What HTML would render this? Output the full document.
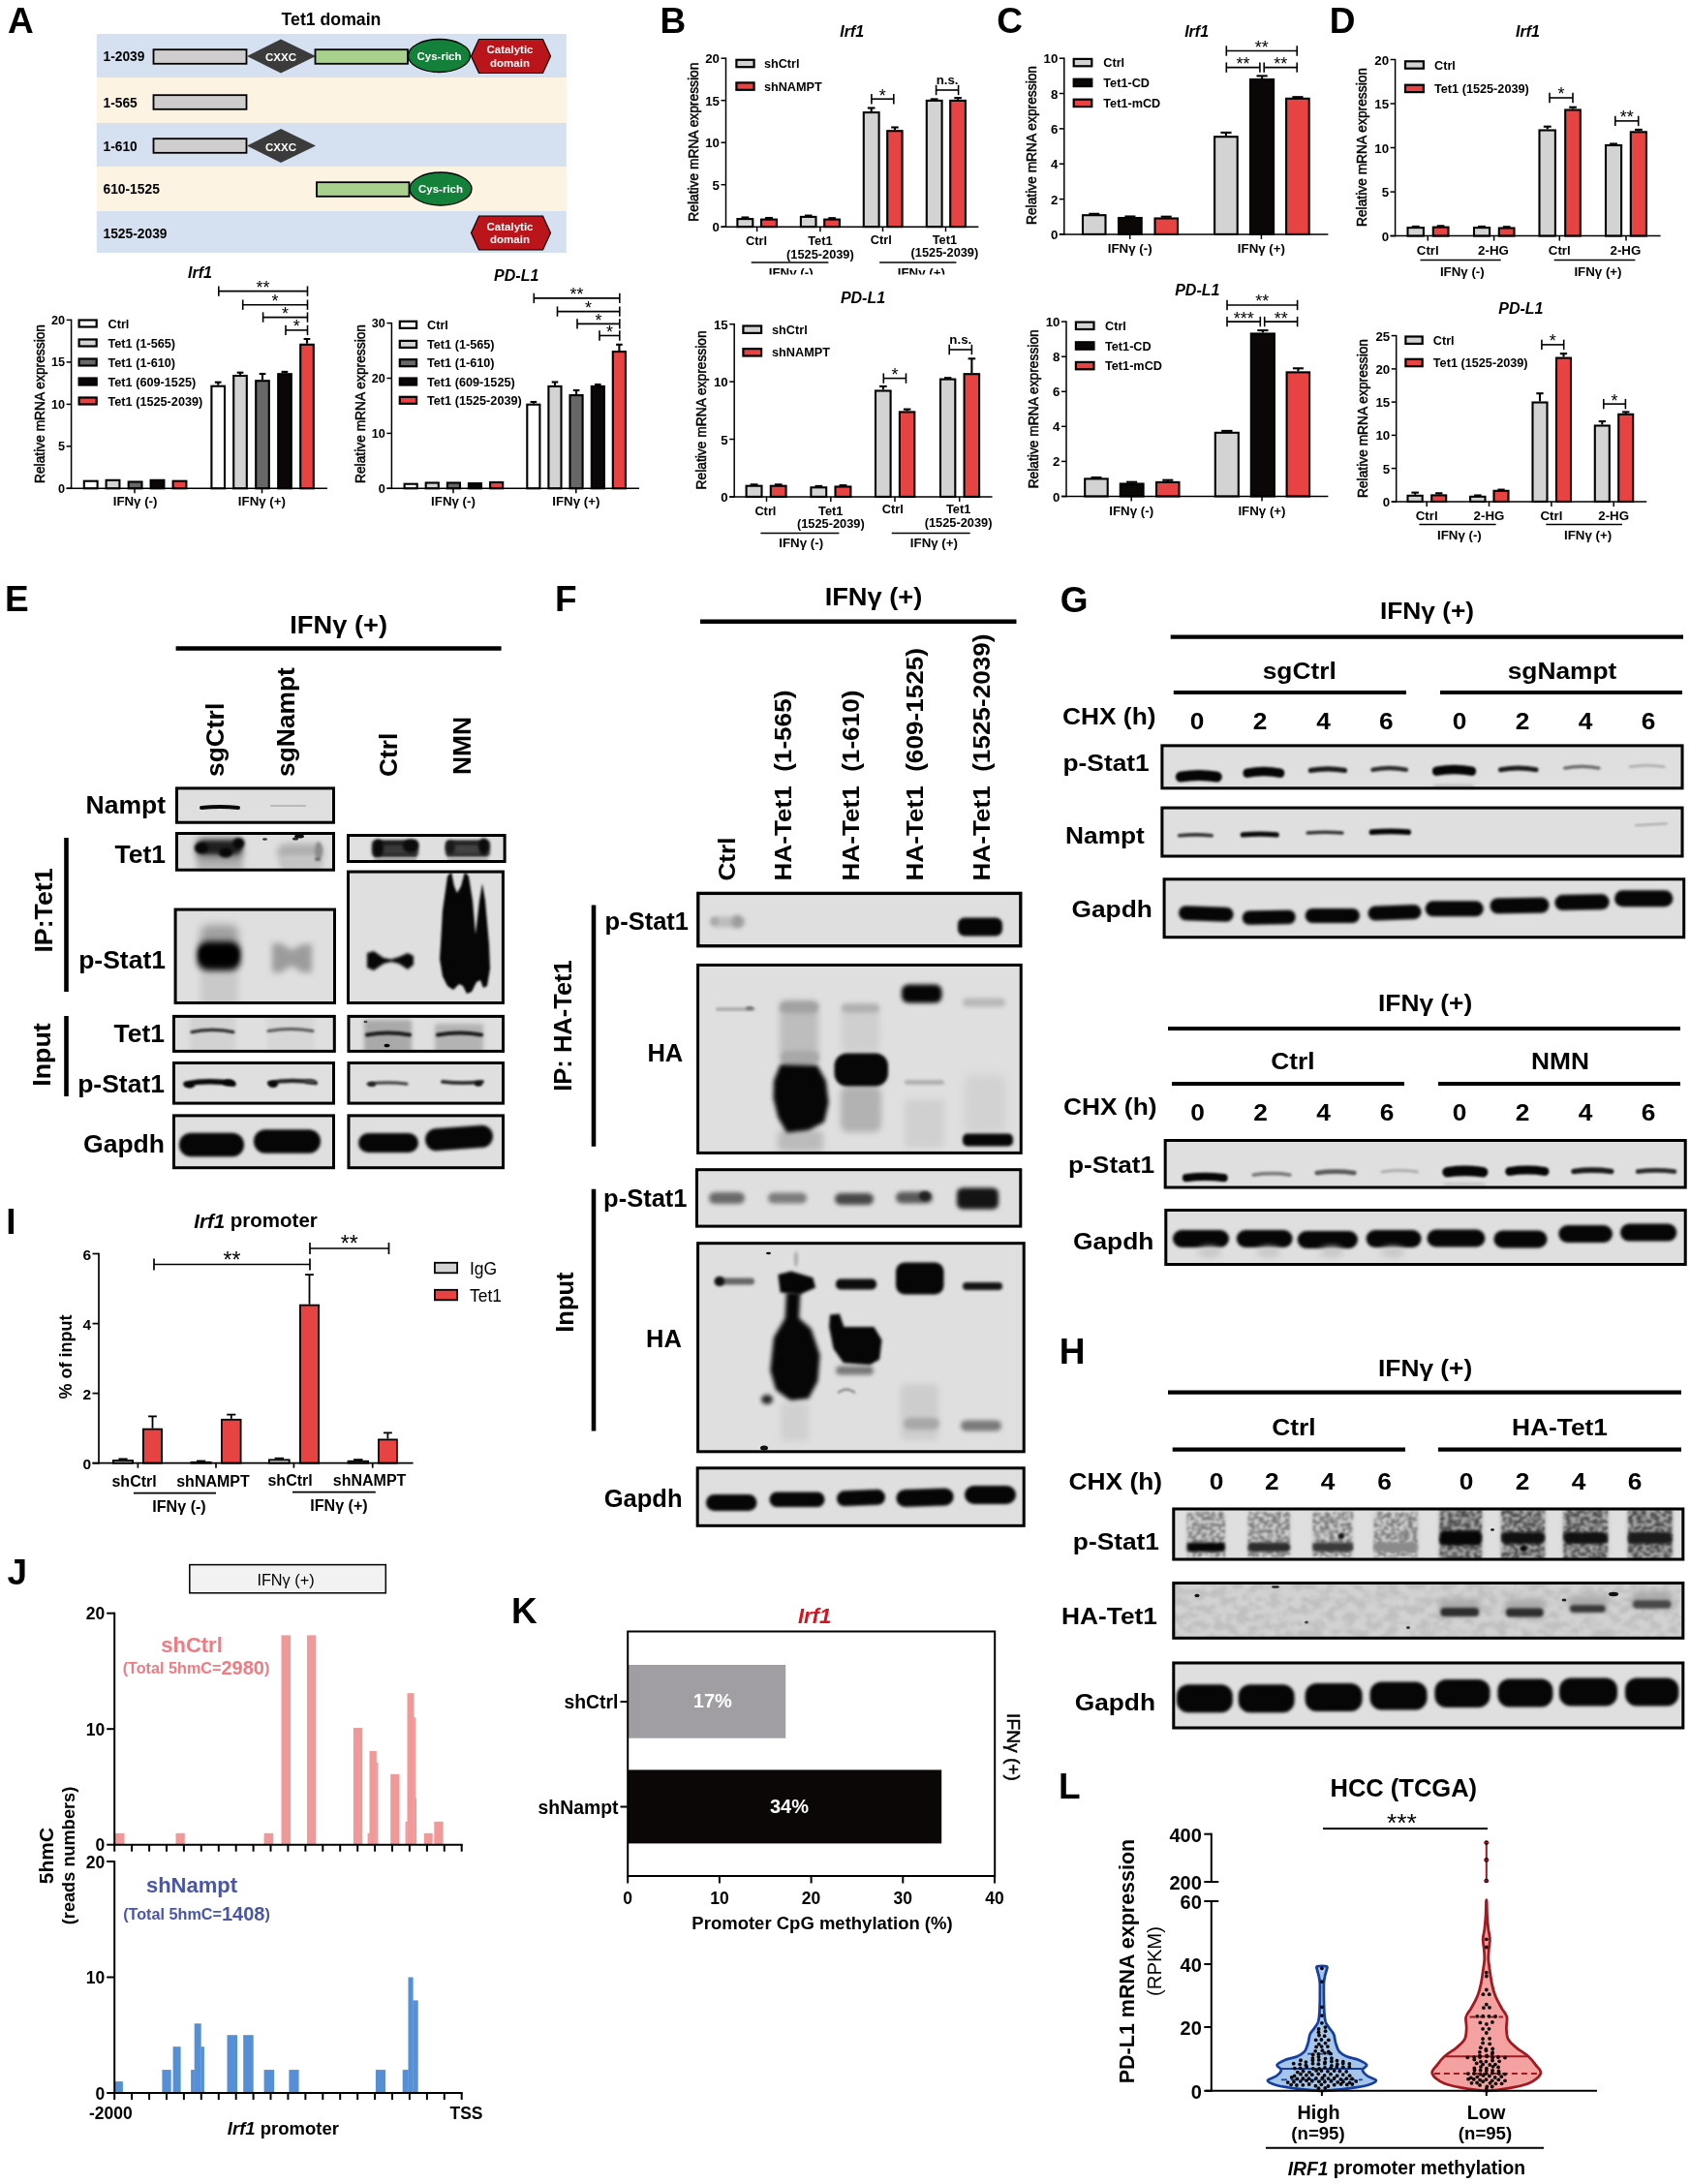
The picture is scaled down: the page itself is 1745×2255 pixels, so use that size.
<!DOCTYPE html>
<html><head><meta charset="utf-8"><title>Figure</title>
<style>
html,body{margin:0;padding:0;background:#fff;}
svg{display:block;font-family:"Liberation Sans",sans-serif;will-change:transform;}
text{font-family:"Liberation Sans",sans-serif;}
</style></head><body>
<svg width="1745" height="2255" viewBox="0 0 1745 2255">
<defs>
<clipPath id="clipB"><rect x="700" y="0" width="340" height="283.5"/></clipPath>
<filter id="b05" color-interpolation-filters="sRGB" x="-30%" y="-60%" width="160%" height="220%"><feGaussianBlur stdDeviation="0.6"/></filter>
<filter id="b1" color-interpolation-filters="sRGB" x="-30%" y="-60%" width="160%" height="220%"><feGaussianBlur stdDeviation="1.0"/></filter>
<filter id="b15" color-interpolation-filters="sRGB" x="-30%" y="-60%" width="160%" height="220%"><feGaussianBlur stdDeviation="1.5"/></filter>
<filter id="b2" color-interpolation-filters="sRGB" x="-30%" y="-60%" width="160%" height="220%"><feGaussianBlur stdDeviation="2.0"/></filter>
<filter id="b3" color-interpolation-filters="sRGB" x="-30%" y="-60%" width="160%" height="220%"><feGaussianBlur stdDeviation="3.0"/></filter>
<filter id="b4" color-interpolation-filters="sRGB" x="-30%" y="-60%" width="160%" height="220%"><feGaussianBlur stdDeviation="4.0"/></filter>
<filter id="b6" color-interpolation-filters="sRGB" x="-30%" y="-60%" width="160%" height="220%"><feGaussianBlur stdDeviation="6.0"/></filter>
<filter id="nz" color-interpolation-filters="sRGB" x="-5%" y="-5%" width="110%" height="110%"><feTurbulence type="fractalNoise" baseFrequency="0.22 0.3" numOctaves="2" seed="5" result="t"/><feColorMatrix in="t" type="matrix" values="0 0 0 0 0  0 0 0 0 0  0 0 0 0 0  5 0 0 0 -2" result="m"/><feComposite in="SourceGraphic" in2="m" operator="in" result="c"/><feGaussianBlur in="c" stdDeviation="0.9"/></filter>
<filter id="nz2" color-interpolation-filters="sRGB" x="-2%" y="-5%" width="104%" height="110%"><feTurbulence type="fractalNoise" baseFrequency="0.09 0.12" numOctaves="3" seed="11" result="t"/><feColorMatrix in="t" type="matrix" values="0 0 0 0 0  0 0 0 0 0  0 0 0 0 0  4 0 0 0 -1.6" result="m"/><feComposite in="SourceGraphic" in2="m" operator="in" result="c"/><feGaussianBlur in="c" stdDeviation="1.2"/></filter>
<clipPath id="bc1"><rect x="181.0" y="812.4" width="165.0" height="38.3"/></clipPath>
<clipPath id="bc2"><rect x="181.0" y="859.0" width="165.0" height="40.7"/></clipPath>
<clipPath id="bc3"><rect x="358.0" y="861.0" width="164.6" height="30.0"/></clipPath>
<clipPath id="bc4"><rect x="179.6" y="937.6" width="167.4" height="99.4"/></clipPath>
<clipPath id="bc5"><rect x="358.0" y="898.6" width="162.9" height="138.4"/></clipPath>
<clipPath id="bc6"><rect x="178.0" y="1047.9" width="168.8" height="39.0"/></clipPath>
<clipPath id="bc7"><rect x="358.5" y="1047.9" width="162.5" height="39.0"/></clipPath>
<clipPath id="bc8"><rect x="178.0" y="1096.0" width="168.0" height="44.6"/></clipPath>
<clipPath id="bc9"><rect x="358.5" y="1096.0" width="162.5" height="44.6"/></clipPath>
<clipPath id="bc10"><rect x="178.0" y="1150.4" width="168.0" height="56.8"/></clipPath>
<clipPath id="bc11"><rect x="358.5" y="1150.4" width="162.5" height="56.8"/></clipPath>
<clipPath id="bc12"><rect x="719.1" y="920.7" width="336.3" height="57.6"/></clipPath>
<clipPath id="bc13"><rect x="719.1" y="994.9" width="336.6" height="197.0"/></clipPath>
<clipPath id="bc14"><rect x="718.0" y="1206.2" width="337.3" height="61.4"/></clipPath>
<clipPath id="bc15"><rect x="719.1" y="1282.2" width="339.6" height="218.1"/></clipPath>
<clipPath id="bc16"><rect x="718.7" y="1514.3" width="340.0" height="62.5"/></clipPath>
<clipPath id="bc17"><rect x="1198.4" y="768.4" width="540.1" height="46.9"/></clipPath>
<clipPath id="bc18"><rect x="1198.4" y="832.6" width="540.1" height="52.9"/></clipPath>
<clipPath id="bc19"><rect x="1200.6" y="906.3" width="539.6" height="62.9"/></clipPath>
<clipPath id="bc20"><rect x="1201.7" y="1176.0" width="540.0" height="51.5"/></clipPath>
<clipPath id="bc21"><rect x="1202.3" y="1248.0" width="539.4" height="59.0"/></clipPath>
<clipPath id="bc22"><rect x="1210.3" y="1556.5" width="529.0" height="55.0"/></clipPath>
<clipPath id="bc23"><rect x="1210.3" y="1633.0" width="529.0" height="59.8"/></clipPath>
<clipPath id="bc24"><rect x="1210.3" y="1715.5" width="529.0" height="70.0"/></clipPath>
</defs>
<rect x="0" y="0" width="1745" height="2255" fill="#fff"/>
<text x="8.0" y="33.7" text-anchor="start" dominant-baseline="alphabetic" fill="#000" style="font-size:37px;font-weight:bold;">A</text>
<text x="342.0" y="19.5" text-anchor="middle" dominant-baseline="central" fill="#000" style="font-size:17.7px;font-weight:bold;">Tet1 domain</text>
<rect x="99.8" y="35.0" width="485.0" height="45.0" fill="#d5e1f0"/>
<rect x="99.8" y="80.0" width="485.0" height="47.0" fill="#fcf3e2"/>
<rect x="99.8" y="127.0" width="485.0" height="45.0" fill="#d5e1f0"/>
<rect x="99.8" y="172.0" width="485.0" height="46.0" fill="#fcf3e2"/>
<rect x="99.8" y="218.0" width="485.0" height="43.0" fill="#d5e1f0"/>
<text x="106.5" y="58.5" text-anchor="start" dominant-baseline="central" fill="#000" style="font-size:13.8px;font-weight:bold;">1-2039</text>
<text x="106.5" y="106.5" text-anchor="start" dominant-baseline="central" fill="#000" style="font-size:13.8px;font-weight:bold;">1-565</text>
<text x="106.5" y="151.0" text-anchor="start" dominant-baseline="central" fill="#000" style="font-size:13.8px;font-weight:bold;">1-610</text>
<text x="106.5" y="195.5" text-anchor="start" dominant-baseline="central" fill="#000" style="font-size:13.8px;font-weight:bold;">610-1525</text>
<text x="106.5" y="241.5" text-anchor="start" dominant-baseline="central" fill="#000" style="font-size:13.8px;font-weight:bold;">1525-2039</text>
<rect x="158.5" y="51.2" width="96.0" height="14.6" fill="#cfcdcd" stroke="#000" stroke-width="1.8"/>
<polygon points="255,58 290,40.5 326,58 290,75.5" fill="#3b3b3b"/>
<text x="290.0" y="59.0" text-anchor="middle" dominant-baseline="central" fill="#fff" style="font-size:11.5px;font-weight:bold;">CXXC</text>
<rect x="325.5" y="51.2" width="95.5" height="14.6" fill="#a8d18d" stroke="#000" stroke-width="1.8"/>
<ellipse cx="453.5" cy="57.5" rx="32" ry="17" fill="#14813b" stroke="#000" stroke-width="1.3"/>
<text x="453.5" y="57.5" text-anchor="middle" dominant-baseline="central" fill="#fff" style="font-size:11.5px;font-weight:bold;">Cys-rich</text>
<polygon points="486.5,58.0 494.5,40.5 560.5,40.5 568.5,58.0 560.5,75.5 494.5,75.5" fill="#b9151b" stroke="#000" stroke-width="1.2"/>
<text x="526.5" y="51.0" text-anchor="middle" dominant-baseline="central" fill="#fff" style="font-size:11.5px;font-weight:bold;">Catalytic</text>
<text x="526.5" y="64.5" text-anchor="middle" dominant-baseline="central" fill="#fff" style="font-size:11.5px;font-weight:bold;">domain</text>
<rect x="158.5" y="98.2" width="96.0" height="14.6" fill="#cfcdcd" stroke="#000" stroke-width="1.8"/>
<rect x="158.5" y="143.2" width="96.0" height="14.6" fill="#cfcdcd" stroke="#000" stroke-width="1.8"/>
<polygon points="255,150.5 290,133.0 326,150.5 290,168.0" fill="#3b3b3b"/>
<text x="290.0" y="151.5" text-anchor="middle" dominant-baseline="central" fill="#fff" style="font-size:11.5px;font-weight:bold;">CXXC</text>
<rect x="327.0" y="188.2" width="95.5" height="14.6" fill="#a8d18d" stroke="#000" stroke-width="1.8"/>
<ellipse cx="455" cy="195" rx="32" ry="17" fill="#14813b" stroke="#000" stroke-width="1.3"/>
<text x="455.0" y="195.0" text-anchor="middle" dominant-baseline="central" fill="#fff" style="font-size:11.5px;font-weight:bold;">Cys-rich</text>
<polygon points="486.5,240.5 494.5,223.0 560.5,223.0 568.5,240.5 560.5,258.0 494.5,258.0" fill="#b9151b" stroke="#000" stroke-width="1.2"/>
<text x="526.5" y="233.5" text-anchor="middle" dominant-baseline="central" fill="#fff" style="font-size:11.5px;font-weight:bold;">Catalytic</text>
<text x="526.5" y="247.0" text-anchor="middle" dominant-baseline="central" fill="#fff" style="font-size:11.5px;font-weight:bold;">domain</text>
<text x="206.5" y="281.0" text-anchor="middle" dominant-baseline="central" fill="#000" style="font-size:16px;font-weight:bold;font-style:italic;">Irf1</text>
<rect x="86.8" y="496.7" width="13.8" height="7.6" fill="#fff" stroke="#000" stroke-width="2.1"/>
<rect x="109.6" y="495.8" width="13.8" height="8.5" fill="#d3d3d3" stroke="#000" stroke-width="2.1"/>
<rect x="132.7" y="497.5" width="13.8" height="6.8" fill="#676767" stroke="#000" stroke-width="2.1"/>
<rect x="155.6" y="495.8" width="13.8" height="8.5" fill="#0b0707" stroke="#000" stroke-width="2.1"/>
<rect x="178.6" y="496.7" width="13.8" height="7.6" fill="#e84343" stroke="#000" stroke-width="2.1"/>
<line x1="225.2" y1="397.6" x2="225.2" y2="394.7" stroke="#000" stroke-width="2.1" stroke-linecap="butt"/>
<line x1="221.8" y1="394.7" x2="228.5" y2="394.7" stroke="#000" stroke-width="2.1" stroke-linecap="butt"/>
<rect x="218.4" y="398.7" width="13.6" height="105.6" fill="#fff" stroke="#000" stroke-width="2.1"/>
<line x1="248.0" y1="386.9" x2="248.0" y2="384.7" stroke="#000" stroke-width="2.1" stroke-linecap="butt"/>
<line x1="244.7" y1="384.7" x2="251.4" y2="384.7" stroke="#000" stroke-width="2.1" stroke-linecap="butt"/>
<rect x="241.2" y="388.0" width="13.6" height="116.3" fill="#d3d3d3" stroke="#000" stroke-width="2.1"/>
<line x1="271.0" y1="392.1" x2="271.0" y2="386.0" stroke="#000" stroke-width="2.1" stroke-linecap="butt"/>
<line x1="267.7" y1="386.0" x2="274.4" y2="386.0" stroke="#000" stroke-width="2.1" stroke-linecap="butt"/>
<rect x="264.2" y="393.2" width="13.6" height="111.1" fill="#676767" stroke="#000" stroke-width="2.1"/>
<line x1="294.0" y1="385.2" x2="294.0" y2="383.9" stroke="#000" stroke-width="2.1" stroke-linecap="butt"/>
<line x1="290.6" y1="383.9" x2="297.3" y2="383.9" stroke="#000" stroke-width="2.1" stroke-linecap="butt"/>
<rect x="287.2" y="386.2" width="13.6" height="118.1" fill="#0b0707" stroke="#000" stroke-width="2.1"/>
<line x1="317.0" y1="354.7" x2="317.0" y2="350.0" stroke="#000" stroke-width="2.1" stroke-linecap="butt"/>
<line x1="313.6" y1="350.0" x2="320.3" y2="350.0" stroke="#000" stroke-width="2.1" stroke-linecap="butt"/>
<rect x="310.2" y="355.8" width="13.6" height="148.5" fill="#e84343" stroke="#000" stroke-width="2.1"/>
<line x1="73.6" y1="329.6" x2="73.6" y2="505.1" stroke="#000" stroke-width="1.5" stroke-linecap="butt"/>
<line x1="68.6" y1="504.3" x2="338.0" y2="504.3" stroke="#000" stroke-width="1.5" stroke-linecap="butt"/>
<line x1="68.6" y1="504.3" x2="73.6" y2="504.3" stroke="#000" stroke-width="1.5" stroke-linecap="butt"/>
<text x="67.1" y="504.8" text-anchor="end" dominant-baseline="central" fill="#000" style="font-size:12.7px;font-weight:bold;">0</text>
<line x1="68.6" y1="460.8" x2="73.6" y2="460.8" stroke="#000" stroke-width="1.5" stroke-linecap="butt"/>
<text x="67.1" y="461.3" text-anchor="end" dominant-baseline="central" fill="#000" style="font-size:12.7px;font-weight:bold;">5</text>
<line x1="68.6" y1="417.4" x2="73.6" y2="417.4" stroke="#000" stroke-width="1.5" stroke-linecap="butt"/>
<text x="67.1" y="417.9" text-anchor="end" dominant-baseline="central" fill="#000" style="font-size:12.7px;font-weight:bold;">10</text>
<line x1="68.6" y1="373.9" x2="73.6" y2="373.9" stroke="#000" stroke-width="1.5" stroke-linecap="butt"/>
<text x="67.1" y="374.4" text-anchor="end" dominant-baseline="central" fill="#000" style="font-size:12.7px;font-weight:bold;">15</text>
<line x1="68.6" y1="330.4" x2="73.6" y2="330.4" stroke="#000" stroke-width="1.5" stroke-linecap="butt"/>
<text x="67.1" y="330.9" text-anchor="end" dominant-baseline="central" fill="#000" style="font-size:12.7px;font-weight:bold;">20</text>
<line x1="139.0" y1="504.3" x2="139.0" y2="509.3" stroke="#000" stroke-width="1.5" stroke-linecap="butt"/>
<line x1="270.5" y1="504.3" x2="270.5" y2="509.3" stroke="#000" stroke-width="1.5" stroke-linecap="butt"/>
<text x="0" y="0" text-anchor="middle" dominant-baseline="central" fill="#000" style="font-size:13.8px;" transform="translate(41.5 417.0) rotate(-90)" stroke="#000" stroke-width="0.5">Relative mRNA expression</text>
<text x="139.6" y="517.5" text-anchor="middle" dominant-baseline="central" fill="#000" style="font-size:13.3px;font-weight:bold;">IFNγ (-)</text>
<text x="270.4" y="517.5" text-anchor="middle" dominant-baseline="central" fill="#000" style="font-size:13.3px;font-weight:bold;">IFNγ (+)</text>
<rect x="81.6" y="330.5" width="18.1" height="7.0" fill="#fff" stroke="#000" stroke-width="2.2"/>
<text x="111.5" y="334.5" text-anchor="start" dominant-baseline="central" fill="#000" style="font-size:12.7px;font-weight:bold;">Ctrl</text>
<rect x="81.6" y="350.5" width="18.1" height="7.0" fill="#d3d3d3" stroke="#000" stroke-width="2.2"/>
<text x="111.5" y="354.5" text-anchor="start" dominant-baseline="central" fill="#000" style="font-size:12.7px;font-weight:bold;">Tet1 (1-565)</text>
<rect x="81.6" y="370.5" width="18.1" height="7.0" fill="#676767" stroke="#000" stroke-width="2.2"/>
<text x="111.5" y="374.5" text-anchor="start" dominant-baseline="central" fill="#000" style="font-size:12.7px;font-weight:bold;">Tet1 (1-610)</text>
<rect x="81.6" y="390.5" width="18.1" height="7.0" fill="#0b0707" stroke="#000" stroke-width="2.2"/>
<text x="111.5" y="394.5" text-anchor="start" dominant-baseline="central" fill="#000" style="font-size:12.7px;font-weight:bold;">Tet1 (609-1525)</text>
<rect x="81.6" y="410.5" width="18.1" height="7.0" fill="#e84343" stroke="#000" stroke-width="2.2"/>
<text x="111.5" y="414.5" text-anchor="start" dominant-baseline="central" fill="#000" style="font-size:12.7px;font-weight:bold;">Tet1 (1525-2039)</text>
<line x1="225.8" y1="300.6" x2="317.5" y2="300.6" stroke="#000" stroke-width="1.6" stroke-linecap="butt"/>
<line x1="225.8" y1="295.4" x2="225.8" y2="305.8" stroke="#000" stroke-width="1.6" stroke-linecap="butt"/>
<line x1="317.5" y1="295.4" x2="317.5" y2="305.8" stroke="#000" stroke-width="1.6" stroke-linecap="butt"/>
<text x="271.6" y="297.0" text-anchor="middle" dominant-baseline="central" fill="#000" style="font-size:18px;">**</text>
<line x1="250.7" y1="314.7" x2="317.5" y2="314.7" stroke="#000" stroke-width="1.6" stroke-linecap="butt"/>
<line x1="250.7" y1="309.5" x2="250.7" y2="319.9" stroke="#000" stroke-width="1.6" stroke-linecap="butt"/>
<line x1="317.5" y1="309.5" x2="317.5" y2="319.9" stroke="#000" stroke-width="1.6" stroke-linecap="butt"/>
<text x="284.1" y="311.1" text-anchor="middle" dominant-baseline="central" fill="#000" style="font-size:18px;">*</text>
<line x1="271.6" y1="327.6" x2="317.5" y2="327.6" stroke="#000" stroke-width="1.6" stroke-linecap="butt"/>
<line x1="271.6" y1="322.4" x2="271.6" y2="332.8" stroke="#000" stroke-width="1.6" stroke-linecap="butt"/>
<line x1="317.5" y1="322.4" x2="317.5" y2="332.8" stroke="#000" stroke-width="1.6" stroke-linecap="butt"/>
<text x="294.6" y="324.0" text-anchor="middle" dominant-baseline="central" fill="#000" style="font-size:18px;">*</text>
<line x1="295.0" y1="340.9" x2="317.5" y2="340.9" stroke="#000" stroke-width="1.6" stroke-linecap="butt"/>
<line x1="295.0" y1="335.7" x2="295.0" y2="346.1" stroke="#000" stroke-width="1.6" stroke-linecap="butt"/>
<line x1="317.5" y1="335.7" x2="317.5" y2="346.1" stroke="#000" stroke-width="1.6" stroke-linecap="butt"/>
<text x="306.2" y="337.3" text-anchor="middle" dominant-baseline="central" fill="#000" style="font-size:18px;">*</text>
<text x="533.2" y="284.0" text-anchor="middle" dominant-baseline="central" fill="#000" style="font-size:16px;font-weight:bold;font-style:italic;">PD-L1</text>
<rect x="417.6" y="499.7" width="13.1" height="4.6" fill="#fff" stroke="#000" stroke-width="2.1"/>
<rect x="439.7" y="498.5" width="13.1" height="5.8" fill="#d3d3d3" stroke="#000" stroke-width="2.1"/>
<rect x="461.9" y="498.5" width="13.1" height="5.8" fill="#676767" stroke="#000" stroke-width="2.1"/>
<rect x="483.9" y="499.1" width="13.1" height="5.2" fill="#0b0707" stroke="#000" stroke-width="2.1"/>
<rect x="506.1" y="498.0" width="13.1" height="6.3" fill="#e84343" stroke="#000" stroke-width="2.1"/>
<line x1="550.9" y1="416.7" x2="550.9" y2="415.0" stroke="#000" stroke-width="2.1" stroke-linecap="butt"/>
<line x1="547.6" y1="415.0" x2="554.2" y2="415.0" stroke="#000" stroke-width="2.1" stroke-linecap="butt"/>
<rect x="544.3" y="417.7" width="13.1" height="86.6" fill="#fff" stroke="#000" stroke-width="2.1"/>
<line x1="573.0" y1="397.9" x2="573.0" y2="394.5" stroke="#000" stroke-width="2.1" stroke-linecap="butt"/>
<line x1="569.7" y1="394.5" x2="576.3" y2="394.5" stroke="#000" stroke-width="2.1" stroke-linecap="butt"/>
<rect x="566.4" y="398.9" width="13.1" height="105.4" fill="#d3d3d3" stroke="#000" stroke-width="2.1"/>
<line x1="595.1" y1="407.0" x2="595.1" y2="403.0" stroke="#000" stroke-width="2.1" stroke-linecap="butt"/>
<line x1="591.8" y1="403.0" x2="598.4" y2="403.0" stroke="#000" stroke-width="2.1" stroke-linecap="butt"/>
<rect x="588.5" y="408.1" width="13.1" height="96.2" fill="#676767" stroke="#000" stroke-width="2.1"/>
<line x1="617.3" y1="397.9" x2="617.3" y2="397.0" stroke="#000" stroke-width="2.1" stroke-linecap="butt"/>
<line x1="614.0" y1="397.0" x2="620.6" y2="397.0" stroke="#000" stroke-width="2.1" stroke-linecap="butt"/>
<rect x="610.8" y="398.9" width="13.1" height="105.4" fill="#0b0707" stroke="#000" stroke-width="2.1"/>
<line x1="639.4" y1="362.1" x2="639.4" y2="355.8" stroke="#000" stroke-width="2.1" stroke-linecap="butt"/>
<line x1="636.1" y1="355.8" x2="642.7" y2="355.8" stroke="#000" stroke-width="2.1" stroke-linecap="butt"/>
<rect x="632.8" y="363.1" width="13.1" height="141.2" fill="#e84343" stroke="#000" stroke-width="2.1"/>
<line x1="404.4" y1="332.9" x2="404.4" y2="505.1" stroke="#000" stroke-width="1.5" stroke-linecap="butt"/>
<line x1="399.4" y1="504.3" x2="660.0" y2="504.3" stroke="#000" stroke-width="1.5" stroke-linecap="butt"/>
<line x1="399.4" y1="504.3" x2="404.4" y2="504.3" stroke="#000" stroke-width="1.5" stroke-linecap="butt"/>
<text x="397.9" y="504.8" text-anchor="end" dominant-baseline="central" fill="#000" style="font-size:12.7px;font-weight:bold;">0</text>
<line x1="399.4" y1="447.4" x2="404.4" y2="447.4" stroke="#000" stroke-width="1.5" stroke-linecap="butt"/>
<text x="397.9" y="447.9" text-anchor="end" dominant-baseline="central" fill="#000" style="font-size:12.7px;font-weight:bold;">10</text>
<line x1="399.4" y1="390.5" x2="404.4" y2="390.5" stroke="#000" stroke-width="1.5" stroke-linecap="butt"/>
<text x="397.9" y="391.0" text-anchor="end" dominant-baseline="central" fill="#000" style="font-size:12.7px;font-weight:bold;">20</text>
<line x1="399.4" y1="333.6" x2="404.4" y2="333.6" stroke="#000" stroke-width="1.5" stroke-linecap="butt"/>
<text x="397.9" y="334.1" text-anchor="end" dominant-baseline="central" fill="#000" style="font-size:12.7px;font-weight:bold;">30</text>
<line x1="468.0" y1="504.3" x2="468.0" y2="509.3" stroke="#000" stroke-width="1.5" stroke-linecap="butt"/>
<line x1="594.8" y1="504.3" x2="594.8" y2="509.3" stroke="#000" stroke-width="1.5" stroke-linecap="butt"/>
<text x="0" y="0" text-anchor="middle" dominant-baseline="central" fill="#000" style="font-size:13.8px;" transform="translate(372.5 417.0) rotate(-90)" stroke="#000" stroke-width="0.5">Relative mRNA expression</text>
<text x="468.0" y="517.0" text-anchor="middle" dominant-baseline="central" fill="#000" style="font-size:13.3px;font-weight:bold;">IFNγ (-)</text>
<text x="594.8" y="517.0" text-anchor="middle" dominant-baseline="central" fill="#000" style="font-size:13.3px;font-weight:bold;">IFNγ (+)</text>
<rect x="412.8" y="331.8" width="17.3" height="7.0" fill="#fff" stroke="#000" stroke-width="2.2"/>
<text x="441.0" y="335.8" text-anchor="start" dominant-baseline="central" fill="#000" style="font-size:12.7px;font-weight:bold;">Ctrl</text>
<rect x="412.8" y="351.9" width="17.3" height="7.0" fill="#d3d3d3" stroke="#000" stroke-width="2.2"/>
<text x="441.0" y="355.9" text-anchor="start" dominant-baseline="central" fill="#000" style="font-size:12.7px;font-weight:bold;">Tet1 (1-565)</text>
<rect x="412.8" y="371.2" width="17.3" height="7.0" fill="#676767" stroke="#000" stroke-width="2.2"/>
<text x="441.0" y="375.2" text-anchor="start" dominant-baseline="central" fill="#000" style="font-size:12.7px;font-weight:bold;">Tet1 (1-610)</text>
<rect x="412.8" y="390.5" width="17.3" height="7.0" fill="#0b0707" stroke="#000" stroke-width="2.2"/>
<text x="441.0" y="394.5" text-anchor="start" dominant-baseline="central" fill="#000" style="font-size:12.7px;font-weight:bold;">Tet1 (609-1525)</text>
<rect x="412.8" y="409.8" width="17.3" height="7.0" fill="#e84343" stroke="#000" stroke-width="2.2"/>
<text x="441.0" y="413.8" text-anchor="start" dominant-baseline="central" fill="#000" style="font-size:12.7px;font-weight:bold;">Tet1 (1525-2039)</text>
<line x1="551.3" y1="307.9" x2="639.8" y2="307.9" stroke="#000" stroke-width="1.6" stroke-linecap="butt"/>
<line x1="551.3" y1="302.7" x2="551.3" y2="313.1" stroke="#000" stroke-width="1.6" stroke-linecap="butt"/>
<line x1="639.8" y1="302.7" x2="639.8" y2="313.1" stroke="#000" stroke-width="1.6" stroke-linecap="butt"/>
<text x="595.5" y="304.3" text-anchor="middle" dominant-baseline="central" fill="#000" style="font-size:18px;">**</text>
<line x1="575.5" y1="321.6" x2="639.8" y2="321.6" stroke="#000" stroke-width="1.6" stroke-linecap="butt"/>
<line x1="575.5" y1="316.4" x2="575.5" y2="326.8" stroke="#000" stroke-width="1.6" stroke-linecap="butt"/>
<line x1="639.8" y1="316.4" x2="639.8" y2="326.8" stroke="#000" stroke-width="1.6" stroke-linecap="butt"/>
<text x="607.6" y="318.0" text-anchor="middle" dominant-baseline="central" fill="#000" style="font-size:18px;">*</text>
<line x1="596.0" y1="334.4" x2="639.8" y2="334.4" stroke="#000" stroke-width="1.6" stroke-linecap="butt"/>
<line x1="596.0" y1="329.2" x2="596.0" y2="339.6" stroke="#000" stroke-width="1.6" stroke-linecap="butt"/>
<line x1="639.8" y1="329.2" x2="639.8" y2="339.6" stroke="#000" stroke-width="1.6" stroke-linecap="butt"/>
<text x="617.9" y="330.8" text-anchor="middle" dominant-baseline="central" fill="#000" style="font-size:18px;">*</text>
<line x1="619.0" y1="346.5" x2="639.8" y2="346.5" stroke="#000" stroke-width="1.6" stroke-linecap="butt"/>
<line x1="619.0" y1="341.3" x2="619.0" y2="351.7" stroke="#000" stroke-width="1.6" stroke-linecap="butt"/>
<line x1="639.8" y1="341.3" x2="639.8" y2="351.7" stroke="#000" stroke-width="1.6" stroke-linecap="butt"/>
<text x="629.4" y="342.9" text-anchor="middle" dominant-baseline="central" fill="#000" style="font-size:18px;">*</text>
<text x="681.5" y="33.5" text-anchor="start" dominant-baseline="alphabetic" fill="#000" style="font-size:37px;font-weight:bold;">B</text>
<text x="879.7" y="32.8" text-anchor="middle" dominant-baseline="central" fill="#000" style="font-size:16px;font-weight:bold;font-style:italic;">Irf1</text>
<line x1="769.4" y1="225.1" x2="769.4" y2="224.5" stroke="#000" stroke-width="2.1" stroke-linecap="butt"/>
<line x1="765.5" y1="224.5" x2="773.3" y2="224.5" stroke="#000" stroke-width="2.1" stroke-linecap="butt"/>
<rect x="761.4" y="226.1" width="15.9" height="8.1" fill="#d3d3d3" stroke="#000" stroke-width="2.1"/>
<line x1="794.0" y1="225.5" x2="794.0" y2="225.0" stroke="#000" stroke-width="2.1" stroke-linecap="butt"/>
<line x1="790.1" y1="225.0" x2="797.9" y2="225.0" stroke="#000" stroke-width="2.1" stroke-linecap="butt"/>
<rect x="786.0" y="226.6" width="15.9" height="7.6" fill="#e84343" stroke="#000" stroke-width="2.1"/>
<line x1="834.8" y1="222.9" x2="834.8" y2="222.6" stroke="#000" stroke-width="2.1" stroke-linecap="butt"/>
<line x1="830.9" y1="222.6" x2="838.6" y2="222.6" stroke="#000" stroke-width="2.1" stroke-linecap="butt"/>
<rect x="826.9" y="223.9" width="15.6" height="10.3" fill="#d3d3d3" stroke="#000" stroke-width="2.1"/>
<line x1="859.1" y1="225.5" x2="859.1" y2="225.2" stroke="#000" stroke-width="2.1" stroke-linecap="butt"/>
<line x1="855.3" y1="225.2" x2="862.9" y2="225.2" stroke="#000" stroke-width="2.1" stroke-linecap="butt"/>
<rect x="851.2" y="226.6" width="15.7" height="7.6" fill="#e84343" stroke="#000" stroke-width="2.1"/>
<line x1="899.7" y1="115.0" x2="899.7" y2="111.5" stroke="#000" stroke-width="2.1" stroke-linecap="butt"/>
<line x1="895.8" y1="111.5" x2="903.5" y2="111.5" stroke="#000" stroke-width="2.1" stroke-linecap="butt"/>
<rect x="891.8" y="116.1" width="15.8" height="118.1" fill="#d3d3d3" stroke="#000" stroke-width="2.1"/>
<line x1="924.0" y1="134.1" x2="924.0" y2="131.5" stroke="#000" stroke-width="2.1" stroke-linecap="butt"/>
<line x1="920.2" y1="131.5" x2="927.7" y2="131.5" stroke="#000" stroke-width="2.1" stroke-linecap="butt"/>
<rect x="916.2" y="135.2" width="15.4" height="99.0" fill="#e84343" stroke="#000" stroke-width="2.1"/>
<line x1="964.7" y1="102.8" x2="964.7" y2="102.4" stroke="#000" stroke-width="2.1" stroke-linecap="butt"/>
<line x1="960.8" y1="102.4" x2="968.5" y2="102.4" stroke="#000" stroke-width="2.1" stroke-linecap="butt"/>
<rect x="956.8" y="103.9" width="15.8" height="130.3" fill="#d3d3d3" stroke="#000" stroke-width="2.1"/>
<line x1="989.1" y1="102.8" x2="989.1" y2="101.1" stroke="#000" stroke-width="2.1" stroke-linecap="butt"/>
<line x1="985.3" y1="101.1" x2="992.9" y2="101.1" stroke="#000" stroke-width="2.1" stroke-linecap="butt"/>
<rect x="981.2" y="103.9" width="15.7" height="130.3" fill="#e84343" stroke="#000" stroke-width="2.1"/>
<line x1="749.5" y1="59.5" x2="749.5" y2="234.9" stroke="#000" stroke-width="1.5" stroke-linecap="butt"/>
<line x1="744.5" y1="234.2" x2="1010.4" y2="234.2" stroke="#000" stroke-width="1.5" stroke-linecap="butt"/>
<line x1="744.5" y1="234.2" x2="749.5" y2="234.2" stroke="#000" stroke-width="1.5" stroke-linecap="butt"/>
<text x="743.0" y="234.7" text-anchor="end" dominant-baseline="central" fill="#000" style="font-size:13.3px;font-weight:bold;">0</text>
<line x1="744.5" y1="190.7" x2="749.5" y2="190.7" stroke="#000" stroke-width="1.5" stroke-linecap="butt"/>
<text x="743.0" y="191.2" text-anchor="end" dominant-baseline="central" fill="#000" style="font-size:13.3px;font-weight:bold;">5</text>
<line x1="744.5" y1="147.2" x2="749.5" y2="147.2" stroke="#000" stroke-width="1.5" stroke-linecap="butt"/>
<text x="743.0" y="147.7" text-anchor="end" dominant-baseline="central" fill="#000" style="font-size:13.3px;font-weight:bold;">10</text>
<line x1="744.5" y1="103.7" x2="749.5" y2="103.7" stroke="#000" stroke-width="1.5" stroke-linecap="butt"/>
<text x="743.0" y="104.2" text-anchor="end" dominant-baseline="central" fill="#000" style="font-size:13.3px;font-weight:bold;">15</text>
<line x1="744.5" y1="60.2" x2="749.5" y2="60.2" stroke="#000" stroke-width="1.5" stroke-linecap="butt"/>
<text x="743.0" y="60.7" text-anchor="end" dominant-baseline="central" fill="#000" style="font-size:13.3px;font-weight:bold;">20</text>
<line x1="781.6" y1="234.2" x2="781.6" y2="239.2" stroke="#000" stroke-width="1.5" stroke-linecap="butt"/>
<line x1="846.9" y1="234.2" x2="846.9" y2="239.2" stroke="#000" stroke-width="1.5" stroke-linecap="butt"/>
<line x1="911.5" y1="234.2" x2="911.5" y2="239.2" stroke="#000" stroke-width="1.5" stroke-linecap="butt"/>
<line x1="976.5" y1="234.2" x2="976.5" y2="239.2" stroke="#000" stroke-width="1.5" stroke-linecap="butt"/>
<text x="0" y="0" text-anchor="middle" dominant-baseline="central" fill="#000" style="font-size:13.8px;" transform="translate(716.4 146.7) rotate(-90)" stroke="#000" stroke-width="0.5">Relative mRNA expression</text>
<rect x="760.4" y="61.8" width="18.2" height="7.4" fill="#d3d3d3" stroke="#000" stroke-width="2.2"/>
<text x="788.9" y="66.0" text-anchor="start" dominant-baseline="central" fill="#000" style="font-size:12.7px;font-weight:bold;">shCtrl</text>
<rect x="760.4" y="85.4" width="18.2" height="7.4" fill="#e84343" stroke="#000" stroke-width="2.2"/>
<text x="788.9" y="89.6" text-anchor="start" dominant-baseline="central" fill="#000" style="font-size:12.7px;font-weight:bold;">shNAMPT</text>
<line x1="899.9" y1="102.2" x2="922.8" y2="102.2" stroke="#000" stroke-width="1.6" stroke-linecap="butt"/>
<line x1="899.9" y1="97.0" x2="899.9" y2="107.4" stroke="#000" stroke-width="1.6" stroke-linecap="butt"/>
<line x1="922.8" y1="97.0" x2="922.8" y2="107.4" stroke="#000" stroke-width="1.6" stroke-linecap="butt"/>
<text x="911.3" y="98.6" text-anchor="middle" dominant-baseline="central" fill="#000" style="font-size:18px;">*</text>
<line x1="966.6" y1="93.0" x2="989.6" y2="93.0" stroke="#000" stroke-width="1.6" stroke-linecap="butt"/>
<line x1="966.6" y1="87.8" x2="966.6" y2="98.2" stroke="#000" stroke-width="1.6" stroke-linecap="butt"/>
<line x1="989.6" y1="87.8" x2="989.6" y2="98.2" stroke="#000" stroke-width="1.6" stroke-linecap="butt"/>
<text x="978.1" y="82.5" text-anchor="middle" dominant-baseline="central" fill="#000" style="font-size:13.3px;font-weight:bold;">n.s.</text>
<text x="781.0" y="248.5" text-anchor="middle" dominant-baseline="central" fill="#000" style="font-size:12.8px;font-weight:bold;">Ctrl</text>
<text x="846.9" y="248.5" text-anchor="middle" dominant-baseline="central" fill="#000" style="font-size:12.8px;font-weight:bold;">Tet1</text>
<text x="846.9" y="262.0" text-anchor="middle" dominant-baseline="central" fill="#000" style="font-size:12.8px;font-weight:bold;">(1525-2039)</text>
<text x="909.7" y="247.0" text-anchor="middle" dominant-baseline="central" fill="#000" style="font-size:12.8px;font-weight:bold;">Ctrl</text>
<text x="975.4" y="247.0" text-anchor="middle" dominant-baseline="central" fill="#000" style="font-size:12.8px;font-weight:bold;">Tet1</text>
<text x="975.4" y="260.5" text-anchor="middle" dominant-baseline="central" fill="#000" style="font-size:12.8px;font-weight:bold;">(1525-2039)</text>
<line x1="775.7" y1="271.0" x2="855.4" y2="271.0" stroke="#000" stroke-width="1.5" stroke-linecap="butt"/>
<line x1="908.2" y1="271.0" x2="987.4" y2="271.0" stroke="#000" stroke-width="1.5" stroke-linecap="butt"/>
<text x="816.7" y="281.8" text-anchor="middle" dominant-baseline="central" fill="#000" style="font-size:13.3px;font-weight:bold;" clip-path="url(#clipB)">IFNγ (-)</text>
<text x="951.3" y="281.8" text-anchor="middle" dominant-baseline="central" fill="#000" style="font-size:13.3px;font-weight:bold;" clip-path="url(#clipB)">IFNγ (+)</text>
<text x="891.0" y="307.4" text-anchor="middle" dominant-baseline="central" fill="#000" style="font-size:16px;font-weight:bold;font-style:italic;">PD-L1</text>
<line x1="778.6" y1="500.7" x2="778.6" y2="500.3" stroke="#000" stroke-width="2.1" stroke-linecap="butt"/>
<line x1="774.7" y1="500.3" x2="782.5" y2="500.3" stroke="#000" stroke-width="2.1" stroke-linecap="butt"/>
<rect x="770.6" y="501.7" width="15.9" height="11.2" fill="#d3d3d3" stroke="#000" stroke-width="2.1"/>
<line x1="803.8" y1="500.7" x2="803.8" y2="500.3" stroke="#000" stroke-width="2.1" stroke-linecap="butt"/>
<line x1="799.9" y1="500.3" x2="807.6" y2="500.3" stroke="#000" stroke-width="2.1" stroke-linecap="butt"/>
<rect x="795.8" y="501.7" width="15.8" height="11.2" fill="#e84343" stroke="#000" stroke-width="2.1"/>
<line x1="845.3" y1="502.2" x2="845.3" y2="501.9" stroke="#000" stroke-width="2.1" stroke-linecap="butt"/>
<line x1="841.5" y1="501.9" x2="849.2" y2="501.9" stroke="#000" stroke-width="2.1" stroke-linecap="butt"/>
<rect x="837.4" y="503.3" width="15.8" height="9.6" fill="#d3d3d3" stroke="#000" stroke-width="2.1"/>
<line x1="870.5" y1="501.5" x2="870.5" y2="501.1" stroke="#000" stroke-width="2.1" stroke-linecap="butt"/>
<line x1="866.6" y1="501.1" x2="874.4" y2="501.1" stroke="#000" stroke-width="2.1" stroke-linecap="butt"/>
<rect x="862.5" y="502.5" width="15.9" height="10.4" fill="#e84343" stroke="#000" stroke-width="2.1"/>
<line x1="911.9" y1="402.4" x2="911.9" y2="398.9" stroke="#000" stroke-width="2.1" stroke-linecap="butt"/>
<line x1="908.0" y1="398.9" x2="915.7" y2="398.9" stroke="#000" stroke-width="2.1" stroke-linecap="butt"/>
<rect x="904.0" y="403.5" width="15.6" height="109.4" fill="#d3d3d3" stroke="#000" stroke-width="2.1"/>
<line x1="936.6" y1="424.4" x2="936.6" y2="422.6" stroke="#000" stroke-width="2.1" stroke-linecap="butt"/>
<line x1="932.9" y1="422.6" x2="940.4" y2="422.6" stroke="#000" stroke-width="2.1" stroke-linecap="butt"/>
<rect x="928.9" y="425.4" width="15.4" height="87.5" fill="#e84343" stroke="#000" stroke-width="2.1"/>
<line x1="978.7" y1="390.5" x2="978.7" y2="390.2" stroke="#000" stroke-width="2.1" stroke-linecap="butt"/>
<line x1="975.0" y1="390.2" x2="982.4" y2="390.2" stroke="#000" stroke-width="2.1" stroke-linecap="butt"/>
<rect x="971.0" y="391.6" width="15.3" height="121.3" fill="#d3d3d3" stroke="#000" stroke-width="2.1"/>
<line x1="1003.4" y1="385.2" x2="1003.4" y2="370.3" stroke="#000" stroke-width="2.1" stroke-linecap="butt"/>
<line x1="999.6" y1="370.3" x2="1007.2" y2="370.3" stroke="#000" stroke-width="2.1" stroke-linecap="butt"/>
<rect x="995.6" y="386.2" width="15.5" height="126.7" fill="#e84343" stroke="#000" stroke-width="2.1"/>
<line x1="758.2" y1="333.9" x2="758.2" y2="513.6" stroke="#000" stroke-width="1.5" stroke-linecap="butt"/>
<line x1="753.2" y1="512.9" x2="1024.6" y2="512.9" stroke="#000" stroke-width="1.5" stroke-linecap="butt"/>
<line x1="753.2" y1="512.9" x2="758.2" y2="512.9" stroke="#000" stroke-width="1.5" stroke-linecap="butt"/>
<text x="751.7" y="513.4" text-anchor="end" dominant-baseline="central" fill="#000" style="font-size:13.3px;font-weight:bold;">0</text>
<line x1="753.2" y1="453.5" x2="758.2" y2="453.5" stroke="#000" stroke-width="1.5" stroke-linecap="butt"/>
<text x="751.7" y="454.0" text-anchor="end" dominant-baseline="central" fill="#000" style="font-size:13.3px;font-weight:bold;">5</text>
<line x1="753.2" y1="394.1" x2="758.2" y2="394.1" stroke="#000" stroke-width="1.5" stroke-linecap="butt"/>
<text x="751.7" y="394.6" text-anchor="end" dominant-baseline="central" fill="#000" style="font-size:13.3px;font-weight:bold;">10</text>
<line x1="753.2" y1="334.7" x2="758.2" y2="334.7" stroke="#000" stroke-width="1.5" stroke-linecap="butt"/>
<text x="751.7" y="335.2" text-anchor="end" dominant-baseline="central" fill="#000" style="font-size:13.3px;font-weight:bold;">15</text>
<line x1="791.5" y1="512.9" x2="791.5" y2="517.9" stroke="#000" stroke-width="1.5" stroke-linecap="butt"/>
<line x1="857.8" y1="512.9" x2="857.8" y2="517.9" stroke="#000" stroke-width="1.5" stroke-linecap="butt"/>
<line x1="924.0" y1="512.9" x2="924.0" y2="517.9" stroke="#000" stroke-width="1.5" stroke-linecap="butt"/>
<line x1="990.7" y1="512.9" x2="990.7" y2="517.9" stroke="#000" stroke-width="1.5" stroke-linecap="butt"/>
<text x="0" y="0" text-anchor="middle" dominant-baseline="central" fill="#000" style="font-size:13.8px;" transform="translate(724.3 423.4) rotate(-90)" stroke="#000" stroke-width="0.5">Relative mRNA expression</text>
<rect x="767.4" y="336.5" width="18.7" height="7.4" fill="#d3d3d3" stroke="#000" stroke-width="2.2"/>
<text x="797.0" y="340.7" text-anchor="start" dominant-baseline="central" fill="#000" style="font-size:12.7px;font-weight:bold;">shCtrl</text>
<rect x="767.4" y="360.1" width="18.7" height="7.4" fill="#e84343" stroke="#000" stroke-width="2.2"/>
<text x="797.0" y="364.3" text-anchor="start" dominant-baseline="central" fill="#000" style="font-size:12.7px;font-weight:bold;">shNAMPT</text>
<line x1="912.3" y1="390.6" x2="935.5" y2="390.6" stroke="#000" stroke-width="1.6" stroke-linecap="butt"/>
<line x1="912.3" y1="385.4" x2="912.3" y2="395.8" stroke="#000" stroke-width="1.6" stroke-linecap="butt"/>
<line x1="935.5" y1="385.4" x2="935.5" y2="395.8" stroke="#000" stroke-width="1.6" stroke-linecap="butt"/>
<text x="923.9" y="387.0" text-anchor="middle" dominant-baseline="central" fill="#000" style="font-size:18px;">*</text>
<line x1="980.2" y1="361.0" x2="1003.4" y2="361.0" stroke="#000" stroke-width="1.6" stroke-linecap="butt"/>
<line x1="980.2" y1="355.8" x2="980.2" y2="366.2" stroke="#000" stroke-width="1.6" stroke-linecap="butt"/>
<line x1="1003.4" y1="355.8" x2="1003.4" y2="366.2" stroke="#000" stroke-width="1.6" stroke-linecap="butt"/>
<text x="991.8" y="350.5" text-anchor="middle" dominant-baseline="central" fill="#000" style="font-size:13.3px;font-weight:bold;">n.s.</text>
<text x="790.4" y="527.4" text-anchor="middle" dominant-baseline="central" fill="#000" style="font-size:12.8px;font-weight:bold;">Ctrl</text>
<text x="857.8" y="527.4" text-anchor="middle" dominant-baseline="central" fill="#000" style="font-size:12.8px;font-weight:bold;">Tet1</text>
<text x="857.8" y="540.9" text-anchor="middle" dominant-baseline="central" fill="#000" style="font-size:12.8px;font-weight:bold;">(1525-2039)</text>
<text x="921.8" y="525.8" text-anchor="middle" dominant-baseline="central" fill="#000" style="font-size:12.8px;font-weight:bold;">Ctrl</text>
<text x="989.6" y="525.8" text-anchor="middle" dominant-baseline="central" fill="#000" style="font-size:12.8px;font-weight:bold;">Tet1</text>
<text x="989.6" y="539.3" text-anchor="middle" dominant-baseline="central" fill="#000" style="font-size:12.8px;font-weight:bold;">(1525-2039)</text>
<line x1="785.4" y1="550.4" x2="866.4" y2="550.4" stroke="#000" stroke-width="1.5" stroke-linecap="butt"/>
<line x1="920.7" y1="550.4" x2="1001.7" y2="550.4" stroke="#000" stroke-width="1.5" stroke-linecap="butt"/>
<text x="827.2" y="560.9" text-anchor="middle" dominant-baseline="central" fill="#000" style="font-size:13.3px;font-weight:bold;">IFNγ (-)</text>
<text x="964.4" y="560.9" text-anchor="middle" dominant-baseline="central" fill="#000" style="font-size:13.3px;font-weight:bold;">IFNγ (+)</text>
<text x="1029.3" y="33.5" text-anchor="start" dominant-baseline="alphabetic" fill="#000" style="font-size:37px;font-weight:bold;">C</text>
<text x="1235.6" y="32.4" text-anchor="middle" dominant-baseline="central" fill="#000" style="font-size:16px;font-weight:bold;font-style:italic;">Irf1</text>
<line x1="1129.8" y1="221.2" x2="1129.8" y2="220.8" stroke="#000" stroke-width="2.1" stroke-linecap="butt"/>
<line x1="1124.3" y1="220.8" x2="1135.3" y2="220.8" stroke="#000" stroke-width="2.1" stroke-linecap="butt"/>
<rect x="1118.0" y="222.2" width="23.5" height="19.7" fill="#d3d3d3" stroke="#000" stroke-width="2.1"/>
<line x1="1166.9" y1="223.9" x2="1166.9" y2="223.5" stroke="#000" stroke-width="2.1" stroke-linecap="butt"/>
<line x1="1161.4" y1="223.5" x2="1172.4" y2="223.5" stroke="#000" stroke-width="2.1" stroke-linecap="butt"/>
<rect x="1155.0" y="225.0" width="23.7" height="16.9" fill="#0b0707" stroke="#000" stroke-width="2.1"/>
<line x1="1204.2" y1="224.5" x2="1204.2" y2="223.7" stroke="#000" stroke-width="2.1" stroke-linecap="butt"/>
<line x1="1198.7" y1="223.7" x2="1209.7" y2="223.7" stroke="#000" stroke-width="2.1" stroke-linecap="butt"/>
<rect x="1192.5" y="225.5" width="23.5" height="16.4" fill="#e84343" stroke="#000" stroke-width="2.1"/>
<line x1="1265.9" y1="140.1" x2="1265.9" y2="136.9" stroke="#000" stroke-width="2.1" stroke-linecap="butt"/>
<line x1="1260.4" y1="136.9" x2="1271.5" y2="136.9" stroke="#000" stroke-width="2.1" stroke-linecap="butt"/>
<rect x="1254.1" y="141.2" width="23.6" height="100.7" fill="#d3d3d3" stroke="#000" stroke-width="2.1"/>
<line x1="1303.1" y1="80.9" x2="1303.1" y2="78.4" stroke="#000" stroke-width="2.1" stroke-linecap="butt"/>
<line x1="1297.5" y1="78.4" x2="1308.7" y2="78.4" stroke="#000" stroke-width="2.1" stroke-linecap="butt"/>
<rect x="1291.0" y="82.0" width="24.1" height="159.9" fill="#0b0707" stroke="#000" stroke-width="2.1"/>
<line x1="1339.9" y1="100.7" x2="1339.9" y2="100.2" stroke="#000" stroke-width="2.1" stroke-linecap="butt"/>
<line x1="1334.4" y1="100.2" x2="1345.5" y2="100.2" stroke="#000" stroke-width="2.1" stroke-linecap="butt"/>
<rect x="1328.1" y="101.8" width="23.6" height="140.1" fill="#e84343" stroke="#000" stroke-width="2.1"/>
<line x1="1098.8" y1="59.5" x2="1098.8" y2="242.7" stroke="#000" stroke-width="1.5" stroke-linecap="butt"/>
<line x1="1093.8" y1="241.9" x2="1371.4" y2="241.9" stroke="#000" stroke-width="1.5" stroke-linecap="butt"/>
<line x1="1093.8" y1="241.9" x2="1098.8" y2="241.9" stroke="#000" stroke-width="1.5" stroke-linecap="butt"/>
<text x="1092.3" y="242.4" text-anchor="end" dominant-baseline="central" fill="#000" style="font-size:13.3px;font-weight:bold;">0</text>
<line x1="1093.8" y1="205.6" x2="1098.8" y2="205.6" stroke="#000" stroke-width="1.5" stroke-linecap="butt"/>
<text x="1092.3" y="206.1" text-anchor="end" dominant-baseline="central" fill="#000" style="font-size:13.3px;font-weight:bold;">2</text>
<line x1="1093.8" y1="169.2" x2="1098.8" y2="169.2" stroke="#000" stroke-width="1.5" stroke-linecap="butt"/>
<text x="1092.3" y="169.7" text-anchor="end" dominant-baseline="central" fill="#000" style="font-size:13.3px;font-weight:bold;">4</text>
<line x1="1093.8" y1="132.9" x2="1098.8" y2="132.9" stroke="#000" stroke-width="1.5" stroke-linecap="butt"/>
<text x="1092.3" y="133.4" text-anchor="end" dominant-baseline="central" fill="#000" style="font-size:13.3px;font-weight:bold;">6</text>
<line x1="1093.8" y1="96.5" x2="1098.8" y2="96.5" stroke="#000" stroke-width="1.5" stroke-linecap="butt"/>
<text x="1092.3" y="97.0" text-anchor="end" dominant-baseline="central" fill="#000" style="font-size:13.3px;font-weight:bold;">8</text>
<line x1="1093.8" y1="60.2" x2="1098.8" y2="60.2" stroke="#000" stroke-width="1.5" stroke-linecap="butt"/>
<text x="1092.3" y="60.7" text-anchor="end" dominant-baseline="central" fill="#000" style="font-size:13.3px;font-weight:bold;">10</text>
<line x1="1166.7" y1="241.9" x2="1166.7" y2="246.9" stroke="#000" stroke-width="1.5" stroke-linecap="butt"/>
<line x1="1302.4" y1="241.9" x2="1302.4" y2="246.9" stroke="#000" stroke-width="1.5" stroke-linecap="butt"/>
<text x="0" y="0" text-anchor="middle" dominant-baseline="central" fill="#000" style="font-size:13.8px;" transform="translate(1065.0 150.0) rotate(-90)" stroke="#000" stroke-width="0.5">Relative mRNA expression</text>
<text x="1166.7" y="256.6" text-anchor="middle" dominant-baseline="central" fill="#000" style="font-size:13.3px;font-weight:bold;">IFNγ (-)</text>
<text x="1302.4" y="256.6" text-anchor="middle" dominant-baseline="central" fill="#000" style="font-size:13.3px;font-weight:bold;">IFNγ (+)</text>
<rect x="1108.7" y="60.9" width="18.6" height="7.4" fill="#d3d3d3" stroke="#000" stroke-width="2.2"/>
<text x="1139.3" y="65.1" text-anchor="start" dominant-baseline="central" fill="#000" style="font-size:12.7px;font-weight:bold;">Ctrl</text>
<rect x="1108.7" y="81.7" width="18.6" height="7.4" fill="#0b0707" stroke="#000" stroke-width="2.2"/>
<text x="1139.3" y="85.9" text-anchor="start" dominant-baseline="central" fill="#000" style="font-size:12.7px;font-weight:bold;">Tet1-CD</text>
<rect x="1108.7" y="102.7" width="18.6" height="7.4" fill="#e84343" stroke="#000" stroke-width="2.2"/>
<text x="1139.3" y="106.9" text-anchor="start" dominant-baseline="central" fill="#000" style="font-size:12.7px;font-weight:bold;">Tet1-mCD</text>
<line x1="1266.3" y1="52.5" x2="1339.2" y2="52.5" stroke="#000" stroke-width="1.6" stroke-linecap="butt"/>
<line x1="1266.3" y1="47.3" x2="1266.3" y2="57.7" stroke="#000" stroke-width="1.6" stroke-linecap="butt"/>
<line x1="1339.2" y1="47.3" x2="1339.2" y2="57.7" stroke="#000" stroke-width="1.6" stroke-linecap="butt"/>
<text x="1302.8" y="48.9" text-anchor="middle" dominant-baseline="central" fill="#000" style="font-size:18px;">**</text>
<line x1="1266.3" y1="69.6" x2="1300.9" y2="69.6" stroke="#000" stroke-width="1.6" stroke-linecap="butt"/>
<line x1="1266.3" y1="64.4" x2="1266.3" y2="74.8" stroke="#000" stroke-width="1.6" stroke-linecap="butt"/>
<line x1="1300.9" y1="64.4" x2="1300.9" y2="74.8" stroke="#000" stroke-width="1.6" stroke-linecap="butt"/>
<text x="1283.6" y="66.0" text-anchor="middle" dominant-baseline="central" fill="#000" style="font-size:18px;">**</text>
<line x1="1305.2" y1="69.6" x2="1339.2" y2="69.6" stroke="#000" stroke-width="1.6" stroke-linecap="butt"/>
<line x1="1305.2" y1="64.4" x2="1305.2" y2="74.8" stroke="#000" stroke-width="1.6" stroke-linecap="butt"/>
<line x1="1339.2" y1="64.4" x2="1339.2" y2="74.8" stroke="#000" stroke-width="1.6" stroke-linecap="butt"/>
<text x="1322.2" y="66.0" text-anchor="middle" dominant-baseline="central" fill="#000" style="font-size:18px;">**</text>
<text x="1236.3" y="299.3" text-anchor="middle" dominant-baseline="central" fill="#000" style="font-size:16px;font-weight:bold;font-style:italic;">PD-L1</text>
<line x1="1132.0" y1="493.4" x2="1132.0" y2="493.0" stroke="#000" stroke-width="2.1" stroke-linecap="butt"/>
<line x1="1126.5" y1="493.0" x2="1137.5" y2="493.0" stroke="#000" stroke-width="2.1" stroke-linecap="butt"/>
<rect x="1120.2" y="494.4" width="23.5" height="18.1" fill="#d3d3d3" stroke="#000" stroke-width="2.1"/>
<line x1="1168.7" y1="498.4" x2="1168.7" y2="497.7" stroke="#000" stroke-width="2.1" stroke-linecap="butt"/>
<line x1="1163.1" y1="497.7" x2="1174.2" y2="497.7" stroke="#000" stroke-width="2.1" stroke-linecap="butt"/>
<rect x="1156.8" y="499.5" width="23.8" height="13.0" fill="#0b0707" stroke="#000" stroke-width="2.1"/>
<line x1="1205.8" y1="496.8" x2="1205.8" y2="495.7" stroke="#000" stroke-width="2.1" stroke-linecap="butt"/>
<line x1="1200.3" y1="495.7" x2="1211.3" y2="495.7" stroke="#000" stroke-width="2.1" stroke-linecap="butt"/>
<rect x="1194.0" y="497.9" width="23.5" height="14.6" fill="#e84343" stroke="#000" stroke-width="2.1"/>
<line x1="1266.8" y1="445.8" x2="1266.8" y2="444.9" stroke="#000" stroke-width="2.1" stroke-linecap="butt"/>
<line x1="1261.2" y1="444.9" x2="1272.5" y2="444.9" stroke="#000" stroke-width="2.1" stroke-linecap="butt"/>
<rect x="1254.8" y="446.8" width="24.0" height="65.7" fill="#d3d3d3" stroke="#000" stroke-width="2.1"/>
<line x1="1303.9" y1="343.5" x2="1303.9" y2="341.1" stroke="#000" stroke-width="2.1" stroke-linecap="butt"/>
<line x1="1298.3" y1="341.1" x2="1309.5" y2="341.1" stroke="#000" stroke-width="2.1" stroke-linecap="butt"/>
<rect x="1291.8" y="344.5" width="24.1" height="168.0" fill="#0b0707" stroke="#000" stroke-width="2.1"/>
<line x1="1340.4" y1="383.3" x2="1340.4" y2="380.3" stroke="#000" stroke-width="2.1" stroke-linecap="butt"/>
<line x1="1334.9" y1="380.3" x2="1345.9" y2="380.3" stroke="#000" stroke-width="2.1" stroke-linecap="butt"/>
<rect x="1328.6" y="384.4" width="23.5" height="128.1" fill="#e84343" stroke="#000" stroke-width="2.1"/>
<line x1="1101.0" y1="331.4" x2="1101.0" y2="513.2" stroke="#000" stroke-width="1.5" stroke-linecap="butt"/>
<line x1="1096.0" y1="512.5" x2="1371.4" y2="512.5" stroke="#000" stroke-width="1.5" stroke-linecap="butt"/>
<line x1="1096.0" y1="512.5" x2="1101.0" y2="512.5" stroke="#000" stroke-width="1.5" stroke-linecap="butt"/>
<text x="1094.5" y="513.0" text-anchor="end" dominant-baseline="central" fill="#000" style="font-size:13.3px;font-weight:bold;">0</text>
<line x1="1096.0" y1="476.4" x2="1101.0" y2="476.4" stroke="#000" stroke-width="1.5" stroke-linecap="butt"/>
<text x="1094.5" y="476.9" text-anchor="end" dominant-baseline="central" fill="#000" style="font-size:13.3px;font-weight:bold;">2</text>
<line x1="1096.0" y1="440.3" x2="1101.0" y2="440.3" stroke="#000" stroke-width="1.5" stroke-linecap="butt"/>
<text x="1094.5" y="440.8" text-anchor="end" dominant-baseline="central" fill="#000" style="font-size:13.3px;font-weight:bold;">4</text>
<line x1="1096.0" y1="404.3" x2="1101.0" y2="404.3" stroke="#000" stroke-width="1.5" stroke-linecap="butt"/>
<text x="1094.5" y="404.8" text-anchor="end" dominant-baseline="central" fill="#000" style="font-size:13.3px;font-weight:bold;">6</text>
<line x1="1096.0" y1="368.2" x2="1101.0" y2="368.2" stroke="#000" stroke-width="1.5" stroke-linecap="butt"/>
<text x="1094.5" y="368.7" text-anchor="end" dominant-baseline="central" fill="#000" style="font-size:13.3px;font-weight:bold;">8</text>
<line x1="1096.0" y1="332.1" x2="1101.0" y2="332.1" stroke="#000" stroke-width="1.5" stroke-linecap="butt"/>
<text x="1094.5" y="332.6" text-anchor="end" dominant-baseline="central" fill="#000" style="font-size:13.3px;font-weight:bold;">10</text>
<line x1="1168.2" y1="512.5" x2="1168.2" y2="517.5" stroke="#000" stroke-width="1.5" stroke-linecap="butt"/>
<line x1="1303.0" y1="512.5" x2="1303.0" y2="517.5" stroke="#000" stroke-width="1.5" stroke-linecap="butt"/>
<text x="0" y="0" text-anchor="middle" dominant-baseline="central" fill="#000" style="font-size:13.8px;" transform="translate(1067.0 422.3) rotate(-90)" stroke="#000" stroke-width="0.5">Relative mRNA expression</text>
<text x="1168.2" y="527.4" text-anchor="middle" dominant-baseline="central" fill="#000" style="font-size:13.3px;font-weight:bold;">IFNγ (-)</text>
<text x="1303.0" y="527.4" text-anchor="middle" dominant-baseline="central" fill="#000" style="font-size:13.3px;font-weight:bold;">IFNγ (+)</text>
<rect x="1110.9" y="332.6" width="18.6" height="7.4" fill="#d3d3d3" stroke="#000" stroke-width="2.2"/>
<text x="1141.0" y="336.8" text-anchor="start" dominant-baseline="central" fill="#000" style="font-size:12.7px;font-weight:bold;">Ctrl</text>
<rect x="1110.9" y="353.3" width="18.6" height="7.4" fill="#0b0707" stroke="#000" stroke-width="2.2"/>
<text x="1141.0" y="357.5" text-anchor="start" dominant-baseline="central" fill="#000" style="font-size:12.7px;font-weight:bold;">Tet1-CD</text>
<rect x="1110.9" y="373.9" width="18.6" height="7.4" fill="#e84343" stroke="#000" stroke-width="2.2"/>
<text x="1141.0" y="378.1" text-anchor="start" dominant-baseline="central" fill="#000" style="font-size:12.7px;font-weight:bold;">Tet1-mCD</text>
<line x1="1267.0" y1="315.0" x2="1339.6" y2="315.0" stroke="#000" stroke-width="1.6" stroke-linecap="butt"/>
<line x1="1267.0" y1="309.8" x2="1267.0" y2="320.2" stroke="#000" stroke-width="1.6" stroke-linecap="butt"/>
<line x1="1339.6" y1="309.8" x2="1339.6" y2="320.2" stroke="#000" stroke-width="1.6" stroke-linecap="butt"/>
<text x="1303.3" y="311.4" text-anchor="middle" dominant-baseline="central" fill="#000" style="font-size:18px;">**</text>
<line x1="1267.0" y1="332.1" x2="1301.3" y2="332.1" stroke="#000" stroke-width="1.6" stroke-linecap="butt"/>
<line x1="1267.0" y1="326.9" x2="1267.0" y2="337.3" stroke="#000" stroke-width="1.6" stroke-linecap="butt"/>
<line x1="1301.3" y1="326.9" x2="1301.3" y2="337.3" stroke="#000" stroke-width="1.6" stroke-linecap="butt"/>
<text x="1284.2" y="328.5" text-anchor="middle" dominant-baseline="central" fill="#000" style="font-size:18px;">***</text>
<line x1="1305.7" y1="332.1" x2="1339.6" y2="332.1" stroke="#000" stroke-width="1.6" stroke-linecap="butt"/>
<line x1="1305.7" y1="326.9" x2="1305.7" y2="337.3" stroke="#000" stroke-width="1.6" stroke-linecap="butt"/>
<line x1="1339.6" y1="326.9" x2="1339.6" y2="337.3" stroke="#000" stroke-width="1.6" stroke-linecap="butt"/>
<text x="1322.7" y="328.5" text-anchor="middle" dominant-baseline="central" fill="#000" style="font-size:18px;">**</text>
<text x="1372.8" y="33.7" text-anchor="start" dominant-baseline="alphabetic" fill="#000" style="font-size:37px;font-weight:bold;">D</text>
<text x="1577.5" y="32.8" text-anchor="middle" dominant-baseline="central" fill="#000" style="font-size:16px;font-weight:bold;font-style:italic;">Irf1</text>
<line x1="1461.8" y1="234.0" x2="1461.8" y2="233.9" stroke="#000" stroke-width="2.1" stroke-linecap="butt"/>
<line x1="1457.8" y1="233.9" x2="1465.7" y2="233.9" stroke="#000" stroke-width="2.1" stroke-linecap="butt"/>
<rect x="1453.5" y="235.1" width="16.4" height="8.5" fill="#d3d3d3" stroke="#000" stroke-width="2.1"/>
<line x1="1487.6" y1="233.6" x2="1487.6" y2="233.3" stroke="#000" stroke-width="2.1" stroke-linecap="butt"/>
<line x1="1483.8" y1="233.3" x2="1491.4" y2="233.3" stroke="#000" stroke-width="2.1" stroke-linecap="butt"/>
<rect x="1479.8" y="234.6" width="15.7" height="9.0" fill="#e84343" stroke="#000" stroke-width="2.1"/>
<line x1="1530.0" y1="234.0" x2="1530.0" y2="233.9" stroke="#000" stroke-width="2.1" stroke-linecap="butt"/>
<line x1="1526.1" y1="233.9" x2="1533.9" y2="233.9" stroke="#000" stroke-width="2.1" stroke-linecap="butt"/>
<rect x="1522.0" y="235.1" width="16.1" height="8.5" fill="#d3d3d3" stroke="#000" stroke-width="2.1"/>
<line x1="1555.7" y1="234.5" x2="1555.7" y2="234.2" stroke="#000" stroke-width="2.1" stroke-linecap="butt"/>
<line x1="1551.9" y1="234.2" x2="1559.5" y2="234.2" stroke="#000" stroke-width="2.1" stroke-linecap="butt"/>
<rect x="1547.8" y="235.5" width="15.7" height="8.1" fill="#e84343" stroke="#000" stroke-width="2.1"/>
<line x1="1597.8" y1="133.4" x2="1597.8" y2="130.7" stroke="#000" stroke-width="2.1" stroke-linecap="butt"/>
<line x1="1593.8" y1="130.7" x2="1601.7" y2="130.7" stroke="#000" stroke-width="2.1" stroke-linecap="butt"/>
<rect x="1589.5" y="134.5" width="16.4" height="109.1" fill="#d3d3d3" stroke="#000" stroke-width="2.1"/>
<line x1="1624.1" y1="112.5" x2="1624.1" y2="110.7" stroke="#000" stroke-width="2.1" stroke-linecap="butt"/>
<line x1="1620.2" y1="110.7" x2="1627.9" y2="110.7" stroke="#000" stroke-width="2.1" stroke-linecap="butt"/>
<rect x="1616.2" y="113.5" width="15.6" height="130.1" fill="#e84343" stroke="#000" stroke-width="2.1"/>
<line x1="1666.0" y1="148.9" x2="1666.0" y2="148.5" stroke="#000" stroke-width="2.1" stroke-linecap="butt"/>
<line x1="1662.1" y1="148.5" x2="1669.9" y2="148.5" stroke="#000" stroke-width="2.1" stroke-linecap="butt"/>
<rect x="1658.0" y="150.0" width="16.1" height="93.6" fill="#d3d3d3" stroke="#000" stroke-width="2.1"/>
<line x1="1691.9" y1="135.3" x2="1691.9" y2="133.9" stroke="#000" stroke-width="2.1" stroke-linecap="butt"/>
<line x1="1688.0" y1="133.9" x2="1695.8" y2="133.9" stroke="#000" stroke-width="2.1" stroke-linecap="butt"/>
<rect x="1683.8" y="136.3" width="16.1" height="107.3" fill="#e84343" stroke="#000" stroke-width="2.1"/>
<line x1="1440.6" y1="60.8" x2="1440.6" y2="244.3" stroke="#000" stroke-width="1.5" stroke-linecap="butt"/>
<line x1="1435.6" y1="243.6" x2="1714.6" y2="243.6" stroke="#000" stroke-width="1.5" stroke-linecap="butt"/>
<line x1="1435.6" y1="243.6" x2="1440.6" y2="243.6" stroke="#000" stroke-width="1.5" stroke-linecap="butt"/>
<text x="1434.1" y="244.1" text-anchor="end" dominant-baseline="central" fill="#000" style="font-size:13.3px;font-weight:bold;">0</text>
<line x1="1435.6" y1="198.1" x2="1440.6" y2="198.1" stroke="#000" stroke-width="1.5" stroke-linecap="butt"/>
<text x="1434.1" y="198.6" text-anchor="end" dominant-baseline="central" fill="#000" style="font-size:13.3px;font-weight:bold;">5</text>
<line x1="1435.6" y1="152.5" x2="1440.6" y2="152.5" stroke="#000" stroke-width="1.5" stroke-linecap="butt"/>
<text x="1434.1" y="153.0" text-anchor="end" dominant-baseline="central" fill="#000" style="font-size:13.3px;font-weight:bold;">10</text>
<line x1="1435.6" y1="107.0" x2="1440.6" y2="107.0" stroke="#000" stroke-width="1.5" stroke-linecap="butt"/>
<text x="1434.1" y="107.5" text-anchor="end" dominant-baseline="central" fill="#000" style="font-size:13.3px;font-weight:bold;">15</text>
<line x1="1435.6" y1="61.5" x2="1440.6" y2="61.5" stroke="#000" stroke-width="1.5" stroke-linecap="butt"/>
<text x="1434.1" y="62.0" text-anchor="end" dominant-baseline="central" fill="#000" style="font-size:13.3px;font-weight:bold;">20</text>
<line x1="1474.3" y1="243.6" x2="1474.3" y2="248.6" stroke="#000" stroke-width="1.5" stroke-linecap="butt"/>
<line x1="1542.6" y1="243.6" x2="1542.6" y2="248.6" stroke="#000" stroke-width="1.5" stroke-linecap="butt"/>
<line x1="1610.3" y1="243.6" x2="1610.3" y2="248.6" stroke="#000" stroke-width="1.5" stroke-linecap="butt"/>
<line x1="1679.0" y1="243.6" x2="1679.0" y2="248.6" stroke="#000" stroke-width="1.5" stroke-linecap="butt"/>
<text x="0" y="0" text-anchor="middle" dominant-baseline="central" fill="#000" style="font-size:13.8px;" transform="translate(1406.0 152.0) rotate(-90)" stroke="#000" stroke-width="0.5">Relative mRNA expression</text>
<text x="1474.3" y="258.5" text-anchor="middle" dominant-baseline="central" fill="#000" style="font-size:13.3px;font-weight:bold;">Ctrl</text>
<text x="1542.0" y="258.5" text-anchor="middle" dominant-baseline="central" fill="#000" style="font-size:13.3px;font-weight:bold;">2-HG</text>
<text x="1610.3" y="258.5" text-anchor="middle" dominant-baseline="central" fill="#000" style="font-size:13.3px;font-weight:bold;">Ctrl</text>
<text x="1678.4" y="258.5" text-anchor="middle" dominant-baseline="central" fill="#000" style="font-size:13.3px;font-weight:bold;">2-HG</text>
<line x1="1466.5" y1="268.5" x2="1549.7" y2="268.5" stroke="#000" stroke-width="1.5" stroke-linecap="butt"/>
<line x1="1604.7" y1="268.5" x2="1688.4" y2="268.5" stroke="#000" stroke-width="1.5" stroke-linecap="butt"/>
<text x="1509.8" y="280.0" text-anchor="middle" dominant-baseline="central" fill="#000" style="font-size:13.3px;font-weight:bold;">IFNγ (-)</text>
<text x="1650.0" y="280.0" text-anchor="middle" dominant-baseline="central" fill="#000" style="font-size:13.3px;font-weight:bold;">IFNγ (+)</text>
<rect x="1451.0" y="63.3" width="18.9" height="7.4" fill="#d3d3d3" stroke="#000" stroke-width="2.2"/>
<text x="1481.0" y="67.5" text-anchor="start" dominant-baseline="central" fill="#000" style="font-size:12.7px;font-weight:bold;">Ctrl</text>
<rect x="1451.0" y="87.7" width="18.9" height="7.4" fill="#e84343" stroke="#000" stroke-width="2.2"/>
<text x="1481.0" y="91.9" text-anchor="start" dominant-baseline="central" fill="#000" style="font-size:12.7px;font-weight:bold;">Tet1 (1525-2039)</text>
<line x1="1600.0" y1="101.0" x2="1624.0" y2="101.0" stroke="#000" stroke-width="1.6" stroke-linecap="butt"/>
<line x1="1600.0" y1="95.8" x2="1600.0" y2="106.2" stroke="#000" stroke-width="1.6" stroke-linecap="butt"/>
<line x1="1624.0" y1="95.8" x2="1624.0" y2="106.2" stroke="#000" stroke-width="1.6" stroke-linecap="butt"/>
<text x="1612.0" y="97.4" text-anchor="middle" dominant-baseline="central" fill="#000" style="font-size:18px;">*</text>
<line x1="1667.8" y1="124.9" x2="1691.7" y2="124.9" stroke="#000" stroke-width="1.6" stroke-linecap="butt"/>
<line x1="1667.8" y1="119.7" x2="1667.8" y2="130.1" stroke="#000" stroke-width="1.6" stroke-linecap="butt"/>
<line x1="1691.7" y1="119.7" x2="1691.7" y2="130.1" stroke="#000" stroke-width="1.6" stroke-linecap="butt"/>
<text x="1679.8" y="121.3" text-anchor="middle" dominant-baseline="central" fill="#000" style="font-size:18px;">**</text>
<text x="1570.4" y="318.8" text-anchor="middle" dominant-baseline="central" fill="#000" style="font-size:16px;font-weight:bold;font-style:italic;">PD-L1</text>
<line x1="1461.2" y1="510.8" x2="1461.2" y2="508.6" stroke="#000" stroke-width="2.1" stroke-linecap="butt"/>
<line x1="1457.4" y1="508.6" x2="1464.9" y2="508.6" stroke="#000" stroke-width="2.1" stroke-linecap="butt"/>
<rect x="1453.5" y="511.8" width="15.2" height="6.1" fill="#d3d3d3" stroke="#000" stroke-width="2.1"/>
<line x1="1485.8" y1="510.4" x2="1485.8" y2="509.3" stroke="#000" stroke-width="2.1" stroke-linecap="butt"/>
<line x1="1482.1" y1="509.3" x2="1489.4" y2="509.3" stroke="#000" stroke-width="2.1" stroke-linecap="butt"/>
<rect x="1478.2" y="511.4" width="15.0" height="6.5" fill="#e84343" stroke="#000" stroke-width="2.1"/>
<line x1="1525.8" y1="511.7" x2="1525.8" y2="511.5" stroke="#000" stroke-width="2.1" stroke-linecap="butt"/>
<line x1="1522.1" y1="511.5" x2="1529.6" y2="511.5" stroke="#000" stroke-width="2.1" stroke-linecap="butt"/>
<rect x="1518.1" y="512.8" width="15.4" height="5.1" fill="#d3d3d3" stroke="#000" stroke-width="2.1"/>
<line x1="1550.0" y1="505.7" x2="1550.0" y2="505.6" stroke="#000" stroke-width="2.1" stroke-linecap="butt"/>
<line x1="1546.4" y1="505.6" x2="1553.7" y2="505.6" stroke="#000" stroke-width="2.1" stroke-linecap="butt"/>
<rect x="1542.5" y="506.8" width="15.0" height="11.1" fill="#e84343" stroke="#000" stroke-width="2.1"/>
<line x1="1590.0" y1="414.4" x2="1590.0" y2="406.2" stroke="#000" stroke-width="2.1" stroke-linecap="butt"/>
<line x1="1586.3" y1="406.2" x2="1593.6" y2="406.2" stroke="#000" stroke-width="2.1" stroke-linecap="butt"/>
<rect x="1582.5" y="415.5" width="15.0" height="102.4" fill="#d3d3d3" stroke="#000" stroke-width="2.1"/>
<line x1="1614.5" y1="368.5" x2="1614.5" y2="365.1" stroke="#000" stroke-width="2.1" stroke-linecap="butt"/>
<line x1="1610.8" y1="365.1" x2="1618.1" y2="365.1" stroke="#000" stroke-width="2.1" stroke-linecap="butt"/>
<rect x="1607.0" y="369.6" width="15.0" height="148.3" fill="#e84343" stroke="#000" stroke-width="2.1"/>
<line x1="1654.3" y1="438.4" x2="1654.3" y2="435.0" stroke="#000" stroke-width="2.1" stroke-linecap="butt"/>
<line x1="1650.7" y1="435.0" x2="1658.0" y2="435.0" stroke="#000" stroke-width="2.1" stroke-linecap="butt"/>
<rect x="1646.8" y="439.5" width="15.0" height="78.4" fill="#d3d3d3" stroke="#000" stroke-width="2.1"/>
<line x1="1678.8" y1="426.8" x2="1678.8" y2="425.4" stroke="#000" stroke-width="2.1" stroke-linecap="butt"/>
<line x1="1675.1" y1="425.4" x2="1682.4" y2="425.4" stroke="#000" stroke-width="2.1" stroke-linecap="butt"/>
<rect x="1671.2" y="427.8" width="15.0" height="90.1" fill="#e84343" stroke="#000" stroke-width="2.1"/>
<line x1="1441.7" y1="345.9" x2="1441.7" y2="518.6" stroke="#000" stroke-width="1.5" stroke-linecap="butt"/>
<line x1="1436.7" y1="517.9" x2="1700.2" y2="517.9" stroke="#000" stroke-width="1.5" stroke-linecap="butt"/>
<line x1="1436.7" y1="517.9" x2="1441.7" y2="517.9" stroke="#000" stroke-width="1.5" stroke-linecap="butt"/>
<text x="1435.2" y="518.4" text-anchor="end" dominant-baseline="central" fill="#000" style="font-size:13.3px;font-weight:bold;">0</text>
<line x1="1436.7" y1="483.6" x2="1441.7" y2="483.6" stroke="#000" stroke-width="1.5" stroke-linecap="butt"/>
<text x="1435.2" y="484.1" text-anchor="end" dominant-baseline="central" fill="#000" style="font-size:13.3px;font-weight:bold;">5</text>
<line x1="1436.7" y1="449.4" x2="1441.7" y2="449.4" stroke="#000" stroke-width="1.5" stroke-linecap="butt"/>
<text x="1435.2" y="449.9" text-anchor="end" dominant-baseline="central" fill="#000" style="font-size:13.3px;font-weight:bold;">10</text>
<line x1="1436.7" y1="415.1" x2="1441.7" y2="415.1" stroke="#000" stroke-width="1.5" stroke-linecap="butt"/>
<text x="1435.2" y="415.6" text-anchor="end" dominant-baseline="central" fill="#000" style="font-size:13.3px;font-weight:bold;">15</text>
<line x1="1436.7" y1="380.9" x2="1441.7" y2="380.9" stroke="#000" stroke-width="1.5" stroke-linecap="butt"/>
<text x="1435.2" y="381.4" text-anchor="end" dominant-baseline="central" fill="#000" style="font-size:13.3px;font-weight:bold;">20</text>
<line x1="1436.7" y1="346.6" x2="1441.7" y2="346.6" stroke="#000" stroke-width="1.5" stroke-linecap="butt"/>
<text x="1435.2" y="347.1" text-anchor="end" dominant-baseline="central" fill="#000" style="font-size:13.3px;font-weight:bold;">25</text>
<line x1="1473.2" y1="517.9" x2="1473.2" y2="522.9" stroke="#000" stroke-width="1.5" stroke-linecap="butt"/>
<line x1="1537.5" y1="517.9" x2="1537.5" y2="522.9" stroke="#000" stroke-width="1.5" stroke-linecap="butt"/>
<line x1="1601.9" y1="517.9" x2="1601.9" y2="522.9" stroke="#000" stroke-width="1.5" stroke-linecap="butt"/>
<line x1="1666.2" y1="517.9" x2="1666.2" y2="522.9" stroke="#000" stroke-width="1.5" stroke-linecap="butt"/>
<text x="0" y="0" text-anchor="middle" dominant-baseline="central" fill="#000" style="font-size:13.8px;" transform="translate(1407.7 432.0) rotate(-90)" stroke="#000" stroke-width="0.5">Relative mRNA expression</text>
<text x="1473.2" y="532.5" text-anchor="middle" dominant-baseline="central" fill="#000" style="font-size:13.3px;font-weight:bold;">Ctrl</text>
<text x="1537.5" y="532.5" text-anchor="middle" dominant-baseline="central" fill="#000" style="font-size:13.3px;font-weight:bold;">2-HG</text>
<text x="1601.9" y="532.5" text-anchor="middle" dominant-baseline="central" fill="#000" style="font-size:13.3px;font-weight:bold;">Ctrl</text>
<text x="1666.2" y="532.5" text-anchor="middle" dominant-baseline="central" fill="#000" style="font-size:13.3px;font-weight:bold;">2-HG</text>
<line x1="1465.4" y1="541.4" x2="1544.6" y2="541.4" stroke="#000" stroke-width="1.5" stroke-linecap="butt"/>
<line x1="1596.3" y1="541.4" x2="1675.0" y2="541.4" stroke="#000" stroke-width="1.5" stroke-linecap="butt"/>
<text x="1506.9" y="552.9" text-anchor="middle" dominant-baseline="central" fill="#000" style="font-size:13.3px;font-weight:bold;">IFNγ (-)</text>
<text x="1639.6" y="552.9" text-anchor="middle" dominant-baseline="central" fill="#000" style="font-size:13.3px;font-weight:bold;">IFNγ (+)</text>
<rect x="1451.4" y="347.5" width="17.3" height="7.4" fill="#d3d3d3" stroke="#000" stroke-width="2.2"/>
<text x="1479.8" y="351.7" text-anchor="start" dominant-baseline="central" fill="#000" style="font-size:12.7px;font-weight:bold;">Ctrl</text>
<rect x="1451.4" y="370.8" width="17.3" height="7.4" fill="#e84343" stroke="#000" stroke-width="2.2"/>
<text x="1479.8" y="375.0" text-anchor="start" dominant-baseline="central" fill="#000" style="font-size:12.7px;font-weight:bold;">Tet1 (1525-2039)</text>
<line x1="1591.9" y1="355.9" x2="1614.7" y2="355.9" stroke="#000" stroke-width="1.6" stroke-linecap="butt"/>
<line x1="1591.9" y1="350.7" x2="1591.9" y2="361.1" stroke="#000" stroke-width="1.6" stroke-linecap="butt"/>
<line x1="1614.7" y1="350.7" x2="1614.7" y2="361.1" stroke="#000" stroke-width="1.6" stroke-linecap="butt"/>
<text x="1603.3" y="352.3" text-anchor="middle" dominant-baseline="central" fill="#000" style="font-size:18px;">*</text>
<line x1="1655.8" y1="417.1" x2="1678.4" y2="417.1" stroke="#000" stroke-width="1.6" stroke-linecap="butt"/>
<line x1="1655.8" y1="411.9" x2="1655.8" y2="422.3" stroke="#000" stroke-width="1.6" stroke-linecap="butt"/>
<line x1="1678.4" y1="411.9" x2="1678.4" y2="422.3" stroke="#000" stroke-width="1.6" stroke-linecap="butt"/>
<text x="1667.1" y="413.5" text-anchor="middle" dominant-baseline="central" fill="#000" style="font-size:18px;">*</text>
<text x="5.0" y="631.3" text-anchor="start" dominant-baseline="alphabetic" fill="#000" style="font-size:37px;font-weight:bold;">E</text>
<text x="0" y="0" text-anchor="middle" dominant-baseline="central" fill="#000" style="font-size:25.5px;font-weight:bold;" transform="translate(349.6 645.0) scale(1.07 1)">IFNγ (+)</text>
<line x1="181.6" y1="669.5" x2="517.6" y2="669.5" stroke="#000" stroke-width="4.4" stroke-linecap="butt"/>
<text x="0" y="0" text-anchor="start" dominant-baseline="central" fill="#000" style="font-size:25.5px;font-weight:bold;" transform="translate(222.0 802.0) rotate(-90) scale(1.035 1)">sgCtrl</text>
<text x="0" y="0" text-anchor="start" dominant-baseline="central" fill="#000" style="font-size:25.5px;font-weight:bold;" transform="translate(295.0 802.0) rotate(-90) scale(1.035 1)">sgNampt</text>
<text x="0" y="0" text-anchor="start" dominant-baseline="central" fill="#000" style="font-size:25.5px;font-weight:bold;" transform="translate(401.0 802.0) rotate(-90) scale(1.035 1)">Ctrl</text>
<text x="0" y="0" text-anchor="start" dominant-baseline="central" fill="#000" style="font-size:25.5px;font-weight:bold;" transform="translate(477.0 800.0) rotate(-90) scale(1.035 1)">NMN</text>
<text x="0" y="0" text-anchor="end" dominant-baseline="central" fill="#000" style="font-size:25.5px;font-weight:bold;" transform="translate(171.0 831.5) scale(1.04 1)">Nampt</text>
<text x="0" y="0" text-anchor="end" dominant-baseline="central" fill="#000" style="font-size:25.5px;font-weight:bold;" transform="translate(171.0 882.0) scale(1.04 1)">Tet1</text>
<text x="0" y="0" text-anchor="end" dominant-baseline="central" fill="#000" style="font-size:25.5px;font-weight:bold;" transform="translate(171.0 991.0) scale(1.04 1)">p-Stat1</text>
<text x="0" y="0" text-anchor="end" dominant-baseline="central" fill="#000" style="font-size:25.5px;font-weight:bold;" transform="translate(170.0 1067.0) scale(1.04 1)">Tet1</text>
<text x="0" y="0" text-anchor="end" dominant-baseline="central" fill="#000" style="font-size:25.5px;font-weight:bold;" transform="translate(170.0 1119.0) scale(1.04 1)">p-Stat1</text>
<text x="0" y="0" text-anchor="end" dominant-baseline="central" fill="#000" style="font-size:25.5px;font-weight:bold;" transform="translate(170.0 1181.0) scale(1.04 1)">Gapdh</text>
<text x="0" y="0" text-anchor="middle" dominant-baseline="central" fill="#000" style="font-size:25.5px;font-weight:bold;" transform="translate(45.0 940.0) rotate(-90) scale(1.05 1)">IP:Tet1</text>
<text x="0" y="0" text-anchor="middle" dominant-baseline="central" fill="#000" style="font-size:25.5px;font-weight:bold;" transform="translate(43.5 1089.0) rotate(-90) scale(1.05 1)">Input</text>
<line x1="68.5" y1="865.0" x2="68.5" y2="1024.0" stroke="#000" stroke-width="4.6" stroke-linecap="butt"/>
<line x1="68.5" y1="1049.0" x2="68.5" y2="1132.0" stroke="#000" stroke-width="4.6" stroke-linecap="butt"/>
<rect x="181.0" y="812.4" width="165.0" height="38.3" fill="#dfdfdf"/>
<g clip-path="url(#bc1)">
<path d="M208.0,832.1 Q227.0,829.7 246.0,832.1 A2.0,2.0 0 0 1 246.0,836.1 Q227.0,833.7 208.0,836.1 A2.0,2.0 0 0 1 208.0,832.1Z" fill="#080707" opacity="1" filter="url(#b05)"/>
<rect x="279.0" y="830.9" width="37.0" height="2.2" rx="1.1" fill="#b9b9b9" opacity="1" filter="url(#b05)"/>
</g>
<rect x="182.5" y="813.9" width="162.0" height="35.3" fill="none" stroke="#000" stroke-width="3"/>
<rect x="181.0" y="859.0" width="165.0" height="40.7" fill="#dfdfdf"/>
<g clip-path="url(#bc2)">
<rect x="203.0" y="878.0" width="48.0" height="22.0" rx="4.0" fill="#b4b4b4" opacity="1" filter="url(#b3)"/>
<rect x="202.0" y="864.0" width="49.0" height="24.0" rx="8.0" fill="#8c8c8c" opacity="1" filter="url(#b3)"/>
<rect x="203.0" y="868.0" width="47.0" height="14.0" rx="7.0" fill="#1f1f1f" opacity="1" filter="url(#b2)"/>
<ellipse cx="208.0" cy="875.5" rx="7.0" ry="5.5" fill="#080707" opacity="1" filter="url(#b15)"/>
<ellipse cx="233.0" cy="880.5" rx="7.0" ry="5.0" fill="#080707" opacity="1" filter="url(#b15)"/>
<ellipse cx="246.5" cy="870.5" rx="6.0" ry="5.5" fill="#080707" opacity="1" filter="url(#b15)"/>
<rect x="286.0" y="871.0" width="48.0" height="18.0" rx="9.0" fill="#b0b0b0" opacity="1" filter="url(#b3)"/>
<rect x="288.0" y="883.0" width="46.0" height="16.0" rx="8.0" fill="#c4c4c4" opacity="1" filter="url(#b2)"/>
<ellipse cx="309.0" cy="863.5" rx="5.0" ry="2.0" fill="#111" opacity="1" filter="url(#b05)"/>
<ellipse cx="305.0" cy="866.0" rx="3.0" ry="1.5" fill="#222" opacity="1" filter="url(#b05)"/>
<ellipse cx="273.5" cy="866.5" rx="2.5" ry="1.3" fill="#333" opacity="1" filter="url(#b05)"/>
<ellipse cx="329.0" cy="878.0" rx="4.0" ry="9.0" fill="#8a8a8a" opacity="1" filter="url(#b15)"/>
<ellipse cx="328.0" cy="887.0" rx="3.0" ry="1.5" fill="#555" opacity="1" filter="url(#b1)"/>
</g>
<rect x="182.5" y="860.5" width="162.0" height="37.7" fill="none" stroke="#000" stroke-width="3"/>
<rect x="358.0" y="861.0" width="164.6" height="30.0" fill="#dfdfdf"/>
<g clip-path="url(#bc3)">
<rect x="384.0" y="867.5" width="48.0" height="17.0" rx="4.0" fill="#3a3a3a" opacity="1" filter="url(#b15)"/>
<rect x="387.0" y="868.5" width="43.0" height="4.0" rx="2.0" fill="#1c1c1c" opacity="1" filter="url(#b1)"/>
<rect x="386.0" y="881.2" width="44.0" height="3.5" rx="1.8" fill="#2a2a2a" opacity="1" filter="url(#b1)"/>
<ellipse cx="390.5" cy="876.0" rx="5.5" ry="9.5" fill="#0b0b0b" opacity="1" filter="url(#b15)"/>
<ellipse cx="424.0" cy="873.5" rx="8.0" ry="7.0" fill="#0b0b0b" opacity="1" filter="url(#b15)"/>
<rect x="386.0" y="885.5" width="44.0" height="5.0" rx="2.5" fill="#999" opacity="1" filter="url(#b15)"/>
<rect x="460.0" y="867.5" width="46.0" height="17.0" rx="4.0" fill="#424242" opacity="1" filter="url(#b15)"/>
<rect x="462.0" y="868.5" width="41.0" height="4.0" rx="2.0" fill="#222" opacity="1" filter="url(#b1)"/>
<rect x="462.0" y="880.8" width="41.0" height="3.5" rx="1.8" fill="#333" opacity="1" filter="url(#b1)"/>
<ellipse cx="499.5" cy="874.0" rx="5.5" ry="8.5" fill="#0b0b0b" opacity="1" filter="url(#b15)"/>
<ellipse cx="465.0" cy="875.0" rx="5.0" ry="7.0" fill="#1a1a1a" opacity="1" filter="url(#b15)"/>
<rect x="462.0" y="885.5" width="42.0" height="5.0" rx="2.5" fill="#a5a5a5" opacity="1" filter="url(#b15)"/>
</g>
<rect x="359.5" y="862.5" width="161.6" height="27.0" fill="none" stroke="#000" stroke-width="3"/>
<rect x="179.6" y="937.6" width="167.4" height="99.4" fill="#dfdfdf"/>
<g clip-path="url(#bc4)">
<rect x="207.0" y="990.0" width="39.0" height="50.0" rx="4.0" fill="#c9c9c9" opacity="1" filter="url(#b3)"/>
<rect x="207.0" y="955.0" width="39.0" height="40.0" rx="8.0" fill="#a0a0a0" opacity="1" filter="url(#b4)"/>
<rect x="204.0" y="972.0" width="44.0" height="30.0" rx="10.0" fill="#080707" opacity="1" filter="url(#b3)"/>
<rect x="206.0" y="978.0" width="40.0" height="16.0" rx="6.0" fill="#000" opacity="1" filter="url(#b2)"/>
<polygon points="281.0,974.0 290.0,974.0 301.0,981.0 312.0,975.0 322.0,975.0 322.0,1004.0 312.0,1004.0 301.0,997.0 290.0,1004.0 281.0,1004.0" fill="#9c9c9c" opacity="1" filter="url(#b3)"/>
</g>
<rect x="181.1" y="939.1" width="164.4" height="96.4" fill="none" stroke="#000" stroke-width="3"/>
<rect x="358.0" y="898.6" width="162.9" height="138.4" fill="#dfdfdf"/>
<g clip-path="url(#bc5)">
<polygon points="379.0,984.0 386.0,982.0 396.0,989.0 404.0,990.5 412.0,988.0 421.0,984.0 427.0,987.0 427.0,996.0 421.0,1001.0 412.0,995.0 404.0,993.0 396.0,995.0 386.0,1002.0 379.0,999.0" fill="#080707" opacity="1" filter="url(#b15)"/>
<polygon points="455.0,975.0 457.0,940.0 462.0,905.0 466.0,900.0 469.0,915.0 472.0,922.0 476.0,915.0 480.0,900.0 484.0,905.0 488.0,930.0 491.0,965.0 495.0,930.0 498.0,912.0 501.0,930.0 505.0,975.0 506.0,1000.0 503.0,1018.0 499.0,1020.0 496.0,1012.0 492.0,1014.0 487.0,1024.0 482.0,1026.0 478.0,1018.0 474.0,1016.0 468.0,1022.0 462.0,1018.0 457.0,1008.0 454.0,990.0" fill="#070606" opacity="1" filter="url(#b1)"/>
</g>
<rect x="359.5" y="900.1" width="159.9" height="135.4" fill="none" stroke="#000" stroke-width="3"/>
<rect x="178.0" y="1047.9" width="168.8" height="39.0" fill="#dfdfdf"/>
<g clip-path="url(#bc6)">
<rect x="196.0" y="1047.0" width="47.0" height="38.0" rx="2.0" fill="#d2d2d2" opacity="1" filter="url(#b2)"/>
<rect x="276.0" y="1047.0" width="48.0" height="38.0" rx="2.0" fill="#d6d6d6" opacity="1" filter="url(#b2)"/>
<path d="M198.0,1064.0 Q219.5,1059.6 241.0,1064.0 A1.6,1.6 0 0 1 241.0,1067.2 Q219.5,1062.8 198.0,1067.2 A1.6,1.6 0 0 1 198.0,1064.0Z" fill="#2a2a2a" opacity="1" filter="url(#b1)"/>
<path d="M277.0,1063.1 Q300.0,1058.7 323.0,1063.1 A1.5,1.5 0 0 1 323.0,1066.1 Q300.0,1061.7 277.0,1066.1 A1.5,1.5 0 0 1 277.0,1063.1Z" fill="#555" opacity="1" filter="url(#b1)"/>
</g>
<rect x="179.5" y="1049.4" width="165.8" height="36.0" fill="none" stroke="#000" stroke-width="3"/>
<rect x="358.5" y="1047.9" width="162.5" height="39.0" fill="#dfdfdf"/>
<g clip-path="url(#bc7)">
<rect x="376.0" y="1053.0" width="49.0" height="34.0" rx="3.0" fill="#a9a9a9" opacity="1" filter="url(#b2)"/>
<rect x="449.0" y="1057.0" width="50.0" height="30.0" rx="3.0" fill="#b3b3b3" opacity="1" filter="url(#b2)"/>
<path d="M379.0,1066.4 Q401.0,1062.4 423.0,1066.4 A2.1,2.1 0 0 1 423.0,1070.6 Q401.0,1066.6 379.0,1070.6 A2.1,2.1 0 0 1 379.0,1066.4Z" fill="#1a1a1a" opacity="1" filter="url(#b1)"/>
<path d="M452.0,1066.4 Q474.5,1062.4 497.0,1066.4 A2.1,2.1 0 0 1 497.0,1070.6 Q474.5,1066.6 452.0,1070.6 A2.1,2.1 0 0 1 452.0,1066.4Z" fill="#1a1a1a" opacity="1" filter="url(#b1)"/>
<ellipse cx="399.5" cy="1079.5" rx="3.0" ry="1.8" fill="#080707" opacity="1" filter="url(#b05)"/>
<ellipse cx="377.5" cy="1055.0" rx="2.0" ry="1.2" fill="#444" opacity="1" filter="url(#b05)"/>
</g>
<rect x="360.0" y="1049.4" width="159.5" height="36.0" fill="none" stroke="#000" stroke-width="3"/>
<rect x="178.0" y="1096.0" width="168.0" height="44.6" fill="#dfdfdf"/>
<g clip-path="url(#bc8)">
<path d="M192.0,1116.5 Q216.5,1111.7 241.0,1116.5 A2.7,2.7 0 0 1 241.0,1121.9 Q216.5,1117.1 192.0,1121.9 A2.7,2.7 0 0 1 192.0,1116.5Z" fill="#080707" opacity="1" filter="url(#b1)"/>
<ellipse cx="236.0" cy="1117.5" rx="6.0" ry="3.2" fill="#080707" opacity="1" filter="url(#b1)"/>
<ellipse cx="196.0" cy="1120.5" rx="5.0" ry="3.0" fill="#080707" opacity="1" filter="url(#b1)"/>
<path d="M278.0,1116.1 Q302.0,1111.3 326.0,1116.1 A2.1,2.1 0 0 1 326.0,1120.3 Q302.0,1115.5 278.0,1120.3 A2.1,2.1 0 0 1 278.0,1116.1Z" fill="#222" opacity="1" filter="url(#b1)"/>
<ellipse cx="282.0" cy="1119.5" rx="5.0" ry="3.4" fill="#080707" opacity="1" filter="url(#b1)"/>
<ellipse cx="320.0" cy="1116.5" rx="6.0" ry="2.6" fill="#444" opacity="1" filter="url(#b1)"/>
</g>
<rect x="179.5" y="1097.5" width="165.0" height="41.6" fill="none" stroke="#000" stroke-width="3"/>
<rect x="358.5" y="1096.0" width="162.5" height="44.6" fill="#dfdfdf"/>
<g clip-path="url(#bc9)">
<path d="M380.0,1117.5 Q400.0,1115.1 420.0,1117.5 A1.6,1.6 0 0 1 420.0,1120.7 Q400.0,1118.3 380.0,1120.7 A1.6,1.6 0 0 1 380.0,1117.5Z" fill="#444" opacity="1" filter="url(#b1)"/>
<ellipse cx="384.0" cy="1119.5" rx="4.0" ry="2.5" fill="#222" opacity="1" filter="url(#b1)"/>
<path d="M457.0,1115.0 Q477.5,1117.4 498.0,1115.0 A1.9,1.9 0 0 1 498.0,1118.8 Q477.5,1121.2 457.0,1118.8 A1.9,1.9 0 0 1 457.0,1115.0Z" fill="#2a2a2a" opacity="1" filter="url(#b1)"/>
<ellipse cx="494.0" cy="1119.0" rx="4.0" ry="2.6" fill="#111" opacity="1" filter="url(#b1)"/>
</g>
<rect x="360.0" y="1097.5" width="159.5" height="41.6" fill="none" stroke="#000" stroke-width="3"/>
<rect x="178.0" y="1150.4" width="168.0" height="56.8" fill="#dfdfdf"/>
<g clip-path="url(#bc10)">
<rect x="185.0" y="1169.8" width="67.0" height="24.5" rx="12.0" fill="#070606" opacity="1" filter="url(#b15)"/>
<rect x="262.0" y="1166.2" width="69.0" height="24.5" rx="12.0" fill="#070606" opacity="1" filter="url(#b15)"/>
</g>
<rect x="179.5" y="1151.9" width="165.0" height="53.8" fill="none" stroke="#000" stroke-width="3"/>
<rect x="358.5" y="1150.4" width="162.5" height="56.8" fill="#dfdfdf"/>
<g clip-path="url(#bc11)">
<rect x="370.0" y="1170.0" width="62.0" height="20.0" rx="10.0" fill="#070606" opacity="1" filter="url(#b15)"/>
<rect x="439.0" y="1163.5" width="70.0" height="23.0" rx="11.5" fill="#070606" opacity="1" filter="url(#b15)" transform="rotate(-4.09 474.0 1175.0)"/>
</g>
<rect x="360.0" y="1151.9" width="159.5" height="53.8" fill="none" stroke="#000" stroke-width="3"/>
<text x="573.0" y="631.3" text-anchor="start" dominant-baseline="alphabetic" fill="#000" style="font-size:37px;font-weight:bold;">F</text>
<text x="0" y="0" text-anchor="middle" dominant-baseline="central" fill="#000" style="font-size:25.5px;font-weight:bold;" transform="translate(902.0 616.0) scale(1.07 1)">IFNγ (+)</text>
<line x1="723.0" y1="641.7" x2="1049.5" y2="641.7" stroke="#000" stroke-width="4.4" stroke-linecap="butt"/>
<text x="0" y="0" text-anchor="start" dominant-baseline="central" fill="#000" style="font-size:24.3px;font-weight:bold;" transform="translate(750.8 909.5) rotate(-90) scale(1.075 1)">Ctrl</text>
<text x="0" y="0" text-anchor="start" dominant-baseline="central" fill="#000" style="font-size:24.3px;font-weight:bold;" transform="translate(808.6 909.5) rotate(-90) scale(1.075 1)">HA-Tet1  (1-565)</text>
<text x="0" y="0" text-anchor="start" dominant-baseline="central" fill="#000" style="font-size:24.3px;font-weight:bold;" transform="translate(878.5 909.5) rotate(-90) scale(1.075 1)">HA-Tet1  (1-610)</text>
<text x="0" y="0" text-anchor="start" dominant-baseline="central" fill="#000" style="font-size:24.3px;font-weight:bold;" transform="translate(944.6 909.5) rotate(-90) scale(1.075 1)">HA-Tet1  (609-1525)</text>
<text x="0" y="0" text-anchor="start" dominant-baseline="central" fill="#000" style="font-size:24.3px;font-weight:bold;" transform="translate(1013.8 909.5) rotate(-90) scale(1.075 1)">HA-Tet1  (1525-2039)</text>
<text x="711.0" y="950.6" text-anchor="end" dominant-baseline="central" fill="#000" style="font-size:25.5px;font-weight:bold;">p-Stat1</text>
<text x="686.8" y="1087.0" text-anchor="middle" dominant-baseline="central" fill="#000" style="font-size:25.5px;font-weight:bold;">HA</text>
<text x="709.5" y="1237.0" text-anchor="end" dominant-baseline="central" fill="#000" style="font-size:25.5px;font-weight:bold;">p-Stat1</text>
<text x="685.5" y="1381.5" text-anchor="middle" dominant-baseline="central" fill="#000" style="font-size:25.5px;font-weight:bold;">HA</text>
<text x="704.5" y="1546.8" text-anchor="end" dominant-baseline="central" fill="#000" style="font-size:25.5px;font-weight:bold;">Gapdh</text>
<text x="0" y="0" text-anchor="middle" dominant-baseline="central" fill="#000" style="font-size:25.5px;font-weight:bold;" transform="translate(581.0 1059.0) rotate(-90)">IP: HA-Tet1</text>
<text x="0" y="0" text-anchor="middle" dominant-baseline="central" fill="#000" style="font-size:25.5px;font-weight:bold;" transform="translate(583.0 1344.6) rotate(-90)">Input</text>
<line x1="613.0" y1="934.6" x2="613.0" y2="1183.8" stroke="#000" stroke-width="4.6" stroke-linecap="butt"/>
<line x1="613.0" y1="1227.7" x2="613.0" y2="1477.5" stroke="#000" stroke-width="4.6" stroke-linecap="butt"/>
<rect x="719.1" y="920.7" width="336.3" height="57.6" fill="#dfdfdf"/>
<g clip-path="url(#bc12)">
<rect x="733.0" y="946.5" width="36.0" height="11.0" rx="5.5" fill="#bcbcbc" opacity="1" filter="url(#b2)"/>
<ellipse cx="738.0" cy="951.0" rx="4.0" ry="4.0" fill="#aaa" opacity="1" filter="url(#b15)"/>
<ellipse cx="761.5" cy="951.5" rx="6.0" ry="6.5" fill="#9c9c9c" opacity="1" filter="url(#b2)"/>
<rect x="989.0" y="947.5" width="46.0" height="19.0" rx="7.0" fill="#070606" opacity="1" filter="url(#b15)"/>
</g>
<rect x="720.8" y="922.4" width="333.0" height="54.3" fill="none" stroke="#000" stroke-width="3.3"/>
<rect x="719.1" y="994.9" width="336.6" height="197.0" fill="#dfdfdf"/>
<g clip-path="url(#bc13)">
<rect x="739.0" y="1040.0" width="41.0" height="4.0" rx="2.0" fill="#b0b0b0" opacity="1" filter="url(#b1)"/>
<ellipse cx="774.0" cy="1041.0" rx="4.0" ry="2.0" fill="#777" opacity="1" filter="url(#b1)"/>
<rect x="805.0" y="1033.0" width="40.0" height="64.0" rx="6.0" fill="#bdbdbd" opacity="1" filter="url(#b3)"/>
<rect x="805.0" y="1034.0" width="40.0" height="12.0" rx="6.0" fill="#a2a2a2" opacity="1" filter="url(#b2)"/>
<rect x="806.0" y="1085.0" width="40.0" height="14.0" rx="7.0" fill="#a8a8a8" opacity="1" filter="url(#b2)"/>
<rect x="803.0" y="1167.0" width="47.0" height="22.0" rx="5.0" fill="#bbb" opacity="1" filter="url(#b3)"/>
<polygon points="805.7,1099.0 843.9,1100.1 852.9,1115.9 855.6,1138.4 851.1,1158.6 834.9,1167.1 812.4,1169.4 803.4,1154.1 798.5,1133.9 798.9,1115.9" fill="#070606" opacity="1" filter="url(#b2)"/>
<rect x="869.0" y="1037.0" width="39.0" height="50.0" rx="6.0" fill="#cfcfcf" opacity="1" filter="url(#b3)"/>
<rect x="869.0" y="1036.5" width="39.0" height="9.0" rx="4.5" fill="#b0b0b0" opacity="1" filter="url(#b2)"/>
<rect x="868.0" y="1121.0" width="42.0" height="48.0" rx="8.0" fill="#b2b2b2" opacity="1" filter="url(#b3)"/>
<rect x="861.5" y="1087.5" width="55.5" height="34.0" rx="13.0" fill="#070606" opacity="1" filter="url(#b15)"/>
<rect x="931.0" y="1016.5" width="41.5" height="19.0" rx="7.0" fill="#070606" opacity="1" filter="url(#b2)"/>
<rect x="934.0" y="1115.0" width="41.0" height="5.0" rx="2.5" fill="#b0b0b0" opacity="1" filter="url(#b15)"/>
<rect x="934.0" y="1135.0" width="41.0" height="50.0" rx="5.0" fill="#d0d0d0" opacity="1" filter="url(#b3)"/>
<rect x="994.0" y="1030.5" width="44.0" height="9.0" rx="4.5" fill="#b8b8b8" opacity="1" filter="url(#b2)"/>
<rect x="996.0" y="1110.0" width="42.0" height="60.0" rx="6.0" fill="#d2d2d2" opacity="1" filter="url(#b4)"/>
<rect x="994.0" y="1170.5" width="52.0" height="13.0" rx="5.0" fill="#070606" opacity="1" filter="url(#b15)"/>
</g>
<rect x="720.6" y="996.4" width="333.6" height="194.0" fill="none" stroke="#000" stroke-width="3"/>
<rect x="718.0" y="1206.2" width="337.3" height="61.4" fill="#dfdfdf"/>
<g clip-path="url(#bc14)">
<rect x="732.0" y="1231.0" width="37.0" height="12.0" rx="6.0" fill="#6a6a6a" opacity="1" filter="url(#b2)"/>
<rect x="793.0" y="1231.5" width="40.0" height="11.0" rx="5.5" fill="#7c7c7c" opacity="1" filter="url(#b2)"/>
<rect x="862.0" y="1232.0" width="40.0" height="12.0" rx="6.0" fill="#484848" opacity="1" filter="url(#b2)"/>
<rect x="925.0" y="1230.5" width="38.0" height="12.0" rx="6.0" fill="#5a5a5a" opacity="1" filter="url(#b2)"/>
<ellipse cx="955.0" cy="1235.0" rx="6.0" ry="5.0" fill="#222" opacity="1" filter="url(#b15)"/>
<rect x="988.0" y="1226.5" width="43.0" height="22.0" rx="6.0" fill="#141414" opacity="1" filter="url(#b2)"/>
</g>
<rect x="719.5" y="1207.7" width="334.3" height="58.4" fill="none" stroke="#000" stroke-width="3"/>
<rect x="719.1" y="1282.2" width="339.6" height="218.1" fill="#dfdfdf"/>
<g clip-path="url(#bc15)">
<rect x="738.0" y="1319.5" width="41.0" height="7.0" rx="3.5" fill="#666" opacity="1" filter="url(#b15)"/>
<ellipse cx="743.0" cy="1323.0" rx="5.0" ry="5.0" fill="#111" opacity="1" filter="url(#b15)"/>
<polygon points="803.4,1315.9 816.9,1312.6 839.4,1319.3 842.1,1329.4 825.9,1336.6 805.7,1334.4" fill="#070606" opacity="1" filter="url(#b15)"/>
<polygon points="812.0,1333.9 826.4,1333.9 825.0,1360.9 837.6,1372.1 846.6,1399.1 844.4,1426.1 834.9,1444.1 816.9,1446.8 801.2,1435.1 795.3,1414.9 798.9,1381.1 810.6,1360.9" fill="#070606" opacity="1" filter="url(#b2)"/>
<ellipse cx="792.0" cy="1445.0" rx="6.0" ry="5.0" fill="#2a2a2a" opacity="1" filter="url(#b2)"/>
<rect x="806.0" y="1448.0" width="29.0" height="40.0" rx="5.0" fill="#d0d0d0" opacity="1" filter="url(#b3)"/>
<ellipse cx="822.0" cy="1300.0" rx="2.0" ry="8.0" fill="#aaa" opacity="1" filter="url(#b15)"/>
<rect x="863.0" y="1320.5" width="42.0" height="11.0" rx="5.0" fill="#0c0c0c" opacity="1" filter="url(#b15)"/>
<polygon points="857.0,1357.5 866.9,1356.4 871.4,1369.9 902.4,1369.9 910.5,1383.4 908.2,1403.6 897.9,1409.5 870.9,1407.2 860.6,1392.4 856.1,1369.9" fill="#070606" opacity="1" filter="url(#b15)"/>
<rect x="863.0" y="1410.5" width="39.0" height="9.0" rx="4.5" fill="#777" opacity="1" filter="url(#b2)"/>
<path d="M866.0,1436.2 Q874.0,1430.2 882.0,1436.2 A1.2,1.2 0 0 1 882.0,1438.8 Q874.0,1432.8 866.0,1438.8 A1.2,1.2 0 0 1 866.0,1436.2Z" fill="#888" opacity="1" filter="url(#b1)"/>
<rect x="925.0" y="1303.5" width="49.5" height="33.0" rx="9.0" fill="#070606" opacity="1" filter="url(#b15)"/>
<rect x="930.0" y="1429.0" width="39.0" height="58.0" rx="6.0" fill="#cdcdcd" opacity="1" filter="url(#b3)"/>
<rect x="933.0" y="1464.0" width="37.0" height="12.0" rx="6.0" fill="#a8a8a8" opacity="1" filter="url(#b2)"/>
<rect x="994.0" y="1324.0" width="41.0" height="8.0" rx="4.0" fill="#141414" opacity="1" filter="url(#b15)"/>
<rect x="992.0" y="1466.5" width="42.0" height="11.0" rx="5.5" fill="#7a7a7a" opacity="1" filter="url(#b2)"/>
<ellipse cx="793.5" cy="1294.0" rx="2.5" ry="1.2" fill="#111" opacity="1" filter="url(#b05)"/>
<ellipse cx="789.0" cy="1495.0" rx="4.0" ry="2.5" fill="#111" opacity="1" filter="url(#b05)"/>
</g>
<rect x="720.6" y="1283.7" width="336.6" height="215.1" fill="none" stroke="#000" stroke-width="3"/>
<rect x="718.7" y="1514.3" width="340.0" height="62.5" fill="#dfdfdf"/>
<g clip-path="url(#bc16)">
<rect x="729.0" y="1543.0" width="52.5" height="17.0" rx="8.5" fill="#070606" opacity="1" filter="url(#b15)"/>
<rect x="794.5" y="1540.5" width="57.0" height="15.5" rx="7.5" fill="#070606" opacity="1" filter="url(#b15)"/>
<rect x="864.0" y="1538.6" width="50.0" height="16.0" rx="8.0" fill="#070606" opacity="1" filter="url(#b15)" transform="rotate(-2.29 889.0 1546.6)"/>
<rect x="925.5" y="1537.2" width="59.1" height="18.0" rx="9.0" fill="#070606" opacity="1" filter="url(#b15)" transform="rotate(-1.94 955.0 1546.2)"/>
<rect x="996.0" y="1533.9" width="53.0" height="19.0" rx="9.5" fill="#070606" opacity="1" filter="url(#b15)"/>
</g>
<rect x="720.2" y="1515.8" width="337.0" height="59.5" fill="none" stroke="#000" stroke-width="3"/>
<text x="1094.8" y="631.5" text-anchor="start" dominant-baseline="alphabetic" fill="#000" style="font-size:37px;font-weight:bold;">G</text>
<text x="0" y="0" text-anchor="middle" dominant-baseline="central" fill="#000" style="font-size:24.6px;font-weight:bold;" transform="translate(1473.5 630.5) scale(1.07 1)">IFNγ (+)</text>
<line x1="1208.7" y1="657.7" x2="1738.0" y2="657.7" stroke="#000" stroke-width="4.2" stroke-linecap="butt"/>
<text x="0" y="0" text-anchor="middle" dominant-baseline="central" fill="#000" style="font-size:24.6px;font-weight:bold;" transform="translate(1341.7 692.3) scale(1.07 1)">sgCtrl</text>
<text x="0" y="0" text-anchor="middle" dominant-baseline="central" fill="#000" style="font-size:24.6px;font-weight:bold;" transform="translate(1613.0 692.3) scale(1.07 1)">sgNampt</text>
<line x1="1211.8" y1="715.0" x2="1452.0" y2="715.0" stroke="#000" stroke-width="4.2" stroke-linecap="butt"/>
<line x1="1487.0" y1="715.0" x2="1737.0" y2="715.0" stroke="#000" stroke-width="4.2" stroke-linecap="butt"/>
<text x="0" y="0" text-anchor="start" dominant-baseline="central" fill="#000" style="font-size:24.6px;font-weight:bold;" transform="translate(1097.0 739.5) scale(1.07 1)">CHX (h)</text>
<text x="0" y="0" text-anchor="middle" dominant-baseline="central" fill="#000" style="font-size:24.6px;font-weight:bold;" transform="translate(1236.0 744.5) scale(1.07 1)">0</text>
<text x="0" y="0" text-anchor="middle" dominant-baseline="central" fill="#000" style="font-size:24.6px;font-weight:bold;" transform="translate(1301.0 744.5) scale(1.07 1)">2</text>
<text x="0" y="0" text-anchor="middle" dominant-baseline="central" fill="#000" style="font-size:24.6px;font-weight:bold;" transform="translate(1366.5 744.5) scale(1.07 1)">4</text>
<text x="0" y="0" text-anchor="middle" dominant-baseline="central" fill="#000" style="font-size:24.6px;font-weight:bold;" transform="translate(1431.4 744.5) scale(1.07 1)">6</text>
<text x="0" y="0" text-anchor="middle" dominant-baseline="central" fill="#000" style="font-size:24.6px;font-weight:bold;" transform="translate(1507.0 744.5) scale(1.07 1)">0</text>
<text x="0" y="0" text-anchor="middle" dominant-baseline="central" fill="#000" style="font-size:24.6px;font-weight:bold;" transform="translate(1572.0 744.5) scale(1.07 1)">2</text>
<text x="0" y="0" text-anchor="middle" dominant-baseline="central" fill="#000" style="font-size:24.6px;font-weight:bold;" transform="translate(1637.0 744.5) scale(1.07 1)">4</text>
<text x="0" y="0" text-anchor="middle" dominant-baseline="central" fill="#000" style="font-size:24.6px;font-weight:bold;" transform="translate(1702.0 744.5) scale(1.07 1)">6</text>
<text x="0" y="0" text-anchor="start" dominant-baseline="central" fill="#000" style="font-size:24.6px;font-weight:bold;" transform="translate(1097.5 787.0) scale(1.07 1)">p-Stat1</text>
<text x="0" y="0" text-anchor="start" dominant-baseline="central" fill="#000" style="font-size:24.6px;font-weight:bold;" transform="translate(1100.0 862.7) scale(1.07 1)">Nampt</text>
<text x="0" y="0" text-anchor="start" dominant-baseline="central" fill="#000" style="font-size:24.6px;font-weight:bold;" transform="translate(1106.5 938.0) scale(1.07 1)">Gapdh</text>
<rect x="1198.4" y="768.4" width="540.1" height="46.9" fill="#dfdfdf"/>
<g clip-path="url(#bc17)">
<path d="M1219.3,796.6 Q1237.8,793.4 1256.3,796.6 A5.5,5.5 0 0 1 1256.3,807.6 Q1237.8,804.4 1219.3,807.6 A5.5,5.5 0 0 1 1219.3,796.6Z" fill="#070606" opacity="1" filter="url(#b1)"/>
<path d="M1287.5,793.4 Q1304.8,790.2 1322.2,793.4 A4.8,4.8 0 0 1 1322.2,802.9 Q1304.8,799.8 1287.5,802.9 A4.8,4.8 0 0 1 1287.5,793.4Z" fill="#070606" opacity="1" filter="url(#b1)"/>
<path d="M1353.4,792.8 Q1370.9,789.6 1388.4,792.8 A2.6,2.6 0 0 1 1388.4,798.0 Q1370.9,794.8 1353.4,798.0 A2.6,2.6 0 0 1 1353.4,792.8Z" fill="#1c1c1c" opacity="1" filter="url(#b1)"/>
<path d="M1417.5,792.4 Q1434.7,789.2 1451.8,792.4 A2.2,2.2 0 0 1 1451.8,796.9 Q1434.7,793.8 1417.5,796.9 A2.2,2.2 0 0 1 1417.5,792.4Z" fill="#2c2c2c" opacity="1" filter="url(#b1)"/>
<path d="M1483.0,791.4 Q1501.5,788.2 1520.0,791.4 A4.8,4.8 0 0 1 1520.0,800.9 Q1501.5,797.8 1483.0,800.9 A4.8,4.8 0 0 1 1483.0,791.4Z" fill="#070606" opacity="1" filter="url(#b1)"/>
<path d="M1549.5,792.2 Q1567.8,789.0 1586.0,792.2 A2.5,2.5 0 0 1 1586.0,797.2 Q1567.8,794.0 1549.5,797.2 A2.5,2.5 0 0 1 1549.5,792.2Z" fill="#1c1c1c" opacity="1" filter="url(#b1)"/>
<path d="M1615.7,791.4 Q1633.3,788.2 1650.9,791.4 A1.6,1.6 0 0 1 1650.9,794.7 Q1633.3,791.5 1615.7,794.7 A1.6,1.6 0 0 1 1615.7,791.4Z" fill="#666" opacity="1" filter="url(#b1)"/>
<path d="M1683.2,790.6 Q1700.8,787.4 1718.3,790.6 A1.2,1.2 0 0 1 1718.3,793.0 Q1700.8,789.8 1683.2,793.0 A1.2,1.2 0 0 1 1683.2,790.6Z" fill="#aaa" opacity="1" filter="url(#b1)"/>
<rect x="1480.0" y="810.0" width="42.0" height="4.0" rx="2.0" fill="#bbb" opacity="1" filter="url(#b15)"/>
</g>
<rect x="1199.9" y="769.9" width="537.1" height="43.9" fill="none" stroke="#000" stroke-width="3"/>
<rect x="1198.4" y="832.6" width="540.1" height="52.9" fill="#dfdfdf"/>
<g clip-path="url(#bc18)">
<path d="M1217.6,860.9 Q1234.4,859.3 1251.2,860.9 A1.8,1.8 0 0 1 1251.2,864.5 Q1234.4,862.9 1217.6,864.5 A1.8,1.8 0 0 1 1217.6,860.9Z" fill="#333" opacity="1" filter="url(#b1)"/>
<path d="M1283.4,859.2 Q1300.8,857.6 1318.1,859.2 A2.7,2.7 0 0 1 1318.1,864.6 Q1300.8,863.0 1283.4,864.6 A2.7,2.7 0 0 1 1283.4,859.2Z" fill="#0c0c0c" opacity="1" filter="url(#b1)"/>
<path d="M1350.2,858.2 Q1368.1,856.6 1385.9,858.2 A1.8,1.8 0 0 1 1385.9,861.8 Q1368.1,860.2 1350.2,861.8 A1.8,1.8 0 0 1 1350.2,858.2Z" fill="#333" opacity="1" filter="url(#b1)"/>
<path d="M1416.6,856.3 Q1435.3,854.7 1454.1,856.3 A2.9,2.9 0 0 1 1454.1,862.1 Q1435.3,860.5 1416.6,862.1 A2.9,2.9 0 0 1 1416.6,856.3Z" fill="#070606" opacity="1" filter="url(#b1)"/>
<rect x="1688.0" y="850.3" width="34.0" height="2.0" rx="1.0" fill="#a5a5a5" opacity="1" filter="url(#b1)" transform="rotate(-3.37 1705.0 851.3)"/>
</g>
<rect x="1199.9" y="834.1" width="537.1" height="49.9" fill="none" stroke="#000" stroke-width="3"/>
<rect x="1200.6" y="906.3" width="539.6" height="62.9" fill="#dfdfdf"/>
<g clip-path="url(#bc19)">
<rect x="1217.0" y="935.9" width="56.6" height="15.0" rx="7.5" fill="#070606" opacity="1" filter="url(#b15)" transform="rotate(2.02 1245.3 943.4)"/>
<rect x="1282.7" y="940.0" width="55.1" height="14.5" rx="7.2" fill="#070606" opacity="1" filter="url(#b15)" transform="rotate(-1.04 1310.2 947.3)"/>
<rect x="1347.6" y="937.9" width="56.4" height="15.0" rx="7.5" fill="#070606" opacity="1" filter="url(#b15)"/>
<rect x="1412.5" y="934.7" width="55.1" height="15.0" rx="7.5" fill="#070606" opacity="1" filter="url(#b15)" transform="rotate(-2.08 1440.0 942.2)"/>
<rect x="1471.6" y="930.3" width="60.2" height="16.0" rx="8.0" fill="#070606" opacity="1" filter="url(#b15)"/>
<rect x="1538.5" y="927.0" width="61.0" height="16.0" rx="8.0" fill="#070606" opacity="1" filter="url(#b15)" transform="rotate(-0.94 1569.0 935.0)"/>
<rect x="1605.4" y="923.6" width="56.3" height="16.0" rx="8.0" fill="#070606" opacity="1" filter="url(#b15)" transform="rotate(-1.02 1633.6 931.6)"/>
<rect x="1667.0" y="919.2" width="60.4" height="17.0" rx="8.5" fill="#070606" opacity="1" filter="url(#b15)"/>
</g>
<rect x="1202.1" y="907.8" width="536.6" height="59.9" fill="none" stroke="#000" stroke-width="3"/>
<text x="0" y="0" text-anchor="middle" dominant-baseline="central" fill="#000" style="font-size:24.6px;font-weight:bold;" transform="translate(1471.6 1035.0) scale(1.07 1)">IFNγ (+)</text>
<line x1="1206.0" y1="1062.0" x2="1735.0" y2="1062.0" stroke="#000" stroke-width="4.2" stroke-linecap="butt"/>
<text x="0" y="0" text-anchor="middle" dominant-baseline="central" fill="#000" style="font-size:24.6px;font-weight:bold;" transform="translate(1335.0 1095.5) scale(1.07 1)">Ctrl</text>
<text x="0" y="0" text-anchor="middle" dominant-baseline="central" fill="#000" style="font-size:24.6px;font-weight:bold;" transform="translate(1611.0 1095.5) scale(1.07 1)">NMN</text>
<line x1="1210.0" y1="1119.0" x2="1450.0" y2="1119.0" stroke="#000" stroke-width="4.2" stroke-linecap="butt"/>
<line x1="1485.0" y1="1119.0" x2="1735.0" y2="1119.0" stroke="#000" stroke-width="4.2" stroke-linecap="butt"/>
<text x="0" y="0" text-anchor="start" dominant-baseline="central" fill="#000" style="font-size:24.6px;font-weight:bold;" transform="translate(1098.0 1142.7) scale(1.07 1)">CHX (h)</text>
<text x="0" y="0" text-anchor="middle" dominant-baseline="central" fill="#000" style="font-size:24.6px;font-weight:bold;" transform="translate(1236.5 1148.5) scale(1.07 1)">0</text>
<text x="0" y="0" text-anchor="middle" dominant-baseline="central" fill="#000" style="font-size:24.6px;font-weight:bold;" transform="translate(1301.5 1148.5) scale(1.07 1)">2</text>
<text x="0" y="0" text-anchor="middle" dominant-baseline="central" fill="#000" style="font-size:24.6px;font-weight:bold;" transform="translate(1366.5 1148.5) scale(1.07 1)">4</text>
<text x="0" y="0" text-anchor="middle" dominant-baseline="central" fill="#000" style="font-size:24.6px;font-weight:bold;" transform="translate(1432.0 1148.5) scale(1.07 1)">6</text>
<text x="0" y="0" text-anchor="middle" dominant-baseline="central" fill="#000" style="font-size:24.6px;font-weight:bold;" transform="translate(1507.0 1148.5) scale(1.07 1)">0</text>
<text x="0" y="0" text-anchor="middle" dominant-baseline="central" fill="#000" style="font-size:24.6px;font-weight:bold;" transform="translate(1572.0 1148.5) scale(1.07 1)">2</text>
<text x="0" y="0" text-anchor="middle" dominant-baseline="central" fill="#000" style="font-size:24.6px;font-weight:bold;" transform="translate(1637.0 1148.5) scale(1.07 1)">4</text>
<text x="0" y="0" text-anchor="middle" dominant-baseline="central" fill="#000" style="font-size:24.6px;font-weight:bold;" transform="translate(1702.0 1148.5) scale(1.07 1)">6</text>
<text x="0" y="0" text-anchor="start" dominant-baseline="central" fill="#000" style="font-size:24.6px;font-weight:bold;" transform="translate(1103.0 1202.5) scale(1.07 1)">p-Stat1</text>
<text x="0" y="0" text-anchor="start" dominant-baseline="central" fill="#000" style="font-size:24.6px;font-weight:bold;" transform="translate(1108.0 1281.0) scale(1.07 1)">Gapdh</text>
<rect x="1201.7" y="1176.0" width="540.0" height="51.5" fill="#dfdfdf"/>
<g clip-path="url(#bc20)">
<path d="M1225.0,1212.1 Q1244.3,1209.3 1263.6,1212.1 A4.1,4.1 0 0 1 1263.6,1220.3 Q1244.3,1217.5 1225.0,1220.3 A4.1,4.1 0 0 1 1225.0,1212.1Z" fill="#070606" opacity="1" filter="url(#b1)"/>
<path d="M1294.4,1211.2 Q1313.2,1208.4 1331.9,1211.2 A1.9,1.9 0 0 1 1331.9,1215.0 Q1313.2,1212.2 1294.4,1215.0 A1.9,1.9 0 0 1 1294.4,1211.2Z" fill="#7a7a7a" opacity="1" filter="url(#b1)"/>
<path d="M1359.8,1208.7 Q1379.1,1205.9 1398.3,1208.7 A2.4,2.4 0 0 1 1398.3,1213.5 Q1379.1,1210.7 1359.8,1213.5 A2.4,2.4 0 0 1 1359.8,1208.7Z" fill="#5a5a5a" opacity="1" filter="url(#b1)"/>
<path d="M1427.0,1208.4 Q1445.2,1205.6 1463.5,1208.4 A1.5,1.5 0 0 1 1463.5,1211.4 Q1445.2,1208.6 1427.0,1211.4 A1.5,1.5 0 0 1 1427.0,1208.4Z" fill="#adadad" opacity="1" filter="url(#b1)"/>
<path d="M1494.5,1205.0 Q1512.9,1202.2 1531.2,1205.0 A5.2,5.2 0 0 1 1531.2,1215.5 Q1512.9,1212.8 1494.5,1215.5 A5.2,5.2 0 0 1 1494.5,1205.0Z" fill="#070606" opacity="1" filter="url(#b1)"/>
<path d="M1558.7,1205.0 Q1576.8,1202.2 1595.0,1205.0 A4.5,4.5 0 0 1 1595.0,1214.0 Q1576.8,1211.2 1558.7,1214.0 A4.5,4.5 0 0 1 1558.7,1205.0Z" fill="#070606" opacity="1" filter="url(#b1)"/>
<path d="M1625.1,1206.7 Q1644.3,1203.9 1663.6,1206.7 A2.8,2.8 0 0 1 1663.6,1212.3 Q1644.3,1209.5 1625.1,1212.3 A2.8,2.8 0 0 1 1625.1,1206.7Z" fill="#1c1c1c" opacity="1" filter="url(#b1)"/>
<path d="M1691.2,1207.3 Q1710.0,1204.5 1728.9,1207.3 A2.4,2.4 0 0 1 1728.9,1212.1 Q1710.0,1209.3 1691.2,1212.1 A2.4,2.4 0 0 1 1691.2,1207.3Z" fill="#2c2c2c" opacity="1" filter="url(#b1)"/>
<rect x="1491.0" y="1221.5" width="43.0" height="3.0" rx="1.5" fill="#c0c0c0" opacity="1" filter="url(#b15)"/>
</g>
<rect x="1203.2" y="1177.5" width="537.0" height="48.5" fill="none" stroke="#000" stroke-width="3"/>
<rect x="1202.3" y="1248.0" width="539.4" height="59.0" fill="#dfdfdf"/>
<g clip-path="url(#bc21)">
<rect x="1211.0" y="1270.0" width="58.0" height="18.0" rx="9.0" fill="#070606" opacity="1" filter="url(#b15)"/>
<rect x="1276.8" y="1270.0" width="57.8" height="18.0" rx="9.0" fill="#070606" opacity="1" filter="url(#b15)"/>
<rect x="1339.7" y="1271.0" width="62.3" height="18.0" rx="9.0" fill="#070606" opacity="1" filter="url(#b15)"/>
<rect x="1410.6" y="1270.0" width="57.0" height="18.0" rx="9.0" fill="#070606" opacity="1" filter="url(#b15)"/>
<rect x="1473.5" y="1269.5" width="59.9" height="18.0" rx="9.0" fill="#070606" opacity="1" filter="url(#b15)"/>
<rect x="1542.4" y="1270.5" width="55.1" height="18.0" rx="9.0" fill="#070606" opacity="1" filter="url(#b15)"/>
<rect x="1609.3" y="1265.0" width="55.7" height="18.0" rx="9.0" fill="#070606" opacity="1" filter="url(#b15)"/>
<rect x="1673.0" y="1263.6" width="58.3" height="18.0" rx="9.0" fill="#070606" opacity="1" filter="url(#b15)"/>
<ellipse cx="1249.0" cy="1293.0" rx="12.0" ry="6.0" fill="#c8c8c8" opacity="1" filter="url(#b3)"/>
<ellipse cx="1310.0" cy="1293.0" rx="12.0" ry="6.0" fill="#c8c8c8" opacity="1" filter="url(#b3)"/>
<ellipse cx="1375.0" cy="1293.0" rx="12.0" ry="6.0" fill="#c8c8c8" opacity="1" filter="url(#b3)"/>
<ellipse cx="1438.0" cy="1293.0" rx="12.0" ry="6.0" fill="#c8c8c8" opacity="1" filter="url(#b3)"/>
</g>
<rect x="1203.8" y="1249.5" width="536.4" height="56.0" fill="none" stroke="#000" stroke-width="3"/>
<text x="1093.8" y="1408.0" text-anchor="start" dominant-baseline="alphabetic" fill="#000" style="font-size:37px;font-weight:bold;">H</text>
<text x="0" y="0" text-anchor="middle" dominant-baseline="central" fill="#000" style="font-size:24.6px;font-weight:bold;" transform="translate(1471.6 1412.0) scale(1.07 1)">IFNγ (+)</text>
<line x1="1206.0" y1="1437.7" x2="1736.0" y2="1437.7" stroke="#000" stroke-width="4.2" stroke-linecap="butt"/>
<text x="0" y="0" text-anchor="middle" dominant-baseline="central" fill="#000" style="font-size:24.6px;font-weight:bold;" transform="translate(1335.8 1473.0) scale(1.07 1)">Ctrl</text>
<text x="0" y="0" text-anchor="middle" dominant-baseline="central" fill="#000" style="font-size:24.6px;font-weight:bold;" transform="translate(1610.5 1473.0) scale(1.07 1)">HA-Tet1</text>
<line x1="1210.7" y1="1496.7" x2="1451.0" y2="1496.7" stroke="#000" stroke-width="4.2" stroke-linecap="butt"/>
<line x1="1485.0" y1="1496.7" x2="1736.0" y2="1496.7" stroke="#000" stroke-width="4.2" stroke-linecap="butt"/>
<text x="0" y="0" text-anchor="start" dominant-baseline="central" fill="#000" style="font-size:24.6px;font-weight:bold;" transform="translate(1103.6 1529.4) scale(1.07 1)">CHX (h)</text>
<text x="0" y="0" text-anchor="middle" dominant-baseline="central" fill="#000" style="font-size:24.6px;font-weight:bold;" transform="translate(1256.0 1529.8) scale(1.07 1)">0</text>
<text x="0" y="0" text-anchor="middle" dominant-baseline="central" fill="#000" style="font-size:24.6px;font-weight:bold;" transform="translate(1313.4 1529.8) scale(1.07 1)">2</text>
<text x="0" y="0" text-anchor="middle" dominant-baseline="central" fill="#000" style="font-size:24.6px;font-weight:bold;" transform="translate(1371.0 1529.8) scale(1.07 1)">4</text>
<text x="0" y="0" text-anchor="middle" dominant-baseline="central" fill="#000" style="font-size:24.6px;font-weight:bold;" transform="translate(1429.5 1529.8) scale(1.07 1)">6</text>
<text x="0" y="0" text-anchor="middle" dominant-baseline="central" fill="#000" style="font-size:24.6px;font-weight:bold;" transform="translate(1514.0 1529.8) scale(1.07 1)">0</text>
<text x="0" y="0" text-anchor="middle" dominant-baseline="central" fill="#000" style="font-size:24.6px;font-weight:bold;" transform="translate(1572.0 1529.8) scale(1.07 1)">2</text>
<text x="0" y="0" text-anchor="middle" dominant-baseline="central" fill="#000" style="font-size:24.6px;font-weight:bold;" transform="translate(1630.0 1529.8) scale(1.07 1)">4</text>
<text x="0" y="0" text-anchor="middle" dominant-baseline="central" fill="#000" style="font-size:24.6px;font-weight:bold;" transform="translate(1688.0 1529.8) scale(1.07 1)">6</text>
<text x="0" y="0" text-anchor="end" dominant-baseline="central" fill="#000" style="font-size:24.6px;font-weight:bold;" transform="translate(1197.0 1591.0) scale(1.07 1)">p-Stat1</text>
<text x="0" y="0" text-anchor="end" dominant-baseline="central" fill="#000" style="font-size:24.6px;font-weight:bold;" transform="translate(1195.0 1668.0) scale(1.07 1)">HA-Tet1</text>
<text x="0" y="0" text-anchor="end" dominant-baseline="central" fill="#000" style="font-size:24.6px;font-weight:bold;" transform="translate(1193.0 1757.6) scale(1.07 1)">Gapdh</text>
<rect x="1210.3" y="1556.5" width="529.0" height="55.0" fill="#dfdfdf"/>
<g clip-path="url(#bc22)">
<rect x="1225.6" y="1561.0" width="39.4" height="44.0" rx="3.0" fill="#cfcfcf" opacity="1" filter="url(#b2)"/>
<rect x="1225.6" y="1561.0" width="39.4" height="47.0" fill="#7d7d7d" filter="url(#nz)"/>
<rect x="1225.6" y="1592.8" width="39.4" height="9.5" rx="4.0" fill="#070606" opacity="1" filter="url(#b15)"/>
<rect x="1288.6" y="1561.0" width="43.4" height="44.0" rx="3.0" fill="#cfcfcf" opacity="1" filter="url(#b2)"/>
<rect x="1288.6" y="1561.0" width="43.4" height="47.0" fill="#7d7d7d" filter="url(#nz)"/>
<rect x="1288.6" y="1592.8" width="43.4" height="9.5" rx="4.0" fill="#2c2c2c" opacity="1" filter="url(#b15)"/>
<rect x="1355.5" y="1561.0" width="41.5" height="44.0" rx="3.0" fill="#cfcfcf" opacity="1" filter="url(#b2)"/>
<rect x="1355.5" y="1561.0" width="41.5" height="47.0" fill="#7d7d7d" filter="url(#nz)"/>
<rect x="1355.5" y="1592.8" width="41.5" height="9.5" rx="4.0" fill="#3a3a3a" opacity="1" filter="url(#b15)"/>
<rect x="1418.5" y="1561.0" width="45.2" height="44.0" rx="3.0" fill="#cfcfcf" opacity="1" filter="url(#b2)"/>
<rect x="1418.5" y="1561.0" width="45.2" height="47.0" fill="#7d7d7d" filter="url(#nz)"/>
<rect x="1418.5" y="1592.8" width="45.2" height="9.5" rx="4.0" fill="#8a8a8a" opacity="1" filter="url(#b15)"/>
<rect x="1486.5" y="1558.0" width="43.5" height="52.0" rx="3.0" fill="#a8a8a8" opacity="1" filter="url(#b2)"/>
<rect x="1486.5" y="1559.0" width="43.5" height="51.0" fill="#4a4a4a" filter="url(#nz)"/>
<rect x="1486.5" y="1580.5" width="43.5" height="15.0" rx="5.0" fill="#070606" opacity="1" filter="url(#b15)"/>
<rect x="1550.3" y="1558.0" width="44.7" height="52.0" rx="3.0" fill="#a8a8a8" opacity="1" filter="url(#b2)"/>
<rect x="1550.3" y="1559.0" width="44.7" height="51.0" fill="#4a4a4a" filter="url(#nz)"/>
<rect x="1550.3" y="1582.0" width="44.7" height="12.0" rx="5.0" fill="#111" opacity="1" filter="url(#b15)"/>
<rect x="1614.4" y="1558.0" width="45.6" height="52.0" rx="3.0" fill="#a8a8a8" opacity="1" filter="url(#b2)"/>
<rect x="1614.4" y="1559.0" width="45.6" height="51.0" fill="#4a4a4a" filter="url(#nz)"/>
<rect x="1614.4" y="1582.0" width="45.6" height="12.0" rx="5.0" fill="#111" opacity="1" filter="url(#b15)"/>
<rect x="1681.0" y="1558.0" width="45.6" height="52.0" rx="3.0" fill="#a8a8a8" opacity="1" filter="url(#b2)"/>
<rect x="1681.0" y="1559.0" width="45.6" height="51.0" fill="#4a4a4a" filter="url(#nz)"/>
<rect x="1681.0" y="1582.0" width="45.6" height="12.0" rx="5.0" fill="#1c1c1c" opacity="1" filter="url(#b15)"/>
<ellipse cx="1541.0" cy="1579.5" rx="2.0" ry="1.3" fill="#111" opacity="1" filter="url(#b05)"/>
<ellipse cx="1573.0" cy="1599.0" rx="3.5" ry="3.0" fill="#070606" opacity="1" filter="url(#b1)"/>
<ellipse cx="1385.0" cy="1586.0" rx="3.0" ry="3.0" fill="#111" opacity="1" filter="url(#b1)"/>
</g>
<rect x="1211.8" y="1558.0" width="526.0" height="52.0" fill="none" stroke="#000" stroke-width="3"/>
<rect x="1210.3" y="1633.0" width="529.0" height="59.8" fill="#d2d2d2"/>
<g clip-path="url(#bc23)">
<rect x="1211.0" y="1634.0" width="527.0" height="58.0" fill="#c0c0c0" filter="url(#nz2)"/>
<rect x="1486.3" y="1651.4" width="41.7" height="16.0" rx="5.0" fill="#a9a9a9" opacity="1" filter="url(#b3)"/>
<rect x="1554.0" y="1652.0" width="40.6" height="16.0" rx="5.0" fill="#a9a9a9" opacity="1" filter="url(#b3)"/>
<rect x="1620.0" y="1648.0" width="38.7" height="16.0" rx="5.0" fill="#a9a9a9" opacity="1" filter="url(#b3)"/>
<rect x="1685.0" y="1643.5" width="41.4" height="16.0" rx="5.0" fill="#a9a9a9" opacity="1" filter="url(#b3)"/>
<rect x="1487.3" y="1659.9" width="39.7" height="9.0" rx="4.0" fill="#2e2e2e" opacity="1" filter="url(#b15)"/>
<rect x="1555.0" y="1660.5" width="38.6" height="9.0" rx="4.0" fill="#2e2e2e" opacity="1" filter="url(#b15)"/>
<rect x="1621.0" y="1657.2" width="36.7" height="7.5" rx="4.0" fill="#383838" opacity="1" filter="url(#b15)"/>
<rect x="1686.0" y="1652.2" width="39.4" height="8.5" rx="4.0" fill="#484848" opacity="1" filter="url(#b15)"/>
<ellipse cx="1236.0" cy="1647.5" rx="2.5" ry="1.8" fill="#111" opacity="1" filter="url(#b05)"/>
<ellipse cx="1317.0" cy="1638.5" rx="4.0" ry="1.3" fill="#222" opacity="1" filter="url(#b05)"/>
<ellipse cx="1349.0" cy="1675.0" rx="2.0" ry="1.5" fill="#444" opacity="1" filter="url(#b05)"/>
<ellipse cx="1454.0" cy="1680.5" rx="2.0" ry="1.5" fill="#333" opacity="1" filter="url(#b05)"/>
<ellipse cx="1615.0" cy="1652.0" rx="2.5" ry="1.5" fill="#222" opacity="1" filter="url(#b05)"/>
<ellipse cx="1666.0" cy="1646.0" rx="5.0" ry="2.2" fill="#111" opacity="1" filter="url(#b05)"/>
</g>
<rect x="1211.8" y="1634.5" width="526.0" height="56.8" fill="none" stroke="#000" stroke-width="3"/>
<rect x="1210.3" y="1715.5" width="529.0" height="70.0" fill="#dfdfdf"/>
<g clip-path="url(#bc24)">
<rect x="1215.0" y="1739.2" width="57.8" height="29.0" rx="12.0" fill="#070606" opacity="1" filter="url(#b15)"/>
<rect x="1278.7" y="1739.2" width="57.9" height="29.0" rx="12.0" fill="#070606" opacity="1" filter="url(#b15)"/>
<rect x="1347.6" y="1738.0" width="59.0" height="29.0" rx="12.0" fill="#070606" opacity="1" filter="url(#b15)"/>
<rect x="1414.5" y="1736.5" width="59.0" height="29.0" rx="12.0" fill="#070606" opacity="1" filter="url(#b15)"/>
<rect x="1481.4" y="1734.0" width="57.1" height="29.0" rx="12.0" fill="#070606" opacity="1" filter="url(#b15)"/>
<rect x="1546.4" y="1733.5" width="57.0" height="29.0" rx="12.0" fill="#070606" opacity="1" filter="url(#b15)"/>
<rect x="1610.0" y="1732.5" width="60.0" height="29.0" rx="12.0" fill="#070606" opacity="1" filter="url(#b15)"/>
<rect x="1678.0" y="1732.5" width="55.3" height="29.0" rx="12.0" fill="#070606" opacity="1" filter="url(#b15)"/>
</g>
<rect x="1211.8" y="1717.0" width="526.0" height="67.0" fill="none" stroke="#000" stroke-width="3"/>
<text x="6.2" y="1274.0" text-anchor="start" dominant-baseline="alphabetic" fill="#000" style="font-size:37px;font-weight:bold;">I</text>
<text x="264.0" y="1259.5" text-anchor="middle" dominant-baseline="central" fill="#000" style="font-size:20.5px;font-weight:bold;"><tspan font-style="italic">Irf1</tspan> promoter</text>
<line x1="127.0" y1="1507.1" x2="127.0" y2="1506.4" stroke="#000" stroke-width="1.8" stroke-linecap="butt"/>
<line x1="122.4" y1="1506.4" x2="131.6" y2="1506.4" stroke="#000" stroke-width="1.8" stroke-linecap="butt"/>
<rect x="116.9" y="1508.0" width="20.2" height="2.7" fill="#d3d3d3" stroke="#000" stroke-width="1.8"/>
<line x1="157.5" y1="1474.7" x2="157.5" y2="1462.4" stroke="#000" stroke-width="1.8" stroke-linecap="butt"/>
<line x1="153.1" y1="1462.4" x2="161.9" y2="1462.4" stroke="#000" stroke-width="1.8" stroke-linecap="butt"/>
<rect x="147.9" y="1475.6" width="19.2" height="35.1" fill="#e84343" stroke="#000" stroke-width="1.8"/>
<line x1="207.6" y1="1508.9" x2="207.6" y2="1508.5" stroke="#000" stroke-width="1.8" stroke-linecap="butt"/>
<line x1="203.0" y1="1508.5" x2="212.2" y2="1508.5" stroke="#000" stroke-width="1.8" stroke-linecap="butt"/>
<rect x="197.5" y="1509.8" width="20.2" height="0.9" fill="#d3d3d3" stroke="#000" stroke-width="1.8"/>
<line x1="238.8" y1="1464.9" x2="238.8" y2="1460.6" stroke="#000" stroke-width="1.8" stroke-linecap="butt"/>
<line x1="234.2" y1="1460.6" x2="243.3" y2="1460.6" stroke="#000" stroke-width="1.8" stroke-linecap="butt"/>
<rect x="228.9" y="1465.8" width="19.7" height="44.9" fill="#e84343" stroke="#000" stroke-width="1.8"/>
<line x1="288.3" y1="1506.4" x2="288.3" y2="1505.7" stroke="#000" stroke-width="1.8" stroke-linecap="butt"/>
<line x1="283.6" y1="1505.7" x2="293.0" y2="1505.7" stroke="#000" stroke-width="1.8" stroke-linecap="butt"/>
<rect x="277.9" y="1507.3" width="20.8" height="3.4" fill="#d3d3d3" stroke="#000" stroke-width="1.8"/>
<line x1="319.5" y1="1346.7" x2="319.5" y2="1316.1" stroke="#000" stroke-width="1.8" stroke-linecap="butt"/>
<line x1="315.1" y1="1316.1" x2="323.9" y2="1316.1" stroke="#000" stroke-width="1.8" stroke-linecap="butt"/>
<rect x="309.9" y="1347.6" width="19.2" height="163.1" fill="#e84343" stroke="#000" stroke-width="1.8"/>
<line x1="369.8" y1="1507.8" x2="369.8" y2="1507.1" stroke="#000" stroke-width="1.8" stroke-linecap="butt"/>
<line x1="365.1" y1="1507.1" x2="374.5" y2="1507.1" stroke="#000" stroke-width="1.8" stroke-linecap="butt"/>
<rect x="359.5" y="1508.7" width="20.6" height="2.0" fill="#d3d3d3" stroke="#000" stroke-width="1.8"/>
<line x1="400.4" y1="1485.5" x2="400.4" y2="1479.4" stroke="#000" stroke-width="1.8" stroke-linecap="butt"/>
<line x1="396.0" y1="1479.4" x2="404.8" y2="1479.4" stroke="#000" stroke-width="1.8" stroke-linecap="butt"/>
<rect x="390.9" y="1486.4" width="19.0" height="24.3" fill="#e84343" stroke="#000" stroke-width="1.8"/>
<line x1="102.0" y1="1293.7" x2="102.0" y2="1511.5" stroke="#000" stroke-width="1.7" stroke-linecap="butt"/>
<line x1="95.5" y1="1510.7" x2="426.6" y2="1510.7" stroke="#000" stroke-width="1.7" stroke-linecap="butt"/>
<line x1="95.5" y1="1510.7" x2="102.0" y2="1510.7" stroke="#000" stroke-width="1.7" stroke-linecap="butt"/>
<text x="94.0" y="1511.2" text-anchor="end" dominant-baseline="central" fill="#000" style="font-size:15.5px;font-weight:bold;">0</text>
<line x1="95.5" y1="1438.6" x2="102.0" y2="1438.6" stroke="#000" stroke-width="1.7" stroke-linecap="butt"/>
<text x="94.0" y="1439.1" text-anchor="end" dominant-baseline="central" fill="#000" style="font-size:15.5px;font-weight:bold;">2</text>
<line x1="95.5" y1="1366.6" x2="102.0" y2="1366.6" stroke="#000" stroke-width="1.7" stroke-linecap="butt"/>
<text x="94.0" y="1367.1" text-anchor="end" dominant-baseline="central" fill="#000" style="font-size:15.5px;font-weight:bold;">4</text>
<line x1="95.5" y1="1294.5" x2="102.0" y2="1294.5" stroke="#000" stroke-width="1.7" stroke-linecap="butt"/>
<text x="94.0" y="1295.0" text-anchor="end" dominant-baseline="central" fill="#000" style="font-size:15.5px;font-weight:bold;">6</text>
<line x1="142.4" y1="1510.7" x2="142.4" y2="1515.7" stroke="#000" stroke-width="1.7" stroke-linecap="butt"/>
<line x1="223.0" y1="1510.7" x2="223.0" y2="1515.7" stroke="#000" stroke-width="1.7" stroke-linecap="butt"/>
<line x1="303.4" y1="1510.7" x2="303.4" y2="1515.7" stroke="#000" stroke-width="1.7" stroke-linecap="butt"/>
<line x1="384.7" y1="1510.7" x2="384.7" y2="1515.7" stroke="#000" stroke-width="1.7" stroke-linecap="butt"/>
<text x="0" y="0" text-anchor="middle" dominant-baseline="central" fill="#000" style="font-size:18px;font-weight:bold;" transform="translate(68.0 1401.0) rotate(-90)">% of input</text>
<rect x="448.9" y="1303.8" width="23.2" height="10.5" fill="#d3d3d3" stroke="#000" stroke-width="1.8"/>
<text x="485.0" y="1309.5" text-anchor="start" dominant-baseline="central" fill="#000" style="font-size:17.5px;">IgG</text>
<rect x="448.9" y="1331.8" width="23.2" height="10.5" fill="#e84343" stroke="#000" stroke-width="1.8"/>
<text x="485.0" y="1337.5" text-anchor="start" dominant-baseline="central" fill="#000" style="font-size:17.5px;">Tet1</text>
<line x1="159.0" y1="1305.5" x2="320.0" y2="1305.5" stroke="#000" stroke-width="1.7" stroke-linecap="butt"/>
<line x1="159.0" y1="1299.5" x2="159.0" y2="1311.5" stroke="#000" stroke-width="1.7" stroke-linecap="butt"/>
<line x1="320.0" y1="1299.5" x2="320.0" y2="1311.5" stroke="#000" stroke-width="1.7" stroke-linecap="butt"/>
<text x="239.5" y="1300.5" text-anchor="middle" dominant-baseline="central" fill="#000" style="font-size:23px;">**</text>
<line x1="320.0" y1="1289.0" x2="401.5" y2="1289.0" stroke="#000" stroke-width="1.7" stroke-linecap="butt"/>
<line x1="320.0" y1="1283.0" x2="320.0" y2="1295.0" stroke="#000" stroke-width="1.7" stroke-linecap="butt"/>
<line x1="401.5" y1="1283.0" x2="401.5" y2="1295.0" stroke="#000" stroke-width="1.7" stroke-linecap="butt"/>
<text x="360.8" y="1284.0" text-anchor="middle" dominant-baseline="central" fill="#000" style="font-size:23px;">**</text>
<text x="138.6" y="1529.0" text-anchor="middle" dominant-baseline="central" fill="#000" style="font-size:16px;font-weight:bold;">shCtrl</text>
<text x="220.0" y="1529.0" text-anchor="middle" dominant-baseline="central" fill="#000" style="font-size:16px;font-weight:bold;">shNAMPT</text>
<text x="299.6" y="1528.0" text-anchor="middle" dominant-baseline="central" fill="#000" style="font-size:16px;font-weight:bold;">shCtrl</text>
<text x="381.6" y="1528.0" text-anchor="middle" dominant-baseline="central" fill="#000" style="font-size:16px;font-weight:bold;">shNAMPT</text>
<line x1="138.0" y1="1541.6" x2="223.0" y2="1541.6" stroke="#000" stroke-width="1.6" stroke-linecap="butt"/>
<line x1="302.0" y1="1540.6" x2="387.8" y2="1540.6" stroke="#000" stroke-width="1.6" stroke-linecap="butt"/>
<text x="185.0" y="1555.0" text-anchor="middle" dominant-baseline="central" fill="#000" style="font-size:16.1px;font-weight:bold;">IFNγ (-)</text>
<text x="350.0" y="1553.6" text-anchor="middle" dominant-baseline="central" fill="#000" style="font-size:16.1px;font-weight:bold;">IFNγ (+)</text>
<text x="7.4" y="1636.2" text-anchor="start" dominant-baseline="alphabetic" fill="#000" style="font-size:37px;font-weight:bold;">J</text>
<rect x="195.8" y="1615.6" width="202.5" height="29.2" fill="#f2f2f2" stroke="#000" stroke-width="1.5"/>
<text x="295.0" y="1630.5" text-anchor="middle" dominant-baseline="central" fill="#000" style="font-size:16.3px;">IFNγ (+)</text>
<rect x="118.9" y="1892.8" width="9.6" height="11.9" fill="#f19999"/>
<rect x="181.5" y="1892.8" width="9.3" height="11.9" fill="#f19999"/>
<rect x="272.6" y="1892.8" width="9.6" height="11.9" fill="#f19999"/>
<rect x="290.5" y="1688.4" width="9.6" height="216.3" fill="#f19999"/>
<rect x="317.0" y="1688.4" width="9.3" height="216.3" fill="#f19999"/>
<rect x="364.9" y="1784.0" width="9.3" height="120.7" fill="#f19999"/>
<rect x="379.6" y="1892.8" width="2.2" height="11.9" fill="#f19999"/>
<rect x="381.5" y="1807.9" width="7.3" height="96.8" fill="#f19999"/>
<rect x="388.5" y="1819.9" width="1.9" height="84.8" fill="#f19999"/>
<rect x="403.2" y="1831.8" width="9.3" height="72.9" fill="#f19999"/>
<rect x="418.6" y="1880.8" width="2.2" height="23.9" fill="#f19999"/>
<rect x="420.5" y="1748.2" width="7.0" height="156.5" fill="#f19999"/>
<rect x="427.2" y="1773.2" width="1.9" height="131.4" fill="#f19999"/>
<rect x="428.8" y="1856.9" width="1.3" height="47.8" fill="#f19999"/>
<rect x="437.8" y="1892.8" width="8.9" height="11.9" fill="#f19999"/>
<rect x="448.3" y="1880.8" width="9.3" height="23.9" fill="#f19999"/>
<rect x="118.9" y="2149.1" width="8.0" height="11.9" fill="#5590d6"/>
<rect x="167.4" y="2137.1" width="9.3" height="23.9" fill="#5590d6"/>
<rect x="178.6" y="2113.2" width="8.0" height="47.8" fill="#5590d6"/>
<rect x="197.1" y="2137.1" width="3.8" height="23.9" fill="#5590d6"/>
<rect x="200.7" y="2089.3" width="7.0" height="71.7" fill="#5590d6"/>
<rect x="207.4" y="2113.2" width="3.5" height="47.8" fill="#5590d6"/>
<rect x="234.5" y="2101.2" width="10.5" height="59.8" fill="#5590d6"/>
<rect x="251.2" y="2101.2" width="10.5" height="59.8" fill="#5590d6"/>
<rect x="272.6" y="2137.1" width="10.5" height="23.9" fill="#5590d6"/>
<rect x="298.4" y="2137.1" width="10.2" height="23.9" fill="#5590d6"/>
<rect x="387.9" y="2137.1" width="10.2" height="23.9" fill="#5590d6"/>
<rect x="415.7" y="2137.1" width="6.1" height="23.9" fill="#5590d6"/>
<rect x="421.5" y="2041.5" width="5.1" height="119.5" fill="#5590d6"/>
<rect x="426.3" y="2065.4" width="5.4" height="95.6" fill="#5590d6"/>
<line x1="118.2" y1="1664.7" x2="118.2" y2="1905.7" stroke="#000" stroke-width="2" stroke-linecap="butt"/>
<line x1="118.2" y1="1904.7" x2="477.7" y2="1904.7" stroke="#000" stroke-width="2" stroke-linecap="butt"/>
<line x1="118.2" y1="1904.7" x2="118.2" y2="1911.7" stroke="#000" stroke-width="2" stroke-linecap="butt"/>
<line x1="136.1" y1="1904.7" x2="136.1" y2="1911.7" stroke="#000" stroke-width="2" stroke-linecap="butt"/>
<line x1="154.1" y1="1904.7" x2="154.1" y2="1911.7" stroke="#000" stroke-width="2" stroke-linecap="butt"/>
<line x1="172.0" y1="1904.7" x2="172.0" y2="1911.7" stroke="#000" stroke-width="2" stroke-linecap="butt"/>
<line x1="189.9" y1="1904.7" x2="189.9" y2="1911.7" stroke="#000" stroke-width="2" stroke-linecap="butt"/>
<line x1="207.8" y1="1904.7" x2="207.8" y2="1911.7" stroke="#000" stroke-width="2" stroke-linecap="butt"/>
<line x1="225.8" y1="1904.7" x2="225.8" y2="1911.7" stroke="#000" stroke-width="2" stroke-linecap="butt"/>
<line x1="243.7" y1="1904.7" x2="243.7" y2="1911.7" stroke="#000" stroke-width="2" stroke-linecap="butt"/>
<line x1="261.6" y1="1904.7" x2="261.6" y2="1911.7" stroke="#000" stroke-width="2" stroke-linecap="butt"/>
<line x1="279.5" y1="1904.7" x2="279.5" y2="1911.7" stroke="#000" stroke-width="2" stroke-linecap="butt"/>
<line x1="297.4" y1="1904.7" x2="297.4" y2="1911.7" stroke="#000" stroke-width="2" stroke-linecap="butt"/>
<line x1="315.4" y1="1904.7" x2="315.4" y2="1911.7" stroke="#000" stroke-width="2" stroke-linecap="butt"/>
<line x1="333.3" y1="1904.7" x2="333.3" y2="1911.7" stroke="#000" stroke-width="2" stroke-linecap="butt"/>
<line x1="351.2" y1="1904.7" x2="351.2" y2="1911.7" stroke="#000" stroke-width="2" stroke-linecap="butt"/>
<line x1="369.2" y1="1904.7" x2="369.2" y2="1911.7" stroke="#000" stroke-width="2" stroke-linecap="butt"/>
<line x1="387.1" y1="1904.7" x2="387.1" y2="1911.7" stroke="#000" stroke-width="2" stroke-linecap="butt"/>
<line x1="405.0" y1="1904.7" x2="405.0" y2="1911.7" stroke="#000" stroke-width="2" stroke-linecap="butt"/>
<line x1="422.9" y1="1904.7" x2="422.9" y2="1911.7" stroke="#000" stroke-width="2" stroke-linecap="butt"/>
<line x1="440.9" y1="1904.7" x2="440.9" y2="1911.7" stroke="#000" stroke-width="2" stroke-linecap="butt"/>
<line x1="458.8" y1="1904.7" x2="458.8" y2="1911.7" stroke="#000" stroke-width="2" stroke-linecap="butt"/>
<line x1="476.7" y1="1904.7" x2="476.7" y2="1911.7" stroke="#000" stroke-width="2" stroke-linecap="butt"/>
<line x1="110.2" y1="1904.7" x2="118.2" y2="1904.7" stroke="#000" stroke-width="2" stroke-linecap="butt"/>
<text x="108.2" y="1905.2" text-anchor="end" dominant-baseline="central" fill="#000" style="font-size:17.5px;font-weight:bold;">0</text>
<line x1="110.2" y1="1785.2" x2="118.2" y2="1785.2" stroke="#000" stroke-width="2" stroke-linecap="butt"/>
<text x="108.2" y="1785.7" text-anchor="end" dominant-baseline="central" fill="#000" style="font-size:17.5px;font-weight:bold;">10</text>
<line x1="110.2" y1="1665.7" x2="118.2" y2="1665.7" stroke="#000" stroke-width="2" stroke-linecap="butt"/>
<text x="108.2" y="1666.2" text-anchor="end" dominant-baseline="central" fill="#000" style="font-size:17.5px;font-weight:bold;">20</text>
<line x1="118.2" y1="1921.3" x2="118.2" y2="2162.0" stroke="#000" stroke-width="2" stroke-linecap="butt"/>
<line x1="118.2" y1="2161.0" x2="477.7" y2="2161.0" stroke="#000" stroke-width="2" stroke-linecap="butt"/>
<line x1="118.2" y1="2161.0" x2="118.2" y2="2168.0" stroke="#000" stroke-width="2" stroke-linecap="butt"/>
<line x1="136.1" y1="2161.0" x2="136.1" y2="2168.0" stroke="#000" stroke-width="2" stroke-linecap="butt"/>
<line x1="154.1" y1="2161.0" x2="154.1" y2="2168.0" stroke="#000" stroke-width="2" stroke-linecap="butt"/>
<line x1="172.0" y1="2161.0" x2="172.0" y2="2168.0" stroke="#000" stroke-width="2" stroke-linecap="butt"/>
<line x1="189.9" y1="2161.0" x2="189.9" y2="2168.0" stroke="#000" stroke-width="2" stroke-linecap="butt"/>
<line x1="207.8" y1="2161.0" x2="207.8" y2="2168.0" stroke="#000" stroke-width="2" stroke-linecap="butt"/>
<line x1="225.8" y1="2161.0" x2="225.8" y2="2168.0" stroke="#000" stroke-width="2" stroke-linecap="butt"/>
<line x1="243.7" y1="2161.0" x2="243.7" y2="2168.0" stroke="#000" stroke-width="2" stroke-linecap="butt"/>
<line x1="261.6" y1="2161.0" x2="261.6" y2="2168.0" stroke="#000" stroke-width="2" stroke-linecap="butt"/>
<line x1="279.5" y1="2161.0" x2="279.5" y2="2168.0" stroke="#000" stroke-width="2" stroke-linecap="butt"/>
<line x1="297.4" y1="2161.0" x2="297.4" y2="2168.0" stroke="#000" stroke-width="2" stroke-linecap="butt"/>
<line x1="315.4" y1="2161.0" x2="315.4" y2="2168.0" stroke="#000" stroke-width="2" stroke-linecap="butt"/>
<line x1="333.3" y1="2161.0" x2="333.3" y2="2168.0" stroke="#000" stroke-width="2" stroke-linecap="butt"/>
<line x1="351.2" y1="2161.0" x2="351.2" y2="2168.0" stroke="#000" stroke-width="2" stroke-linecap="butt"/>
<line x1="369.2" y1="2161.0" x2="369.2" y2="2168.0" stroke="#000" stroke-width="2" stroke-linecap="butt"/>
<line x1="387.1" y1="2161.0" x2="387.1" y2="2168.0" stroke="#000" stroke-width="2" stroke-linecap="butt"/>
<line x1="405.0" y1="2161.0" x2="405.0" y2="2168.0" stroke="#000" stroke-width="2" stroke-linecap="butt"/>
<line x1="422.9" y1="2161.0" x2="422.9" y2="2168.0" stroke="#000" stroke-width="2" stroke-linecap="butt"/>
<line x1="440.9" y1="2161.0" x2="440.9" y2="2168.0" stroke="#000" stroke-width="2" stroke-linecap="butt"/>
<line x1="458.8" y1="2161.0" x2="458.8" y2="2168.0" stroke="#000" stroke-width="2" stroke-linecap="butt"/>
<line x1="476.7" y1="2161.0" x2="476.7" y2="2168.0" stroke="#000" stroke-width="2" stroke-linecap="butt"/>
<line x1="110.2" y1="2161.0" x2="118.2" y2="2161.0" stroke="#000" stroke-width="2" stroke-linecap="butt"/>
<text x="108.2" y="2161.5" text-anchor="end" dominant-baseline="central" fill="#000" style="font-size:17.5px;font-weight:bold;">0</text>
<line x1="110.2" y1="2041.5" x2="118.2" y2="2041.5" stroke="#000" stroke-width="2" stroke-linecap="butt"/>
<text x="108.2" y="2042.0" text-anchor="end" dominant-baseline="central" fill="#000" style="font-size:17.5px;font-weight:bold;">10</text>
<line x1="110.2" y1="1922.0" x2="118.2" y2="1922.0" stroke="#000" stroke-width="2" stroke-linecap="butt"/>
<text x="108.2" y="1922.5" text-anchor="end" dominant-baseline="central" fill="#000" style="font-size:17.5px;font-weight:bold;">20</text>
<text x="198.0" y="1698.0" text-anchor="middle" dominant-baseline="central" fill="#ee7c82" style="font-size:22px;font-weight:bold;">shCtrl</text>
<text x="202.5" y="1722.0" text-anchor="middle" dominant-baseline="central" fill="#ee7c82" style="font-size:16.2px;font-weight:bold;">(Total 5hmC=<tspan font-size="20">2980</tspan>)</text>
<text x="198.0" y="1946.0" text-anchor="middle" dominant-baseline="central" fill="#4956a6" style="font-size:22px;font-weight:bold;">shNampt</text>
<text x="203.0" y="1976.0" text-anchor="middle" dominant-baseline="central" fill="#4956a6" style="font-size:16.2px;font-weight:bold;">(Total 5hmC=<tspan font-size="20">1408</tspan>)</text>
<text x="0" y="0" text-anchor="middle" dominant-baseline="central" fill="#000" style="font-size:21px;font-weight:bold;" transform="translate(47.0 1916.0) rotate(-90)">5hmC</text>
<text x="0" y="0" text-anchor="middle" dominant-baseline="central" fill="#000" style="font-size:18.2px;font-weight:bold;" transform="translate(71.0 1916.0) rotate(-90)">(reads numbers)</text>
<text x="114.4" y="2181.5" text-anchor="middle" dominant-baseline="central" fill="#000" style="font-size:17.5px;font-weight:bold;">-2000</text>
<text x="481.5" y="2181.5" text-anchor="middle" dominant-baseline="central" fill="#000" style="font-size:17.5px;font-weight:bold;">TSS</text>
<text x="292.4" y="2197.0" text-anchor="middle" dominant-baseline="central" fill="#000" style="font-size:18.5px;font-weight:bold;"><tspan font-style="italic">Irf1</tspan> promoter</text>
<text x="528.0" y="1675.6" text-anchor="start" dominant-baseline="alphabetic" fill="#000" style="font-size:37px;font-weight:bold;">K</text>
<text x="841.0" y="1668.0" text-anchor="middle" dominant-baseline="central" fill="#d5121e" style="font-size:22px;font-weight:bold;font-style:italic;">Irf1</text>
<rect x="648.2" y="1719.0" width="163.0" height="75.7" fill="#a09ea3"/>
<rect x="648.2" y="1827.4" width="324.0" height="76.0" fill="#0b0707"/>
<rect x="648.2" y="1684.5" width="379.0" height="252.5" fill="none" stroke="#000" stroke-width="2"/>
<line x1="648.2" y1="1937.0" x2="648.2" y2="1944.5" stroke="#000" stroke-width="2" stroke-linecap="butt"/>
<text x="648.2" y="1959.5" text-anchor="middle" dominant-baseline="central" fill="#000" style="font-size:17.5px;font-weight:bold;">0</text>
<line x1="742.9" y1="1937.0" x2="742.9" y2="1944.5" stroke="#000" stroke-width="2" stroke-linecap="butt"/>
<text x="742.9" y="1959.5" text-anchor="middle" dominant-baseline="central" fill="#000" style="font-size:17.5px;font-weight:bold;">10</text>
<line x1="837.6" y1="1937.0" x2="837.6" y2="1944.5" stroke="#000" stroke-width="2" stroke-linecap="butt"/>
<text x="837.6" y="1959.5" text-anchor="middle" dominant-baseline="central" fill="#000" style="font-size:17.5px;font-weight:bold;">20</text>
<line x1="932.3" y1="1937.0" x2="932.3" y2="1944.5" stroke="#000" stroke-width="2" stroke-linecap="butt"/>
<text x="932.3" y="1959.5" text-anchor="middle" dominant-baseline="central" fill="#000" style="font-size:17.5px;font-weight:bold;">30</text>
<line x1="1027.0" y1="1937.0" x2="1027.0" y2="1944.5" stroke="#000" stroke-width="2" stroke-linecap="butt"/>
<text x="1027.0" y="1959.5" text-anchor="middle" dominant-baseline="central" fill="#000" style="font-size:17.5px;font-weight:bold;">40</text>
<line x1="640.5" y1="1757.0" x2="648.0" y2="1757.0" stroke="#000" stroke-width="2" stroke-linecap="butt"/>
<line x1="640.5" y1="1865.5" x2="648.0" y2="1865.5" stroke="#000" stroke-width="2" stroke-linecap="butt"/>
<text x="638.5" y="1757.0" text-anchor="end" dominant-baseline="central" fill="#000" style="font-size:19.4px;font-weight:bold;">shCtrl</text>
<text x="638.5" y="1865.5" text-anchor="end" dominant-baseline="central" fill="#000" style="font-size:19.4px;font-weight:bold;">shNampt</text>
<text x="735.8" y="1756.0" text-anchor="middle" dominant-baseline="central" fill="#fff" style="font-size:20px;font-weight:bold;">17%</text>
<text x="815.0" y="1865.0" text-anchor="middle" dominant-baseline="central" fill="#fff" style="font-size:20px;font-weight:bold;">34%</text>
<text x="849.0" y="1985.5" text-anchor="middle" dominant-baseline="central" fill="#000" style="font-size:18.5px;font-weight:bold;">Promoter CpG methylation (%)</text>
<text x="0" y="0" text-anchor="middle" dominant-baseline="central" fill="#000" style="font-size:19.2px;" transform="translate(1046.0 1804.0) rotate(90)" stroke="#000" stroke-width="0.5">IFNγ (+)</text>
<text x="1093.0" y="1856.5" text-anchor="start" dominant-baseline="alphabetic" fill="#000" style="font-size:37px;font-weight:bold;">L</text>
<text x="1449.3" y="1845.5" text-anchor="middle" dominant-baseline="central" fill="#000" style="font-size:25.5px;font-weight:bold;">HCC (TCGA)</text>
<text x="1447.4" y="1882.0" text-anchor="middle" dominant-baseline="central" fill="#000" style="font-size:26.5px;">***</text>
<line x1="1366.0" y1="1888.0" x2="1536.0" y2="1888.0" stroke="#000" stroke-width="2" stroke-linecap="butt"/>
<line x1="1250.8" y1="1892.7" x2="1250.8" y2="1944.0" stroke="#000" stroke-width="2" stroke-linecap="butt"/>
<line x1="1250.8" y1="1962.0" x2="1250.8" y2="2159.8" stroke="#000" stroke-width="2" stroke-linecap="butt"/>
<line x1="1243.3" y1="1893.7" x2="1250.8" y2="1893.7" stroke="#000" stroke-width="2" stroke-linecap="butt"/>
<text x="1240.8" y="1894.5" text-anchor="end" dominant-baseline="central" fill="#000" style="font-size:20px;font-weight:bold;">400</text>
<line x1="1243.3" y1="1943.0" x2="1258.3" y2="1943.0" stroke="#000" stroke-width="2" stroke-linecap="butt"/>
<text x="1240.8" y="1943.8" text-anchor="end" dominant-baseline="central" fill="#000" style="font-size:20px;font-weight:bold;">200</text>
<line x1="1243.3" y1="1963.0" x2="1258.3" y2="1963.0" stroke="#000" stroke-width="2" stroke-linecap="butt"/>
<text x="1240.8" y="1963.8" text-anchor="end" dominant-baseline="central" fill="#000" style="font-size:20px;font-weight:bold;">60</text>
<line x1="1243.3" y1="2028.0" x2="1250.8" y2="2028.0" stroke="#000" stroke-width="2" stroke-linecap="butt"/>
<text x="1240.8" y="2028.8" text-anchor="end" dominant-baseline="central" fill="#000" style="font-size:20px;font-weight:bold;">40</text>
<line x1="1243.3" y1="2093.0" x2="1250.8" y2="2093.0" stroke="#000" stroke-width="2" stroke-linecap="butt"/>
<text x="1240.8" y="2093.8" text-anchor="end" dominant-baseline="central" fill="#000" style="font-size:20px;font-weight:bold;">20</text>
<line x1="1243.3" y1="2158.8" x2="1250.8" y2="2158.8" stroke="#000" stroke-width="2" stroke-linecap="butt"/>
<text x="1240.8" y="2159.6" text-anchor="end" dominant-baseline="central" fill="#000" style="font-size:20px;font-weight:bold;">0</text>
<path d="M1364.1,2158.8 C1360.2,2158.5 1349.7,2158.0 1342.0,2157.0 C1334.3,2156.0 1323.3,2154.4 1317.8,2153.0 C1312.3,2151.5 1308.9,2149.7 1308.9,2148.1 C1308.9,2146.5 1315.5,2145.4 1317.8,2143.5 C1320.2,2141.7 1322.8,2139.1 1322.9,2137.2 C1323.0,2135.3 1318.0,2133.8 1318.6,2132.1 C1319.2,2130.4 1323.3,2128.5 1326.7,2127.0 C1330.2,2125.5 1336.1,2124.7 1339.5,2123.2 C1342.8,2121.7 1345.2,2120.4 1347.1,2118.1 C1349.0,2115.8 1349.7,2112.2 1350.7,2109.2 C1351.6,2106.2 1351.6,2102.8 1352.7,2100.3 C1353.8,2097.7 1355.9,2096.0 1357.3,2093.9 C1358.7,2091.8 1360.2,2090.1 1361.1,2087.6 C1361.9,2085.0 1362.1,2082.7 1362.4,2078.7 C1362.7,2074.6 1362.8,2068.5 1362.9,2063.4 C1362.9,2058.3 1363.0,2051.9 1362.9,2048.1 C1362.7,2044.3 1362.3,2042.8 1361.8,2040.5 C1361.4,2038.2 1360.4,2035.8 1360.1,2034.1 C1359.8,2032.4 1358.5,2030.9 1360.1,2030.3 C1361.7,2029.7 1368.1,2029.7 1369.7,2030.3 C1371.3,2030.9 1370.0,2032.4 1369.7,2034.1 C1369.4,2035.8 1368.4,2038.2 1368.0,2040.5 C1367.5,2042.8 1367.1,2044.3 1366.9,2048.1 C1366.8,2051.9 1366.9,2058.3 1366.9,2063.4 C1367.0,2068.5 1367.1,2074.6 1367.4,2078.7 C1367.7,2082.7 1367.9,2085.0 1368.7,2087.6 C1369.6,2090.1 1371.1,2091.8 1372.5,2093.9 C1373.9,2096.0 1376.0,2097.7 1377.1,2100.3 C1378.2,2102.8 1378.2,2106.2 1379.1,2109.2 C1380.1,2112.2 1380.8,2115.8 1382.7,2118.1 C1384.6,2120.4 1387.0,2121.7 1390.3,2123.2 C1393.7,2124.7 1399.6,2125.5 1403.1,2127.0 C1406.5,2128.5 1410.6,2130.4 1411.2,2132.1 C1411.8,2133.8 1406.8,2135.3 1406.9,2137.2 C1407.0,2139.1 1409.6,2141.7 1412.0,2143.5 C1414.3,2145.4 1420.9,2146.5 1420.9,2148.1 C1420.9,2149.7 1417.5,2151.5 1412.0,2153.0 C1406.5,2154.4 1395.5,2156.0 1387.8,2157.0 C1380.1,2158.0 1369.6,2158.5 1365.7,2158.8 C1361.7,2159.1 1368.1,2159.1 1364.1,2158.8Z" fill="#a5c5ea" stroke="#173f9f" stroke-width="2.8" stroke-linejoin="round"/>
<path d="M1534.0,2158.8 C1530.9,2158.5 1524.1,2158.3 1517.0,2157.0 C1509.9,2155.8 1497.9,2153.8 1491.5,2151.2 C1485.2,2148.5 1480.1,2144.2 1478.8,2141.0 C1477.5,2137.8 1481.8,2135.1 1483.9,2132.1 C1486.0,2129.1 1488.2,2126.1 1491.5,2123.2 C1494.9,2120.2 1500.3,2117.2 1503.8,2114.3 C1507.2,2111.3 1510.7,2108.8 1512.4,2105.4 C1514.1,2102.0 1514.0,2097.7 1514.2,2093.9 C1514.4,2090.1 1512.9,2085.9 1513.7,2082.5 C1514.5,2079.1 1517.0,2077.2 1519.0,2073.6 C1521.0,2070.0 1523.9,2065.1 1525.6,2060.8 C1527.3,2056.6 1528.3,2052.4 1529.2,2048.1 C1530.1,2043.9 1530.6,2039.6 1531.2,2035.4 C1531.8,2031.2 1532.6,2026.5 1532.8,2022.7 C1532.9,2018.9 1532.5,2015.9 1532.3,2012.5 C1532.0,2009.1 1531.2,2005.7 1531.2,2002.3 C1531.3,1998.9 1532.3,1996.0 1532.8,1992.1 C1533.2,1988.3 1533.7,1984.2 1534.0,1979.4 C1534.3,1974.7 1534.4,1966.3 1534.5,1963.6 C1534.7,1961.0 1534.9,1961.0 1535.1,1963.6 C1535.2,1966.3 1535.3,1974.7 1535.6,1979.4 C1535.9,1984.2 1536.4,1988.3 1536.8,1992.1 C1537.3,1996.0 1538.3,1998.9 1538.4,2002.3 C1538.4,2005.7 1537.6,2009.1 1537.3,2012.5 C1537.1,2015.9 1536.7,2018.9 1536.8,2022.7 C1537.0,2026.5 1537.8,2031.2 1538.4,2035.4 C1539.0,2039.6 1539.5,2043.9 1540.4,2048.1 C1541.3,2052.4 1542.3,2056.6 1544.0,2060.8 C1545.7,2065.1 1548.6,2070.0 1550.6,2073.6 C1552.6,2077.2 1555.1,2079.1 1555.9,2082.5 C1556.7,2085.9 1555.2,2090.1 1555.4,2093.9 C1555.6,2097.7 1555.5,2102.0 1557.2,2105.4 C1558.9,2108.8 1562.4,2111.3 1565.8,2114.3 C1569.3,2117.2 1574.7,2120.2 1578.1,2123.2 C1581.4,2126.1 1583.6,2129.1 1585.7,2132.1 C1587.8,2135.1 1592.1,2137.8 1590.8,2141.0 C1589.5,2144.2 1584.4,2148.5 1578.1,2151.2 C1571.7,2153.8 1559.7,2155.8 1552.6,2157.0 C1545.5,2158.3 1538.7,2158.5 1535.6,2158.8 C1532.5,2159.1 1537.1,2159.1 1534.0,2158.8Z" fill="#f4a1a1" stroke="#9f1b21" stroke-width="2.8" stroke-linejoin="round"/>
<line x1="1322.9" y1="2135.9" x2="1406.9" y2="2135.9" stroke="#173f9f" stroke-width="2"/>
<line x1="1322.9" y1="2147.4" x2="1406.9" y2="2147.4" stroke="#173f9f" stroke-width="1.6" stroke-dasharray="6,4"/>
<line x1="1350.1" y1="2120.6" x2="1379.7" y2="2120.6" stroke="#173f9f" stroke-width="1.6" stroke-dasharray="6,4"/>
<line x1="1492.1" y1="2123.2" x2="1577.5" y2="2123.2" stroke="#9f1b21" stroke-width="2"/>
<line x1="1517.5" y1="2082.5" x2="1552.1" y2="2082.5" stroke="#9f1b21" stroke-width="1.8" stroke-dasharray="6,4"/>
<line x1="1480.9" y1="2141.0" x2="1588.7" y2="2141.0" stroke="#9f1b21" stroke-width="1.8" stroke-dasharray="6,4"/>
<line x1="1534.8" y1="1902.6" x2="1534.8" y2="1942.0" stroke="#9f1b21" stroke-width="2" stroke-linecap="butt"/>
<circle cx="1534.8" cy="1902.6" r="2.3" fill="#0b0707"/>
<line x1="1532.3" y1="1902.6" x2="1537.3" y2="1902.6" stroke="#9f1b21" stroke-width="1.5" stroke-linecap="butt"/>
<circle cx="1534.8" cy="1920.4" r="2.3" fill="#0b0707"/>
<line x1="1532.3" y1="1920.4" x2="1537.3" y2="1920.4" stroke="#9f1b21" stroke-width="1.5" stroke-linecap="butt"/>
<circle cx="1534.8" cy="1942.0" r="2.3" fill="#0b0707"/>
<line x1="1532.3" y1="1942.0" x2="1537.3" y2="1942.0" stroke="#9f1b21" stroke-width="1.5" stroke-linecap="butt"/>
<circle cx="1361.5" cy="2156.2" r="1.9" fill="#0b0707"/>
<circle cx="1368.3" cy="2156.0" r="1.9" fill="#0b0707"/>
<circle cx="1333.1" cy="2152.6" r="1.9" fill="#0b0707"/>
<circle cx="1338.9" cy="2153.0" r="1.9" fill="#0b0707"/>
<circle cx="1345.3" cy="2152.8" r="1.9" fill="#0b0707"/>
<circle cx="1351.7" cy="2152.0" r="1.9" fill="#0b0707"/>
<circle cx="1358.4" cy="2153.7" r="1.9" fill="#0b0707"/>
<circle cx="1364.4" cy="2152.3" r="1.9" fill="#0b0707"/>
<circle cx="1371.4" cy="2154.0" r="1.9" fill="#0b0707"/>
<circle cx="1377.7" cy="2152.7" r="1.9" fill="#0b0707"/>
<circle cx="1384.6" cy="2151.9" r="1.9" fill="#0b0707"/>
<circle cx="1390.8" cy="2152.4" r="1.9" fill="#0b0707"/>
<circle cx="1396.3" cy="2152.0" r="1.9" fill="#0b0707"/>
<circle cx="1329.7" cy="2150.1" r="1.9" fill="#0b0707"/>
<circle cx="1335.9" cy="2149.6" r="1.9" fill="#0b0707"/>
<circle cx="1342.8" cy="2149.1" r="1.9" fill="#0b0707"/>
<circle cx="1349.1" cy="2148.3" r="1.9" fill="#0b0707"/>
<circle cx="1354.8" cy="2148.7" r="1.9" fill="#0b0707"/>
<circle cx="1361.9" cy="2149.2" r="1.9" fill="#0b0707"/>
<circle cx="1367.9" cy="2149.6" r="1.9" fill="#0b0707"/>
<circle cx="1374.4" cy="2148.9" r="1.9" fill="#0b0707"/>
<circle cx="1381.2" cy="2149.9" r="1.9" fill="#0b0707"/>
<circle cx="1386.9" cy="2149.6" r="1.9" fill="#0b0707"/>
<circle cx="1393.6" cy="2150.3" r="1.9" fill="#0b0707"/>
<circle cx="1400.2" cy="2148.9" r="1.9" fill="#0b0707"/>
<circle cx="1333.7" cy="2144.9" r="1.9" fill="#0b0707"/>
<circle cx="1339.4" cy="2146.4" r="1.9" fill="#0b0707"/>
<circle cx="1345.4" cy="2145.8" r="1.9" fill="#0b0707"/>
<circle cx="1351.6" cy="2146.2" r="1.9" fill="#0b0707"/>
<circle cx="1358.9" cy="2146.0" r="1.9" fill="#0b0707"/>
<circle cx="1365.4" cy="2145.4" r="1.9" fill="#0b0707"/>
<circle cx="1371.5" cy="2146.1" r="1.9" fill="#0b0707"/>
<circle cx="1377.7" cy="2145.7" r="1.9" fill="#0b0707"/>
<circle cx="1384.4" cy="2146.9" r="1.9" fill="#0b0707"/>
<circle cx="1390.3" cy="2146.2" r="1.9" fill="#0b0707"/>
<circle cx="1396.2" cy="2146.3" r="1.9" fill="#0b0707"/>
<circle cx="1336.5" cy="2143.4" r="1.9" fill="#0b0707"/>
<circle cx="1343.0" cy="2141.7" r="1.9" fill="#0b0707"/>
<circle cx="1348.9" cy="2142.7" r="1.9" fill="#0b0707"/>
<circle cx="1354.8" cy="2142.2" r="1.9" fill="#0b0707"/>
<circle cx="1361.3" cy="2141.3" r="1.9" fill="#0b0707"/>
<circle cx="1367.6" cy="2142.9" r="1.9" fill="#0b0707"/>
<circle cx="1374.0" cy="2141.7" r="1.9" fill="#0b0707"/>
<circle cx="1380.7" cy="2143.2" r="1.9" fill="#0b0707"/>
<circle cx="1386.7" cy="2142.1" r="1.9" fill="#0b0707"/>
<circle cx="1393.6" cy="2143.2" r="1.9" fill="#0b0707"/>
<circle cx="1339.8" cy="2139.6" r="1.9" fill="#0b0707"/>
<circle cx="1345.6" cy="2138.5" r="1.9" fill="#0b0707"/>
<circle cx="1352.0" cy="2139.6" r="1.9" fill="#0b0707"/>
<circle cx="1359.1" cy="2137.9" r="1.9" fill="#0b0707"/>
<circle cx="1364.5" cy="2138.1" r="1.9" fill="#0b0707"/>
<circle cx="1370.9" cy="2138.7" r="1.9" fill="#0b0707"/>
<circle cx="1377.7" cy="2138.1" r="1.9" fill="#0b0707"/>
<circle cx="1383.4" cy="2138.5" r="1.9" fill="#0b0707"/>
<circle cx="1390.2" cy="2138.9" r="1.9" fill="#0b0707"/>
<circle cx="1336.8" cy="2135.6" r="1.9" fill="#0b0707"/>
<circle cx="1342.7" cy="2135.4" r="1.9" fill="#0b0707"/>
<circle cx="1349.2" cy="2134.1" r="1.9" fill="#0b0707"/>
<circle cx="1355.8" cy="2135.8" r="1.9" fill="#0b0707"/>
<circle cx="1362.2" cy="2135.9" r="1.9" fill="#0b0707"/>
<circle cx="1368.0" cy="2134.9" r="1.9" fill="#0b0707"/>
<circle cx="1374.0" cy="2135.5" r="1.9" fill="#0b0707"/>
<circle cx="1380.3" cy="2134.1" r="1.9" fill="#0b0707"/>
<circle cx="1386.8" cy="2134.3" r="1.9" fill="#0b0707"/>
<circle cx="1393.3" cy="2134.1" r="1.9" fill="#0b0707"/>
<circle cx="1335.7" cy="2130.7" r="1.9" fill="#0b0707"/>
<circle cx="1342.2" cy="2131.3" r="1.9" fill="#0b0707"/>
<circle cx="1348.4" cy="2132.5" r="1.9" fill="#0b0707"/>
<circle cx="1355.5" cy="2130.7" r="1.9" fill="#0b0707"/>
<circle cx="1361.4" cy="2131.2" r="1.9" fill="#0b0707"/>
<circle cx="1367.9" cy="2130.7" r="1.9" fill="#0b0707"/>
<circle cx="1374.9" cy="2132.8" r="1.9" fill="#0b0707"/>
<circle cx="1380.8" cy="2131.5" r="1.9" fill="#0b0707"/>
<circle cx="1386.7" cy="2130.6" r="1.9" fill="#0b0707"/>
<circle cx="1393.3" cy="2131.0" r="1.9" fill="#0b0707"/>
<circle cx="1343.0" cy="2127.2" r="1.9" fill="#0b0707"/>
<circle cx="1348.4" cy="2129.1" r="1.9" fill="#0b0707"/>
<circle cx="1355.4" cy="2127.2" r="1.9" fill="#0b0707"/>
<circle cx="1361.8" cy="2126.9" r="1.9" fill="#0b0707"/>
<circle cx="1368.1" cy="2129.2" r="1.9" fill="#0b0707"/>
<circle cx="1374.9" cy="2128.5" r="1.9" fill="#0b0707"/>
<circle cx="1380.5" cy="2127.7" r="1.9" fill="#0b0707"/>
<circle cx="1386.8" cy="2128.7" r="1.9" fill="#0b0707"/>
<circle cx="1355.4" cy="2125.1" r="1.9" fill="#0b0707"/>
<circle cx="1361.5" cy="2123.8" r="1.9" fill="#0b0707"/>
<circle cx="1368.5" cy="2125.6" r="1.9" fill="#0b0707"/>
<circle cx="1374.9" cy="2125.2" r="1.9" fill="#0b0707"/>
<circle cx="1355.7" cy="2121.5" r="1.9" fill="#0b0707"/>
<circle cx="1361.4" cy="2120.9" r="1.9" fill="#0b0707"/>
<circle cx="1367.9" cy="2119.8" r="1.9" fill="#0b0707"/>
<circle cx="1373.9" cy="2120.4" r="1.9" fill="#0b0707"/>
<circle cx="1358.2" cy="2117.8" r="1.9" fill="#0b0707"/>
<circle cx="1365.4" cy="2117.2" r="1.9" fill="#0b0707"/>
<circle cx="1371.8" cy="2118.5" r="1.9" fill="#0b0707"/>
<circle cx="1359.1" cy="2113.4" r="1.9" fill="#0b0707"/>
<circle cx="1364.6" cy="2113.1" r="1.9" fill="#0b0707"/>
<circle cx="1370.9" cy="2113.1" r="1.9" fill="#0b0707"/>
<circle cx="1361.9" cy="2110.7" r="1.9" fill="#0b0707"/>
<circle cx="1368.5" cy="2109.6" r="1.9" fill="#0b0707"/>
<circle cx="1358.7" cy="2106.3" r="1.9" fill="#0b0707"/>
<circle cx="1364.4" cy="2106.0" r="1.9" fill="#0b0707"/>
<circle cx="1371.8" cy="2106.3" r="1.9" fill="#0b0707"/>
<circle cx="1362.0" cy="2101.5" r="1.9" fill="#0b0707"/>
<circle cx="1367.7" cy="2102.2" r="1.9" fill="#0b0707"/>
<circle cx="1361.5" cy="2098.2" r="1.9" fill="#0b0707"/>
<circle cx="1368.6" cy="2097.2" r="1.9" fill="#0b0707"/>
<circle cx="1361.6" cy="2095.0" r="1.9" fill="#0b0707"/>
<circle cx="1368.4" cy="2093.1" r="1.9" fill="#0b0707"/>
<circle cx="1364.9" cy="2088.8" r="1.9" fill="#0b0707"/>
<circle cx="1364.9" cy="2081.2" r="1.9" fill="#0b0707"/>
<circle cx="1364.9" cy="2072.3" r="1.9" fill="#0b0707"/>
<circle cx="1364.9" cy="2046.1" r="1.9" fill="#0b0707"/>
<circle cx="1364.9" cy="2032.3" r="1.9" fill="#0b0707"/>
<circle cx="1534.8" cy="2157.0" r="1.9" fill="#0b0707"/>
<circle cx="1528.0" cy="2152.9" r="1.9" fill="#0b0707"/>
<circle cx="1535.3" cy="2154.5" r="1.9" fill="#0b0707"/>
<circle cx="1540.7" cy="2154.5" r="1.9" fill="#0b0707"/>
<circle cx="1519.5" cy="2150.8" r="1.9" fill="#0b0707"/>
<circle cx="1525.1" cy="2150.5" r="1.9" fill="#0b0707"/>
<circle cx="1531.2" cy="2149.2" r="1.9" fill="#0b0707"/>
<circle cx="1538.5" cy="2150.8" r="1.9" fill="#0b0707"/>
<circle cx="1544.4" cy="2151.4" r="1.9" fill="#0b0707"/>
<circle cx="1550.6" cy="2151.3" r="1.9" fill="#0b0707"/>
<circle cx="1516.1" cy="2146.7" r="1.9" fill="#0b0707"/>
<circle cx="1521.8" cy="2146.9" r="1.9" fill="#0b0707"/>
<circle cx="1528.1" cy="2147.6" r="1.9" fill="#0b0707"/>
<circle cx="1534.5" cy="2147.2" r="1.9" fill="#0b0707"/>
<circle cx="1540.7" cy="2148.3" r="1.9" fill="#0b0707"/>
<circle cx="1547.3" cy="2147.3" r="1.9" fill="#0b0707"/>
<circle cx="1554.0" cy="2148.3" r="1.9" fill="#0b0707"/>
<circle cx="1518.8" cy="2145.3" r="1.9" fill="#0b0707"/>
<circle cx="1525.3" cy="2144.4" r="1.9" fill="#0b0707"/>
<circle cx="1531.6" cy="2143.1" r="1.9" fill="#0b0707"/>
<circle cx="1537.9" cy="2143.5" r="1.9" fill="#0b0707"/>
<circle cx="1543.7" cy="2145.0" r="1.9" fill="#0b0707"/>
<circle cx="1550.3" cy="2144.2" r="1.9" fill="#0b0707"/>
<circle cx="1516.0" cy="2141.1" r="1.9" fill="#0b0707"/>
<circle cx="1521.9" cy="2141.0" r="1.9" fill="#0b0707"/>
<circle cx="1528.5" cy="2141.7" r="1.9" fill="#0b0707"/>
<circle cx="1534.3" cy="2141.1" r="1.9" fill="#0b0707"/>
<circle cx="1540.9" cy="2140.5" r="1.9" fill="#0b0707"/>
<circle cx="1547.8" cy="2141.0" r="1.9" fill="#0b0707"/>
<circle cx="1554.0" cy="2141.6" r="1.9" fill="#0b0707"/>
<circle cx="1522.6" cy="2137.5" r="1.9" fill="#0b0707"/>
<circle cx="1528.6" cy="2137.7" r="1.9" fill="#0b0707"/>
<circle cx="1534.8" cy="2138.1" r="1.9" fill="#0b0707"/>
<circle cx="1541.1" cy="2137.8" r="1.9" fill="#0b0707"/>
<circle cx="1547.5" cy="2138.7" r="1.9" fill="#0b0707"/>
<circle cx="1522.3" cy="2135.5" r="1.9" fill="#0b0707"/>
<circle cx="1529.0" cy="2134.1" r="1.9" fill="#0b0707"/>
<circle cx="1534.9" cy="2135.7" r="1.9" fill="#0b0707"/>
<circle cx="1541.6" cy="2133.8" r="1.9" fill="#0b0707"/>
<circle cx="1547.1" cy="2134.5" r="1.9" fill="#0b0707"/>
<circle cx="1524.7" cy="2130.4" r="1.9" fill="#0b0707"/>
<circle cx="1531.1" cy="2131.5" r="1.9" fill="#0b0707"/>
<circle cx="1538.3" cy="2132.0" r="1.9" fill="#0b0707"/>
<circle cx="1543.9" cy="2131.6" r="1.9" fill="#0b0707"/>
<circle cx="1522.3" cy="2126.6" r="1.9" fill="#0b0707"/>
<circle cx="1528.9" cy="2128.6" r="1.9" fill="#0b0707"/>
<circle cx="1534.5" cy="2128.6" r="1.9" fill="#0b0707"/>
<circle cx="1541.0" cy="2127.5" r="1.9" fill="#0b0707"/>
<circle cx="1548.1" cy="2128.3" r="1.9" fill="#0b0707"/>
<circle cx="1515.3" cy="2124.3" r="1.9" fill="#0b0707"/>
<circle cx="1522.1" cy="2124.1" r="1.9" fill="#0b0707"/>
<circle cx="1528.1" cy="2124.0" r="1.9" fill="#0b0707"/>
<circle cx="1535.1" cy="2123.3" r="1.9" fill="#0b0707"/>
<circle cx="1541.2" cy="2124.3" r="1.9" fill="#0b0707"/>
<circle cx="1546.9" cy="2124.0" r="1.9" fill="#0b0707"/>
<circle cx="1554.0" cy="2124.5" r="1.9" fill="#0b0707"/>
<circle cx="1527.9" cy="2122.6" r="1.9" fill="#0b0707"/>
<circle cx="1535.1" cy="2122.5" r="1.9" fill="#0b0707"/>
<circle cx="1540.7" cy="2120.8" r="1.9" fill="#0b0707"/>
<circle cx="1527.9" cy="2118.8" r="1.9" fill="#0b0707"/>
<circle cx="1534.5" cy="2117.2" r="1.9" fill="#0b0707"/>
<circle cx="1541.1" cy="2119.1" r="1.9" fill="#0b0707"/>
<circle cx="1528.8" cy="2114.2" r="1.9" fill="#0b0707"/>
<circle cx="1534.4" cy="2115.8" r="1.9" fill="#0b0707"/>
<circle cx="1541.2" cy="2115.3" r="1.9" fill="#0b0707"/>
<circle cx="1531.1" cy="2109.4" r="1.9" fill="#0b0707"/>
<circle cx="1538.2" cy="2110.3" r="1.9" fill="#0b0707"/>
<circle cx="1531.1" cy="2105.1" r="1.9" fill="#0b0707"/>
<circle cx="1538.1" cy="2104.8" r="1.9" fill="#0b0707"/>
<circle cx="1534.8" cy="2099.0" r="1.9" fill="#0b0707"/>
<circle cx="1531.1" cy="2094.8" r="1.9" fill="#0b0707"/>
<circle cx="1537.5" cy="2094.8" r="1.9" fill="#0b0707"/>
<circle cx="1528.4" cy="2088.4" r="1.9" fill="#0b0707"/>
<circle cx="1534.9" cy="2089.9" r="1.9" fill="#0b0707"/>
<circle cx="1540.9" cy="2087.9" r="1.9" fill="#0b0707"/>
<circle cx="1525.3" cy="2081.8" r="1.9" fill="#0b0707"/>
<circle cx="1531.2" cy="2081.7" r="1.9" fill="#0b0707"/>
<circle cx="1537.4" cy="2081.8" r="1.9" fill="#0b0707"/>
<circle cx="1544.1" cy="2082.0" r="1.9" fill="#0b0707"/>
<circle cx="1531.9" cy="2073.1" r="1.9" fill="#0b0707"/>
<circle cx="1538.0" cy="2072.8" r="1.9" fill="#0b0707"/>
<circle cx="1534.8" cy="2069.7" r="1.9" fill="#0b0707"/>
<circle cx="1531.4" cy="2059.2" r="1.9" fill="#0b0707"/>
<circle cx="1537.7" cy="2059.2" r="1.9" fill="#0b0707"/>
<circle cx="1534.8" cy="2054.5" r="1.9" fill="#0b0707"/>
<circle cx="1534.8" cy="2040.5" r="1.9" fill="#0b0707"/>
<circle cx="1534.8" cy="2036.7" r="1.9" fill="#0b0707"/>
<circle cx="1534.8" cy="2010.5" r="1.9" fill="#0b0707"/>
<circle cx="1534.8" cy="2002.3" r="1.9" fill="#0b0707"/>
<line x1="1245.0" y1="2158.8" x2="1649.0" y2="2158.8" stroke="#000" stroke-width="2" stroke-linecap="butt"/>
<line x1="1364.9" y1="2158.8" x2="1364.9" y2="2164.0" stroke="#000" stroke-width="2" stroke-linecap="butt"/>
<line x1="1534.8" y1="2158.8" x2="1534.8" y2="2164.0" stroke="#000" stroke-width="2" stroke-linecap="butt"/>
<text x="1361.5" y="2181.0" text-anchor="middle" dominant-baseline="central" fill="#000" style="font-size:19.8px;font-weight:bold;">High</text>
<text x="1361.0" y="2202.5" text-anchor="middle" dominant-baseline="central" fill="#000" style="font-size:18.6px;font-weight:bold;">(n=95)</text>
<text x="1534.5" y="2181.0" text-anchor="middle" dominant-baseline="central" fill="#000" style="font-size:19.8px;font-weight:bold;">Low</text>
<text x="1533.5" y="2202.5" text-anchor="middle" dominant-baseline="central" fill="#000" style="font-size:18.6px;font-weight:bold;">(n=95)</text>
<line x1="1307.0" y1="2217.8" x2="1594.0" y2="2217.8" stroke="#000" stroke-width="2" stroke-linecap="butt"/>
<text x="1452.4" y="2238.5" text-anchor="middle" dominant-baseline="central" fill="#000" style="font-size:19.3px;font-weight:bold;"><tspan font-style="italic">IRF1</tspan> promoter methylation</text>
<text x="0" y="0" text-anchor="middle" dominant-baseline="central" fill="#000" style="font-size:21.5px;font-weight:bold;" transform="translate(1163.6 2025.0) rotate(-90)">PD-L1 mRNA expression</text>
<text x="0" y="0" text-anchor="middle" dominant-baseline="central" fill="#000" style="font-size:20.2px;" transform="translate(1191.5 2025.0) rotate(-90)">(RPKM)</text>
</svg>
</body></html>
